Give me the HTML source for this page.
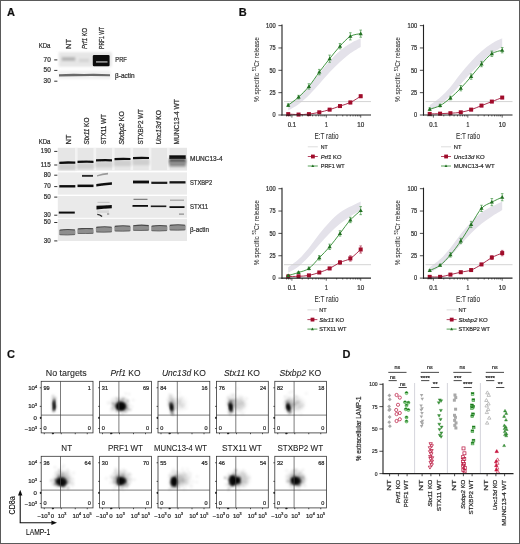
<!DOCTYPE html>
<html><head><meta charset="utf-8"><style>
html,body{margin:0;padding:0;background:#fff;}
body{width:520px;height:544px;overflow:hidden;}
svg{display:block;font-family:"Liberation Sans", sans-serif;}
text{stroke:#2a2a2a;stroke-width:0.22px;}
text.L{stroke-width:0.08px;}
</style></head><body>
<svg width="520" height="544" viewBox="0 0 520 544">
<defs>
<filter id="soft" filterUnits="userSpaceOnUse" x="0" y="0" width="520" height="544"><feGaussianBlur stdDeviation="0.3"/></filter>
<filter id="b05" x="-20%" y="-50%" width="140%" height="200%"><feGaussianBlur stdDeviation="0.5"/></filter>
<filter id="b07" x="-20%" y="-20%" width="140%" height="140%"><feGaussianBlur stdDeviation="0.8"/></filter>
<filter id="b1" x="-30%" y="-60%" width="160%" height="220%"><feGaussianBlur stdDeviation="1"/></filter>
<filter id="b2" x="-60%" y="-60%" width="220%" height="220%"><feGaussianBlur stdDeviation="2"/></filter>
</defs>
<rect x="0" y="0" width="520" height="544" fill="#fff"/>
<g filter="url(#soft)">
<text x="6.90" y="16.30" font-size="11" font-weight="bold" fill="#111" >A</text>
<text x="238.80" y="16.30" font-size="11" font-weight="bold" fill="#111" >B</text>
<text x="7.00" y="357.80" font-size="11" font-weight="bold" fill="#111" >C</text>
<text x="342.60" y="357.80" font-size="11" font-weight="bold" fill="#111" >D</text>
<g fill="#333">
<text x="38.70" y="48.00" font-size="6.4" textLength="11.80" lengthAdjust="spacingAndGlyphs" >KDa</text>
<text x="50.80" y="61.60" font-size="6.6" text-anchor="end" textLength="7.20" lengthAdjust="spacingAndGlyphs" >70</text>
<rect x="54.2" y="59.4" width="3.2" height="1.0"/>
<text x="50.80" y="72.10" font-size="6.6" text-anchor="end" textLength="7.20" lengthAdjust="spacingAndGlyphs" >50</text>
<rect x="54.2" y="69.9" width="3.2" height="1.0"/>
<text x="50.80" y="82.90" font-size="6.6" text-anchor="end" textLength="7.20" lengthAdjust="spacingAndGlyphs" >30</text>
<rect x="54.2" y="80.7" width="3.2" height="1.0"/>
<text x="71.40" y="48.90" font-size="6.9" textLength="10.00" lengthAdjust="spacingAndGlyphs" transform="rotate(-90 71.40 48.90)" >NT</text>
<text x="87.00" y="48.90" font-size="6.9" textLength="21.00" lengthAdjust="spacingAndGlyphs" transform="rotate(-90 87.00 48.90)" ><tspan font-style="italic">Prf1</tspan> KO</text>
<text x="104.40" y="48.90" font-size="6.9" textLength="22.00" lengthAdjust="spacingAndGlyphs" transform="rotate(-90 104.40 48.90)" >PRF1 WT</text>
<text x="115.30" y="61.80" font-size="6.6" textLength="11.50" lengthAdjust="spacingAndGlyphs" >PRF</text>
<text x="115.10" y="77.60" font-size="6.8" textLength="19.50" lengthAdjust="spacingAndGlyphs" >β-actin</text>
</g>
<rect x="58.7" y="52.2" width="53" height="14.6" fill="#e6e6e6" filter="url(#b1)"/>
<rect x="58.7" y="70.5" width="52" height="8.5" fill="#f1f1f1" filter="url(#b1)"/>
<rect x="61.8" y="57.2" width="13.4" height="3.6" fill="#b4b4b4" filter="url(#b1)"/>
<rect x="79" y="58.8" width="10" height="3.2" fill="#d4d4d4" filter="url(#b1)"/>
<rect x="92.8" y="54.9" width="16.8" height="11.4" rx="1.2" fill="#111" filter="url(#b05)"/>
<rect x="96.0" y="61.0" width="11.5" height="1.8" fill="#8a8a8a" filter="url(#b05)"/>
<path d="M59 74.2 Q70 73.4 84 73.9 Q98 73.5 110 74.3 L110 76.2 Q85 75.9 59 76.4Z" fill="#6a6a6a" filter="url(#b05)"/>
<g fill="#333">
<text x="38.70" y="143.60" font-size="6.4" textLength="11.80" lengthAdjust="spacingAndGlyphs" >KDa</text>
<text x="70.80" y="144.60" font-size="6.8" textLength="10.00" lengthAdjust="spacingAndGlyphs" transform="rotate(-90 70.80 144.60)" >NT</text>
<text x="88.80" y="144.60" font-size="6.8" textLength="27.00" lengthAdjust="spacingAndGlyphs" transform="rotate(-90 88.80 144.60)" ><tspan font-style="italic">Stx11</tspan> KO</text>
<text x="106.40" y="144.60" font-size="6.8" textLength="30.50" lengthAdjust="spacingAndGlyphs" transform="rotate(-90 106.40 144.60)" >STX11 WT</text>
<text x="124.20" y="144.60" font-size="6.8" textLength="33.50" lengthAdjust="spacingAndGlyphs" transform="rotate(-90 124.20 144.60)" ><tspan font-style="italic">Stxbp2</tspan> KO</text>
<text x="142.80" y="144.60" font-size="6.8" textLength="35.50" lengthAdjust="spacingAndGlyphs" transform="rotate(-90 142.80 144.60)" >STXBP2 WT</text>
<text x="161.00" y="144.60" font-size="6.8" textLength="34.50" lengthAdjust="spacingAndGlyphs" transform="rotate(-90 161.00 144.60)" ><tspan font-style="italic">Unc13d</tspan> KO</text>
<text x="179.00" y="144.60" font-size="6.8" textLength="45.50" lengthAdjust="spacingAndGlyphs" transform="rotate(-90 179.00 144.60)" >MUNC13-4 WT</text>
<text x="50.80" y="153.20" font-size="6.8" text-anchor="end" textLength="10.00" lengthAdjust="spacingAndGlyphs" >190</text>
<rect x="54.2" y="150.9" width="3.2" height="1.0"/>
<text x="50.80" y="166.80" font-size="6.8" text-anchor="end" textLength="10.00" lengthAdjust="spacingAndGlyphs" >115</text>
<rect x="54.2" y="164.5" width="3.2" height="1.0"/>
<text x="50.80" y="177.00" font-size="6.8" text-anchor="end" textLength="7.00" lengthAdjust="spacingAndGlyphs" >80</text>
<rect x="54.2" y="174.7" width="3.2" height="1.0"/>
<text x="50.80" y="188.40" font-size="6.8" text-anchor="end" textLength="7.00" lengthAdjust="spacingAndGlyphs" >70</text>
<rect x="54.2" y="186.1" width="3.2" height="1.0"/>
<text x="50.80" y="198.90" font-size="6.8" text-anchor="end" textLength="7.00" lengthAdjust="spacingAndGlyphs" >50</text>
<rect x="54.2" y="196.6" width="3.2" height="1.0"/>
<text x="50.80" y="217.00" font-size="6.8" text-anchor="end" textLength="7.00" lengthAdjust="spacingAndGlyphs" >30</text>
<rect x="54.2" y="214.7" width="3.2" height="1.0"/>
<text x="50.80" y="224.30" font-size="6.8" text-anchor="end" textLength="7.00" lengthAdjust="spacingAndGlyphs" >50</text>
<rect x="54.2" y="222.0" width="3.2" height="1.0"/>
<text x="50.80" y="242.70" font-size="6.8" text-anchor="end" textLength="7.00" lengthAdjust="spacingAndGlyphs" >30</text>
<rect x="54.2" y="240.4" width="3.2" height="1.0"/>
<text x="190.00" y="161.20" font-size="6.6" textLength="32.50" lengthAdjust="spacingAndGlyphs" >MUNC13-4</text>
<text x="190.00" y="185.40" font-size="6.6" textLength="22.20" lengthAdjust="spacingAndGlyphs" >STXBP2</text>
<text x="190.00" y="208.60" font-size="6.6" textLength="18.00" lengthAdjust="spacingAndGlyphs" >STX11</text>
<text x="190.00" y="231.80" font-size="6.8" textLength="19.00" lengthAdjust="spacingAndGlyphs" >β-actin</text>
</g>
<rect x="57.8" y="147.8" width="129.2" height="22.8" fill="#e6e6e6"/>
<rect x="57.8" y="172.4" width="129.2" height="22.2" fill="#ececec"/>
<rect x="57.8" y="196.0" width="129.2" height="21.8" fill="#eaeaea"/>
<rect x="57.8" y="218.8" width="129.2" height="22.2" fill="#e8e8e8"/>
<rect x="75.0" y="148" width="2.6" height="22.4" fill="#f3f3f3" filter="url(#b05)"/>
<rect x="93.5" y="148" width="2.6" height="22.4" fill="#f3f3f3" filter="url(#b05)"/>
<rect x="112.0" y="148" width="2.6" height="22.4" fill="#f3f3f3" filter="url(#b05)"/>
<rect x="130.5" y="148" width="2.6" height="22.4" fill="#f3f3f3" filter="url(#b05)"/>
<rect x="148.8" y="148" width="2.6" height="22.4" fill="#f3f3f3" filter="url(#b05)"/>
<rect x="167.0" y="148" width="2.6" height="22.4" fill="#f3f3f3" filter="url(#b05)"/>
<rect x="58.8" y="163.9" width="17.0" height="6" fill="#cfcfcf" filter="url(#b1)"/>
<path d="M59.3 161.7 Q67.3 161.1 75.3 161.6 L75.3 163.8 Q67.3 163.4 59.3 164.0Z" fill="#111" filter="url(#b05)"/>
<rect x="77.0" y="163.0" width="17.0" height="6" fill="#cfcfcf" filter="url(#b1)"/>
<path d="M77.5 160.8 Q85.5 160.2 93.5 160.7 L93.5 162.9 Q85.5 162.5 77.5 163.1Z" fill="#111" filter="url(#b05)"/>
<rect x="95.5" y="161.5" width="17.0" height="6" fill="#cfcfcf" filter="url(#b1)"/>
<path d="M96.0 159.3 Q104.0 158.7 112.0 159.2 L112.0 161.4 Q104.0 161.0 96.0 161.6Z" fill="#111" filter="url(#b05)"/>
<rect x="114.0" y="160.2" width="17.0" height="6" fill="#cfcfcf" filter="url(#b1)"/>
<path d="M114.5 158.0 Q122.5 157.4 130.5 157.9 L130.5 160.1 Q122.5 159.7 114.5 160.3Z" fill="#111" filter="url(#b05)"/>
<rect x="132.5" y="159.2" width="17.0" height="6" fill="#cfcfcf" filter="url(#b1)"/>
<path d="M133.0 157.0 Q141.0 156.4 149.0 156.9 L149.0 159.1 Q141.0 158.7 133.0 159.3Z" fill="#111" filter="url(#b05)"/>
<rect x="169.0" y="157.5" width="17.0" height="6" fill="#cfcfcf" filter="url(#b1)"/>
<rect x="169.3" y="155.3" width="16.4" height="3.8" fill="#0e0e0e" filter="url(#b05)"/>
<rect x="169.3" y="158.9" width="16.4" height="4" fill="#555" filter="url(#b1)"/>
<rect x="169.3" y="162.0" width="16.4" height="4.5" fill="#8a8a8a" filter="url(#b1)"/>
<path d="M96.3 184.0 Q103.5 183.0 111.9 182.2 L111.9 184.7 Q103.5 185.2 96.3 186.6Z" fill="#0a0a0a" filter="url(#b05)"/>
<rect x="59.3" y="185.1" width="16.0" height="2.4" fill="#111" filter="url(#b05)"/>
<rect x="77.5" y="184.6" width="16.0" height="2.5" fill="#111" filter="url(#b05)"/>
<rect x="133.0" y="180.6" width="16.0" height="2.8" fill="#0a0a0a" filter="url(#b05)"/>
<rect x="151.3" y="181.7" width="16.0" height="2.2" fill="#1a1a1a" filter="url(#b05)"/>
<rect x="169.5" y="181.2" width="16.0" height="2.3" fill="#151515" filter="url(#b05)"/>
<rect x="82.0" y="174.9" width="11" height="1.9" fill="#2a2a2a" filter="url(#b05)"/>
<path d="M97.0 175.2 Q102.5 173.0 108.0 172.8 L108.0 174.4 Q102.5 174.6 97.0 176.6Z" fill="#9a9a9a" filter="url(#b05)"/>
<rect x="58.8" y="211.6" width="16" height="2.0" fill="#111" filter="url(#b05)"/>
<path d="M96.5 205.8 Q103.5 205.2 111.8 204.9 L111.8 208.3 Q103.5 208.6 96.5 209.6Z" fill="#0a0a0a" filter="url(#b05)"/>
<rect x="97.5" y="201.8" width="12" height="1.2" fill="#c8c8c8" filter="url(#b05)"/>
<rect x="97.0" y="210.3" width="12" height="2.6" fill="#d8d8d8" filter="url(#b05)"/>
<path d="M97.3 214.4 Q100.0 214.6 102.0 216.6" stroke="#222" stroke-width="1.4" fill="none" filter="url(#b05)"/>
<rect x="107.0" y="213.4" width="2.2" height="1.2" fill="#888" filter="url(#b05)"/>
<rect x="132.5" y="205.0" width="15.5" height="1.8" fill="#111" filter="url(#b05)"/>
<rect x="133.5" y="198.8" width="14" height="1.0" fill="#666" filter="url(#b05)"/>
<rect x="150.8" y="205.5" width="15.5" height="1.6" fill="#1a1a1a" filter="url(#b05)"/>
<rect x="169.5" y="206.2" width="15" height="1.8" fill="#111" filter="url(#b05)"/>
<rect x="170.0" y="199.7" width="14" height="0.9" fill="#888" filter="url(#b05)"/>
<rect x="179.0" y="213.6" width="5" height="1" fill="#777" filter="url(#b05)"/>
<rect x="59.2" y="229.5" width="16.2" height="5.8" rx="1.6" fill="#8e8e8e" filter="url(#b05)"/>
<path d="M59.6 230.2 Q67.3 229.0 75.0 230.0" stroke="#4a4a4a" stroke-width="1.1" fill="none" filter="url(#b05)"/>
<path d="M59.6 234.6 Q67.3 235.2 75.0 234.4" stroke="#666" stroke-width="0.9" fill="none" filter="url(#b05)"/>
<rect x="77.4" y="228.3" width="16.2" height="5.8" rx="1.6" fill="#8e8e8e" filter="url(#b05)"/>
<path d="M77.8 229.0 Q85.5 227.8 93.2 228.8" stroke="#4a4a4a" stroke-width="1.1" fill="none" filter="url(#b05)"/>
<path d="M77.8 233.4 Q85.5 234.0 93.2 233.2" stroke="#666" stroke-width="0.9" fill="none" filter="url(#b05)"/>
<rect x="95.9" y="226.7" width="16.2" height="5.8" rx="1.6" fill="#8e8e8e" filter="url(#b05)"/>
<path d="M96.3 227.4 Q104.0 226.2 111.7 227.2" stroke="#4a4a4a" stroke-width="1.1" fill="none" filter="url(#b05)"/>
<path d="M96.3 231.8 Q104.0 232.4 111.7 231.6" stroke="#666" stroke-width="0.9" fill="none" filter="url(#b05)"/>
<rect x="114.4" y="225.7" width="16.2" height="5.8" rx="1.6" fill="#8e8e8e" filter="url(#b05)"/>
<path d="M114.8 226.4 Q122.5 225.2 130.2 226.2" stroke="#4a4a4a" stroke-width="1.1" fill="none" filter="url(#b05)"/>
<path d="M114.8 230.8 Q122.5 231.4 130.2 230.6" stroke="#666" stroke-width="0.9" fill="none" filter="url(#b05)"/>
<rect x="132.9" y="225.1" width="16.2" height="5.8" rx="1.6" fill="#8e8e8e" filter="url(#b05)"/>
<path d="M133.3 225.8 Q141.0 224.6 148.7 225.6" stroke="#4a4a4a" stroke-width="1.1" fill="none" filter="url(#b05)"/>
<path d="M133.3 230.2 Q141.0 230.8 148.7 230.0" stroke="#666" stroke-width="0.9" fill="none" filter="url(#b05)"/>
<rect x="151.2" y="225.5" width="16.2" height="5.8" rx="1.6" fill="#8e8e8e" filter="url(#b05)"/>
<path d="M151.6 226.2 Q159.3 225.0 167.0 226.0" stroke="#4a4a4a" stroke-width="1.1" fill="none" filter="url(#b05)"/>
<path d="M151.6 230.6 Q159.3 231.2 167.0 230.4" stroke="#666" stroke-width="0.9" fill="none" filter="url(#b05)"/>
<rect x="169.4" y="224.7" width="16.2" height="5.8" rx="1.6" fill="#8e8e8e" filter="url(#b05)"/>
<path d="M169.8 225.4 Q177.5 224.2 185.2 225.2" stroke="#4a4a4a" stroke-width="1.1" fill="none" filter="url(#b05)"/>
<path d="M169.8 229.8 Q177.5 230.4 185.2 229.6" stroke="#666" stroke-width="0.9" fill="none" filter="url(#b05)"/>
<path d="M288.21 105.17 C289.94 103.83 295.12 100.22 298.57 97.12 C302.02 94.02 305.47 90.49 308.92 86.57 C312.37 82.65 315.83 77.85 319.28 73.61 C322.73 69.36 326.18 64.89 329.63 61.09 C333.09 57.29 336.54 53.75 339.99 50.81 C343.44 47.88 346.89 45.57 350.34 43.48 C353.80 41.39 358.97 39.16 360.70 38.29 L360.70 46.88 C358.97 47.95 353.80 50.78 350.34 53.31 C346.89 55.85 343.44 58.90 339.99 62.08 C336.54 65.25 333.09 68.71 329.63 72.36 C326.18 76.01 322.73 80.18 319.28 83.98 C315.83 87.78 312.37 91.77 308.92 95.15 C305.47 98.54 302.02 101.71 298.57 104.27 C295.12 106.83 289.94 109.49 288.21 110.53 Z" fill="#e4e2ea"/>
<line x1="284.00" y1="101.59" x2="371.00" y2="101.59" stroke="#cfcfcf" stroke-width="0.9"/>
<path d="M288.21 114.11 C289.94 114.18 295.12 114.55 298.57 114.55 C302.02 114.55 305.47 114.48 308.92 114.11 C312.37 113.73 315.83 113.06 319.28 112.32 C322.73 111.57 326.18 110.68 329.63 109.64 C333.09 108.59 336.54 107.25 339.99 106.06 C343.44 104.87 346.89 104.12 350.34 102.48 C353.80 100.85 358.97 97.27 360.70 96.23" fill="none" stroke="#a3173a" stroke-width="0.9"/>
<path d="M288.21 105.17 C289.94 103.83 295.12 100.25 298.57 97.12 C302.02 93.99 305.47 90.56 308.92 86.39 C312.37 82.22 315.83 76.71 319.28 72.09 C322.73 67.47 326.18 63.00 329.63 58.68 C333.09 54.36 336.54 49.89 339.99 46.16 C343.44 42.44 346.89 38.41 350.34 36.33 C353.80 34.24 358.97 34.09 360.70 33.65" fill="none" stroke="#2f8a30" stroke-width="0.9"/>
<path d="M288.21 103.83V106.51M286.91 103.83H289.51M286.91 106.51H289.51" stroke="#2f8a30" stroke-width="0.6" fill="none"/>
<path d="M298.57 95.33V98.91M297.27 95.33H299.87M297.27 98.91H299.87" stroke="#2f8a30" stroke-width="0.6" fill="none"/>
<path d="M308.92 83.71V89.07M307.62 83.71H310.22M307.62 89.07H310.22" stroke="#2f8a30" stroke-width="0.6" fill="none"/>
<path d="M319.28 69.41V74.77M317.98 69.41H320.58M317.98 74.77H320.58" stroke="#2f8a30" stroke-width="0.6" fill="none"/>
<path d="M329.63 55.10V62.25M328.33 55.10H330.93M328.33 62.25H330.93" stroke="#2f8a30" stroke-width="0.6" fill="none"/>
<path d="M339.99 43.48V48.84M338.69 43.48H341.29M338.69 48.84H341.29" stroke="#2f8a30" stroke-width="0.6" fill="none"/>
<path d="M350.34 32.75V39.90M349.04 32.75H351.64M349.04 39.90H351.64" stroke="#2f8a30" stroke-width="0.6" fill="none"/>
<path d="M360.70 30.07V37.22M359.40 30.07H362.00M359.40 37.22H362.00" stroke="#2f8a30" stroke-width="0.6" fill="none"/>
<path d="M339.99 105.17V106.95M338.69 105.17H341.29M338.69 106.95H341.29" stroke="#a3173a" stroke-width="0.6" fill="none"/>
<path d="M350.34 101.14V103.83M349.04 101.14H351.64M349.04 103.83H351.64" stroke="#a3173a" stroke-width="0.6" fill="none"/>
<path d="M360.70 94.89V97.57M359.40 94.89H362.00M359.40 97.57H362.00" stroke="#a3173a" stroke-width="0.6" fill="none"/>
<rect x="286.21" y="112.11" width="4.0" height="4.0" fill="#a00a2c"/>
<rect x="296.57" y="112.55" width="4.0" height="4.0" fill="#a00a2c"/>
<rect x="306.92" y="112.11" width="4.0" height="4.0" fill="#a00a2c"/>
<rect x="317.28" y="110.32" width="4.0" height="4.0" fill="#a00a2c"/>
<rect x="327.63" y="107.64" width="4.0" height="4.0" fill="#a00a2c"/>
<rect x="337.99" y="104.06" width="4.0" height="4.0" fill="#a00a2c"/>
<rect x="348.34" y="100.48" width="4.0" height="4.0" fill="#a00a2c"/>
<rect x="358.70" y="94.23" width="4.0" height="4.0" fill="#a00a2c"/>
<path d="M288.21 102.97L290.31 106.67L286.11 106.67Z" fill="#237023"/>
<path d="M298.57 94.92L300.67 98.62L296.47 98.62Z" fill="#237023"/>
<path d="M308.92 84.19L311.02 87.89L306.82 87.89Z" fill="#237023"/>
<path d="M319.28 69.89L321.38 73.59L317.18 73.59Z" fill="#237023"/>
<path d="M329.63 56.48L331.73 60.18L327.53 60.18Z" fill="#237023"/>
<path d="M339.99 43.96L342.09 47.66L337.89 47.66Z" fill="#237023"/>
<path d="M350.34 34.13L352.44 37.83L348.24 37.83Z" fill="#237023"/>
<path d="M360.70 31.45L362.80 35.15L358.60 35.15Z" fill="#237023"/>
<g stroke="#222" fill="none">
<line x1="282.00" y1="24.60" x2="282.00" y2="115.60" stroke-width="1.1"/>
<line x1="281.50" y1="115.00" x2="371.00" y2="115.00" stroke-width="1.2"/>
<line x1="278.40" y1="115.00" x2="282.00" y2="115.00" stroke-width="0.8"/>
<line x1="278.40" y1="92.65" x2="282.00" y2="92.65" stroke-width="0.8"/>
<line x1="278.40" y1="70.30" x2="282.00" y2="70.30" stroke-width="0.8"/>
<line x1="278.40" y1="47.95" x2="282.00" y2="47.95" stroke-width="0.8"/>
<line x1="278.40" y1="25.60" x2="282.00" y2="25.60" stroke-width="0.8"/>
<line x1="286.57" y1="115.00" x2="286.57" y2="116.40" stroke-width="0.7"/>
<line x1="288.57" y1="115.00" x2="288.57" y2="116.40" stroke-width="0.7"/>
<line x1="290.33" y1="115.00" x2="290.33" y2="116.40" stroke-width="0.7"/>
<line x1="291.90" y1="115.00" x2="291.90" y2="117.60" stroke-width="0.7"/>
<line x1="302.26" y1="115.00" x2="302.26" y2="116.40" stroke-width="0.7"/>
<line x1="308.31" y1="115.00" x2="308.31" y2="116.40" stroke-width="0.7"/>
<line x1="312.61" y1="115.00" x2="312.61" y2="116.40" stroke-width="0.7"/>
<line x1="315.94" y1="115.00" x2="315.94" y2="116.40" stroke-width="0.7"/>
<line x1="318.67" y1="115.00" x2="318.67" y2="116.40" stroke-width="0.7"/>
<line x1="320.97" y1="115.00" x2="320.97" y2="116.40" stroke-width="0.7"/>
<line x1="322.97" y1="115.00" x2="322.97" y2="116.40" stroke-width="0.7"/>
<line x1="324.73" y1="115.00" x2="324.73" y2="116.40" stroke-width="0.7"/>
<line x1="326.30" y1="115.00" x2="326.30" y2="117.60" stroke-width="0.7"/>
<line x1="336.66" y1="115.00" x2="336.66" y2="116.40" stroke-width="0.7"/>
<line x1="342.71" y1="115.00" x2="342.71" y2="116.40" stroke-width="0.7"/>
<line x1="347.01" y1="115.00" x2="347.01" y2="116.40" stroke-width="0.7"/>
<line x1="350.34" y1="115.00" x2="350.34" y2="116.40" stroke-width="0.7"/>
<line x1="353.07" y1="115.00" x2="353.07" y2="116.40" stroke-width="0.7"/>
<line x1="355.37" y1="115.00" x2="355.37" y2="116.40" stroke-width="0.7"/>
<line x1="357.37" y1="115.00" x2="357.37" y2="116.40" stroke-width="0.7"/>
<line x1="359.13" y1="115.00" x2="359.13" y2="116.40" stroke-width="0.7"/>
<line x1="360.70" y1="115.00" x2="360.70" y2="117.60" stroke-width="0.7"/>
</g>
<g fill="#333">
<text x="275.60" y="117.30" font-size="6.5" text-anchor="end" textLength="3.10" lengthAdjust="spacingAndGlyphs" >0</text>
<text x="275.60" y="94.95" font-size="6.5" text-anchor="end" textLength="6.20" lengthAdjust="spacingAndGlyphs" >25</text>
<text x="275.60" y="72.60" font-size="6.5" text-anchor="end" textLength="6.20" lengthAdjust="spacingAndGlyphs" >50</text>
<text x="275.60" y="50.25" font-size="6.5" text-anchor="end" textLength="6.20" lengthAdjust="spacingAndGlyphs" >75</text>
<text x="275.60" y="27.90" font-size="6.5" text-anchor="end" textLength="9.60" lengthAdjust="spacingAndGlyphs" >100</text>
<text x="291.90" y="126.60" font-size="6.4" text-anchor="middle" textLength="8.40" lengthAdjust="spacingAndGlyphs" >0.1</text>
<text x="326.30" y="126.60" font-size="6.4" text-anchor="middle" textLength="2.80" lengthAdjust="spacingAndGlyphs" >1</text>
<text x="360.70" y="126.60" font-size="6.4" text-anchor="middle" textLength="7.00" lengthAdjust="spacingAndGlyphs" >10</text>
<text x="326.50" y="139.10" font-size="8.8" text-anchor="middle" textLength="24.00" lengthAdjust="spacingAndGlyphs" class="L" >E:T ratio</text>
<text x="259.00" y="69.60" font-size="8.0" text-anchor="middle" textLength="65.00" lengthAdjust="spacingAndGlyphs" transform="rotate(-90 259.00 69.60)" class="L" >% specific <tspan font-size="5" dy="-2.6">51</tspan><tspan dy="2.6">Cr release</tspan></text>
<line x1="307.80" y1="146.80" x2="317.80" y2="146.80" stroke="#ddd" stroke-width="1.0"/>
<line x1="307.80" y1="156.50" x2="317.80" y2="156.50" stroke="#a3173a" stroke-width="0.8"/>
<rect x="311.00" y="154.60" width="3.8" height="3.8" fill="#a00a2c"/>
<line x1="307.80" y1="166.00" x2="317.80" y2="166.00" stroke="#2f8a30" stroke-width="0.8"/>
<path d="M312.80 164.40L314.30 167.10L311.30 167.10Z" fill="#237023"/>
<text x="320.80" y="148.90" font-size="6.2" textLength="6.90" lengthAdjust="spacingAndGlyphs" >NT</text>
<text x="320.80" y="158.60" font-size="6.2" textLength="20.70" lengthAdjust="spacingAndGlyphs" ><tspan font-style="italic">Prf1</tspan> KO</text>
<text x="320.80" y="168.10" font-size="6.2" textLength="23.80" lengthAdjust="spacingAndGlyphs" >PRF1 WT</text>
</g>
<path d="M429.71 105.17 C431.44 103.90 436.62 100.59 440.07 97.57 C443.52 94.54 446.97 91.01 450.42 87.02 C453.87 83.02 457.33 77.85 460.78 73.61 C464.23 69.36 467.68 65.26 471.13 61.54 C474.59 57.81 478.04 54.27 481.49 51.26 C484.94 48.25 488.39 45.64 491.84 43.48 C495.30 41.32 500.47 39.16 502.20 38.29 L502.20 46.88 C500.47 47.95 495.30 50.71 491.84 53.31 C488.39 55.92 484.94 59.27 481.49 62.52 C478.04 65.77 474.59 69.23 471.13 72.80 C467.68 76.38 464.23 80.18 460.78 83.98 C457.33 87.78 453.87 92.14 450.42 95.60 C446.97 99.06 443.52 102.23 440.07 104.72 C436.62 107.21 431.44 109.56 429.71 110.53 Z" fill="#e4e2ea"/>
<line x1="425.50" y1="101.59" x2="512.50" y2="101.59" stroke="#cfcfcf" stroke-width="0.9"/>
<path d="M429.71 113.93 C431.44 113.88 436.62 113.78 440.07 113.66 C443.52 113.54 446.97 113.44 450.42 113.21 C453.87 112.99 457.33 112.91 460.78 112.32 C464.23 111.72 467.68 110.75 471.13 109.64 C474.59 108.52 478.04 106.95 481.49 105.61 C484.94 104.27 488.39 102.93 491.84 101.59 C495.30 100.25 500.47 98.24 502.20 97.57" fill="none" stroke="#a3173a" stroke-width="0.9"/>
<path d="M429.71 109.19 C431.44 108.59 436.62 107.48 440.07 105.61 C443.52 103.75 446.97 100.92 450.42 98.01 C453.87 95.11 457.33 91.76 460.78 88.18 C464.23 84.60 467.68 80.58 471.13 76.56 C474.59 72.53 478.04 67.84 481.49 64.04 C484.94 60.24 488.39 56.07 491.84 53.76 C495.30 51.45 500.47 50.78 502.20 50.19" fill="none" stroke="#2f8a30" stroke-width="0.9"/>
<path d="M429.71 107.85V110.53M428.41 107.85H431.01M428.41 110.53H431.01" stroke="#2f8a30" stroke-width="0.6" fill="none"/>
<path d="M440.07 104.27V106.95M438.77 104.27H441.37M438.77 106.95H441.37" stroke="#2f8a30" stroke-width="0.6" fill="none"/>
<path d="M450.42 96.23V99.80M449.12 96.23H451.72M449.12 99.80H451.72" stroke="#2f8a30" stroke-width="0.6" fill="none"/>
<path d="M460.78 85.50V90.86M459.48 85.50H462.08M459.48 90.86H462.08" stroke="#2f8a30" stroke-width="0.6" fill="none"/>
<path d="M471.13 73.88V79.24M469.83 73.88H472.43M469.83 79.24H472.43" stroke="#2f8a30" stroke-width="0.6" fill="none"/>
<path d="M481.49 61.36V66.72M480.19 61.36H482.79M480.19 66.72H482.79" stroke="#2f8a30" stroke-width="0.6" fill="none"/>
<path d="M491.84 51.08V56.44M490.54 51.08H493.14M490.54 56.44H493.14" stroke="#2f8a30" stroke-width="0.6" fill="none"/>
<path d="M502.20 47.50V52.87M500.90 47.50H503.50M500.90 52.87H503.50" stroke="#2f8a30" stroke-width="0.6" fill="none"/>
<path d="M491.84 100.70V102.48M490.54 100.70H493.14M490.54 102.48H493.14" stroke="#a3173a" stroke-width="0.6" fill="none"/>
<path d="M502.20 96.67V98.46M500.90 96.67H503.50M500.90 98.46H503.50" stroke="#a3173a" stroke-width="0.6" fill="none"/>
<rect x="427.71" y="111.93" width="4.0" height="4.0" fill="#a00a2c"/>
<rect x="438.07" y="111.66" width="4.0" height="4.0" fill="#a00a2c"/>
<rect x="448.42" y="111.21" width="4.0" height="4.0" fill="#a00a2c"/>
<rect x="458.78" y="110.32" width="4.0" height="4.0" fill="#a00a2c"/>
<rect x="469.13" y="107.64" width="4.0" height="4.0" fill="#a00a2c"/>
<rect x="479.49" y="103.61" width="4.0" height="4.0" fill="#a00a2c"/>
<rect x="489.84" y="99.59" width="4.0" height="4.0" fill="#a00a2c"/>
<rect x="500.20" y="95.57" width="4.0" height="4.0" fill="#a00a2c"/>
<path d="M429.71 106.99L431.81 110.69L427.61 110.69Z" fill="#237023"/>
<path d="M440.07 103.41L442.17 107.11L437.97 107.11Z" fill="#237023"/>
<path d="M450.42 95.81L452.52 99.51L448.32 99.51Z" fill="#237023"/>
<path d="M460.78 85.98L462.88 89.68L458.68 89.68Z" fill="#237023"/>
<path d="M471.13 74.36L473.23 78.06L469.03 78.06Z" fill="#237023"/>
<path d="M481.49 61.84L483.59 65.54L479.39 65.54Z" fill="#237023"/>
<path d="M491.84 51.56L493.94 55.26L489.74 55.26Z" fill="#237023"/>
<path d="M502.20 47.98L504.30 51.69L500.10 51.69Z" fill="#237023"/>
<g stroke="#222" fill="none">
<line x1="423.50" y1="24.60" x2="423.50" y2="115.60" stroke-width="1.1"/>
<line x1="423.00" y1="115.00" x2="512.50" y2="115.00" stroke-width="1.2"/>
<line x1="419.90" y1="115.00" x2="423.50" y2="115.00" stroke-width="0.8"/>
<line x1="419.90" y1="92.65" x2="423.50" y2="92.65" stroke-width="0.8"/>
<line x1="419.90" y1="70.30" x2="423.50" y2="70.30" stroke-width="0.8"/>
<line x1="419.90" y1="47.95" x2="423.50" y2="47.95" stroke-width="0.8"/>
<line x1="419.90" y1="25.60" x2="423.50" y2="25.60" stroke-width="0.8"/>
<line x1="428.07" y1="115.00" x2="428.07" y2="116.40" stroke-width="0.7"/>
<line x1="430.07" y1="115.00" x2="430.07" y2="116.40" stroke-width="0.7"/>
<line x1="431.83" y1="115.00" x2="431.83" y2="116.40" stroke-width="0.7"/>
<line x1="433.40" y1="115.00" x2="433.40" y2="117.60" stroke-width="0.7"/>
<line x1="443.76" y1="115.00" x2="443.76" y2="116.40" stroke-width="0.7"/>
<line x1="449.81" y1="115.00" x2="449.81" y2="116.40" stroke-width="0.7"/>
<line x1="454.11" y1="115.00" x2="454.11" y2="116.40" stroke-width="0.7"/>
<line x1="457.44" y1="115.00" x2="457.44" y2="116.40" stroke-width="0.7"/>
<line x1="460.17" y1="115.00" x2="460.17" y2="116.40" stroke-width="0.7"/>
<line x1="462.47" y1="115.00" x2="462.47" y2="116.40" stroke-width="0.7"/>
<line x1="464.47" y1="115.00" x2="464.47" y2="116.40" stroke-width="0.7"/>
<line x1="466.23" y1="115.00" x2="466.23" y2="116.40" stroke-width="0.7"/>
<line x1="467.80" y1="115.00" x2="467.80" y2="117.60" stroke-width="0.7"/>
<line x1="478.16" y1="115.00" x2="478.16" y2="116.40" stroke-width="0.7"/>
<line x1="484.21" y1="115.00" x2="484.21" y2="116.40" stroke-width="0.7"/>
<line x1="488.51" y1="115.00" x2="488.51" y2="116.40" stroke-width="0.7"/>
<line x1="491.84" y1="115.00" x2="491.84" y2="116.40" stroke-width="0.7"/>
<line x1="494.57" y1="115.00" x2="494.57" y2="116.40" stroke-width="0.7"/>
<line x1="496.87" y1="115.00" x2="496.87" y2="116.40" stroke-width="0.7"/>
<line x1="498.87" y1="115.00" x2="498.87" y2="116.40" stroke-width="0.7"/>
<line x1="500.63" y1="115.00" x2="500.63" y2="116.40" stroke-width="0.7"/>
<line x1="502.20" y1="115.00" x2="502.20" y2="117.60" stroke-width="0.7"/>
</g>
<g fill="#333">
<text x="417.10" y="117.30" font-size="6.5" text-anchor="end" textLength="3.10" lengthAdjust="spacingAndGlyphs" >0</text>
<text x="417.10" y="94.95" font-size="6.5" text-anchor="end" textLength="6.20" lengthAdjust="spacingAndGlyphs" >25</text>
<text x="417.10" y="72.60" font-size="6.5" text-anchor="end" textLength="6.20" lengthAdjust="spacingAndGlyphs" >50</text>
<text x="417.10" y="50.25" font-size="6.5" text-anchor="end" textLength="6.20" lengthAdjust="spacingAndGlyphs" >75</text>
<text x="417.10" y="27.90" font-size="6.5" text-anchor="end" textLength="9.60" lengthAdjust="spacingAndGlyphs" >100</text>
<text x="433.40" y="126.60" font-size="6.4" text-anchor="middle" textLength="8.40" lengthAdjust="spacingAndGlyphs" >0.1</text>
<text x="467.80" y="126.60" font-size="6.4" text-anchor="middle" textLength="2.80" lengthAdjust="spacingAndGlyphs" >1</text>
<text x="502.20" y="126.60" font-size="6.4" text-anchor="middle" textLength="7.00" lengthAdjust="spacingAndGlyphs" >10</text>
<text x="468.00" y="139.10" font-size="8.8" text-anchor="middle" textLength="24.00" lengthAdjust="spacingAndGlyphs" class="L" >E:T ratio</text>
<text x="400.50" y="69.60" font-size="8.0" text-anchor="middle" textLength="65.00" lengthAdjust="spacingAndGlyphs" transform="rotate(-90 400.50 69.60)" class="L" >% specific <tspan font-size="5" dy="-2.6">51</tspan><tspan dy="2.6">Cr release</tspan></text>
<line x1="441.00" y1="146.80" x2="451.00" y2="146.80" stroke="#ddd" stroke-width="1.0"/>
<line x1="441.00" y1="156.50" x2="451.00" y2="156.50" stroke="#a3173a" stroke-width="0.8"/>
<rect x="444.20" y="154.60" width="3.8" height="3.8" fill="#a00a2c"/>
<line x1="441.00" y1="166.00" x2="451.00" y2="166.00" stroke="#2f8a30" stroke-width="0.8"/>
<path d="M446.00 164.40L447.50 167.10L444.50 167.10Z" fill="#237023"/>
<text x="453.80" y="148.90" font-size="6.2" textLength="7.70" lengthAdjust="spacingAndGlyphs" >NT</text>
<text x="453.80" y="158.60" font-size="6.2" textLength="30.80" lengthAdjust="spacingAndGlyphs" ><tspan font-style="italic">Unc13d</tspan> KO</text>
<text x="453.80" y="168.10" font-size="6.2" textLength="40.80" lengthAdjust="spacingAndGlyphs" >MUNC13-4 WT</text>
</g>
<path d="M288.21 267.37 C289.94 266.03 295.12 262.57 298.57 259.33 C302.02 256.08 305.47 252.10 308.92 247.88 C312.37 243.67 315.83 238.35 319.28 234.03 C322.73 229.70 326.18 225.53 329.63 221.96 C333.09 218.38 336.54 215.13 339.99 212.57 C343.44 210.01 346.89 208.44 350.34 206.58 C353.80 204.72 358.97 202.26 360.70 201.39 L360.70 209.98 C358.97 211.05 353.80 214.10 350.34 216.41 C346.89 218.72 343.44 221.03 339.99 223.83 C336.54 226.64 333.09 229.79 329.63 233.22 C326.18 236.65 322.73 240.52 319.28 244.40 C315.83 248.27 312.37 252.78 308.92 256.47 C305.47 260.15 302.02 263.77 298.57 266.48 C295.12 269.19 289.94 271.69 288.21 272.74 Z" fill="#e4e2ea"/>
<line x1="284.00" y1="264.69" x2="371.00" y2="264.69" stroke="#cfcfcf" stroke-width="0.9"/>
<path d="M288.21 276.49 C289.94 276.46 295.12 276.49 298.57 276.31 C302.02 276.13 305.47 276.06 308.92 275.42 C312.37 274.78 315.83 273.63 319.28 272.47 C322.73 271.31 326.18 270.11 329.63 268.44 C333.09 266.78 336.54 264.12 339.99 262.45 C343.44 260.79 346.89 260.59 350.34 258.43 C353.80 256.27 358.97 250.98 360.70 249.49" fill="none" stroke="#a3173a" stroke-width="0.9"/>
<path d="M288.21 275.60 C289.94 275.08 295.12 273.66 298.57 272.47 C302.02 271.28 305.47 270.89 308.92 268.44 C312.37 266.00 315.83 261.41 319.28 257.81 C322.73 254.20 326.18 250.88 329.63 246.81 C333.09 242.74 336.54 237.87 339.99 233.40 C343.44 228.93 346.89 223.79 350.34 219.99 C353.80 216.19 358.97 212.17 360.70 210.60" fill="none" stroke="#2f8a30" stroke-width="0.9"/>
<path d="M288.21 274.70V276.49M286.91 274.70H289.51M286.91 276.49H289.51" stroke="#2f8a30" stroke-width="0.6" fill="none"/>
<path d="M298.57 271.57V273.36M297.27 271.57H299.87M297.27 273.36H299.87" stroke="#2f8a30" stroke-width="0.6" fill="none"/>
<path d="M308.92 267.10V269.79M307.62 267.10H310.22M307.62 269.79H310.22" stroke="#2f8a30" stroke-width="0.6" fill="none"/>
<path d="M319.28 255.57V260.04M317.98 255.57H320.58M317.98 260.04H320.58" stroke="#2f8a30" stroke-width="0.6" fill="none"/>
<path d="M329.63 244.13V249.49M328.33 244.13H330.93M328.33 249.49H330.93" stroke="#2f8a30" stroke-width="0.6" fill="none"/>
<path d="M339.99 230.72V236.08M338.69 230.72H341.29M338.69 236.08H341.29" stroke="#2f8a30" stroke-width="0.6" fill="none"/>
<path d="M350.34 217.31V222.67M349.04 217.31H351.64M349.04 222.67H351.64" stroke="#2f8a30" stroke-width="0.6" fill="none"/>
<path d="M360.70 206.58V214.63M359.40 206.58H362.00M359.40 214.63H362.00" stroke="#2f8a30" stroke-width="0.6" fill="none"/>
<path d="M329.63 267.55V269.34M328.33 267.55H330.93M328.33 269.34H330.93" stroke="#a3173a" stroke-width="0.6" fill="none"/>
<path d="M339.99 260.67V264.24M338.69 260.67H341.29M338.69 264.24H341.29" stroke="#a3173a" stroke-width="0.6" fill="none"/>
<path d="M350.34 255.75V261.11M349.04 255.75H351.64M349.04 261.11H351.64" stroke="#a3173a" stroke-width="0.6" fill="none"/>
<path d="M360.70 245.92V253.07M359.40 245.92H362.00M359.40 253.07H362.00" stroke="#a3173a" stroke-width="0.6" fill="none"/>
<rect x="286.21" y="274.49" width="4.0" height="4.0" fill="#a00a2c"/>
<rect x="296.57" y="274.31" width="4.0" height="4.0" fill="#a00a2c"/>
<rect x="306.92" y="273.42" width="4.0" height="4.0" fill="#a00a2c"/>
<rect x="317.28" y="270.47" width="4.0" height="4.0" fill="#a00a2c"/>
<rect x="327.63" y="266.44" width="4.0" height="4.0" fill="#a00a2c"/>
<rect x="337.99" y="260.45" width="4.0" height="4.0" fill="#a00a2c"/>
<rect x="348.34" y="256.43" width="4.0" height="4.0" fill="#a00a2c"/>
<rect x="358.70" y="247.49" width="4.0" height="4.0" fill="#a00a2c"/>
<path d="M288.21 273.40L290.31 277.10L286.11 277.10Z" fill="#237023"/>
<path d="M298.57 270.27L300.67 273.97L296.47 273.97Z" fill="#237023"/>
<path d="M308.92 266.24L311.02 269.94L306.82 269.94Z" fill="#237023"/>
<path d="M319.28 255.61L321.38 259.31L317.18 259.31Z" fill="#237023"/>
<path d="M329.63 244.61L331.73 248.31L327.53 248.31Z" fill="#237023"/>
<path d="M339.99 231.20L342.09 234.90L337.89 234.90Z" fill="#237023"/>
<path d="M350.34 217.79L352.44 221.49L348.24 221.49Z" fill="#237023"/>
<path d="M360.70 208.40L362.80 212.10L358.60 212.10Z" fill="#237023"/>
<g stroke="#222" fill="none">
<line x1="282.00" y1="187.70" x2="282.00" y2="278.70" stroke-width="1.1"/>
<line x1="281.50" y1="278.10" x2="371.00" y2="278.10" stroke-width="1.2"/>
<line x1="278.40" y1="278.10" x2="282.00" y2="278.10" stroke-width="0.8"/>
<line x1="278.40" y1="255.75" x2="282.00" y2="255.75" stroke-width="0.8"/>
<line x1="278.40" y1="233.40" x2="282.00" y2="233.40" stroke-width="0.8"/>
<line x1="278.40" y1="211.05" x2="282.00" y2="211.05" stroke-width="0.8"/>
<line x1="278.40" y1="188.70" x2="282.00" y2="188.70" stroke-width="0.8"/>
<line x1="286.57" y1="278.10" x2="286.57" y2="279.50" stroke-width="0.7"/>
<line x1="288.57" y1="278.10" x2="288.57" y2="279.50" stroke-width="0.7"/>
<line x1="290.33" y1="278.10" x2="290.33" y2="279.50" stroke-width="0.7"/>
<line x1="291.90" y1="278.10" x2="291.90" y2="280.70" stroke-width="0.7"/>
<line x1="302.26" y1="278.10" x2="302.26" y2="279.50" stroke-width="0.7"/>
<line x1="308.31" y1="278.10" x2="308.31" y2="279.50" stroke-width="0.7"/>
<line x1="312.61" y1="278.10" x2="312.61" y2="279.50" stroke-width="0.7"/>
<line x1="315.94" y1="278.10" x2="315.94" y2="279.50" stroke-width="0.7"/>
<line x1="318.67" y1="278.10" x2="318.67" y2="279.50" stroke-width="0.7"/>
<line x1="320.97" y1="278.10" x2="320.97" y2="279.50" stroke-width="0.7"/>
<line x1="322.97" y1="278.10" x2="322.97" y2="279.50" stroke-width="0.7"/>
<line x1="324.73" y1="278.10" x2="324.73" y2="279.50" stroke-width="0.7"/>
<line x1="326.30" y1="278.10" x2="326.30" y2="280.70" stroke-width="0.7"/>
<line x1="336.66" y1="278.10" x2="336.66" y2="279.50" stroke-width="0.7"/>
<line x1="342.71" y1="278.10" x2="342.71" y2="279.50" stroke-width="0.7"/>
<line x1="347.01" y1="278.10" x2="347.01" y2="279.50" stroke-width="0.7"/>
<line x1="350.34" y1="278.10" x2="350.34" y2="279.50" stroke-width="0.7"/>
<line x1="353.07" y1="278.10" x2="353.07" y2="279.50" stroke-width="0.7"/>
<line x1="355.37" y1="278.10" x2="355.37" y2="279.50" stroke-width="0.7"/>
<line x1="357.37" y1="278.10" x2="357.37" y2="279.50" stroke-width="0.7"/>
<line x1="359.13" y1="278.10" x2="359.13" y2="279.50" stroke-width="0.7"/>
<line x1="360.70" y1="278.10" x2="360.70" y2="280.70" stroke-width="0.7"/>
</g>
<g fill="#333">
<text x="275.60" y="280.40" font-size="6.5" text-anchor="end" textLength="3.10" lengthAdjust="spacingAndGlyphs" >0</text>
<text x="275.60" y="258.05" font-size="6.5" text-anchor="end" textLength="6.20" lengthAdjust="spacingAndGlyphs" >25</text>
<text x="275.60" y="235.70" font-size="6.5" text-anchor="end" textLength="6.20" lengthAdjust="spacingAndGlyphs" >50</text>
<text x="275.60" y="213.35" font-size="6.5" text-anchor="end" textLength="6.20" lengthAdjust="spacingAndGlyphs" >75</text>
<text x="275.60" y="191.00" font-size="6.5" text-anchor="end" textLength="9.60" lengthAdjust="spacingAndGlyphs" >100</text>
<text x="291.90" y="289.70" font-size="6.4" text-anchor="middle" textLength="8.40" lengthAdjust="spacingAndGlyphs" >0.1</text>
<text x="326.30" y="289.70" font-size="6.4" text-anchor="middle" textLength="2.80" lengthAdjust="spacingAndGlyphs" >1</text>
<text x="360.70" y="289.70" font-size="6.4" text-anchor="middle" textLength="7.00" lengthAdjust="spacingAndGlyphs" >10</text>
<text x="326.50" y="302.20" font-size="8.8" text-anchor="middle" textLength="24.00" lengthAdjust="spacingAndGlyphs" class="L" >E:T ratio</text>
<text x="259.00" y="232.70" font-size="8.0" text-anchor="middle" textLength="65.00" lengthAdjust="spacingAndGlyphs" transform="rotate(-90 259.00 232.70)" class="L" >% specific <tspan font-size="5" dy="-2.6">51</tspan><tspan dy="2.6">Cr release</tspan></text>
<line x1="307.40" y1="309.90" x2="317.40" y2="309.90" stroke="#ddd" stroke-width="1.0"/>
<line x1="307.40" y1="319.60" x2="317.40" y2="319.60" stroke="#a3173a" stroke-width="0.8"/>
<rect x="310.60" y="317.70" width="3.8" height="3.8" fill="#a00a2c"/>
<line x1="307.40" y1="329.10" x2="317.40" y2="329.10" stroke="#2f8a30" stroke-width="0.8"/>
<path d="M312.40 327.50L313.90 330.20L310.90 330.20Z" fill="#237023"/>
<text x="319.20" y="312.00" font-size="6.2" textLength="7.30" lengthAdjust="spacingAndGlyphs" >NT</text>
<text x="319.20" y="321.70" font-size="6.2" textLength="25.00" lengthAdjust="spacingAndGlyphs" ><tspan font-style="italic">Stx11</tspan> KO</text>
<text x="319.20" y="331.20" font-size="6.2" textLength="27.30" lengthAdjust="spacingAndGlyphs" >STX11 WT</text>
</g>
<path d="M429.71 267.37 C431.44 266.03 436.62 262.57 440.07 259.33 C443.52 256.08 446.97 252.10 450.42 247.88 C453.87 243.67 457.33 238.35 460.78 234.03 C464.23 229.70 467.68 225.53 471.13 221.96 C474.59 218.38 478.04 215.13 481.49 212.57 C484.94 210.01 488.39 208.44 491.84 206.58 C495.30 204.72 500.47 202.26 502.20 201.39 L502.20 209.98 C500.47 211.05 495.30 214.10 491.84 216.41 C488.39 218.72 484.94 221.03 481.49 223.83 C478.04 226.64 474.59 229.79 471.13 233.22 C467.68 236.65 464.23 240.52 460.78 244.40 C457.33 248.27 453.87 252.78 450.42 256.47 C446.97 260.15 443.52 263.77 440.07 266.48 C436.62 269.19 431.44 271.69 429.71 272.74 Z" fill="#e4e2ea"/>
<line x1="425.50" y1="264.69" x2="512.50" y2="264.69" stroke="#cfcfcf" stroke-width="0.9"/>
<path d="M429.71 276.85 C431.44 276.85 436.62 277.22 440.07 276.85 C443.52 276.48 446.97 275.39 450.42 274.61 C453.87 273.84 457.33 272.96 460.78 272.20 C464.23 271.44 467.68 271.35 471.13 270.05 C474.59 268.76 478.04 266.51 481.49 264.42 C484.94 262.34 488.39 259.43 491.84 257.54 C495.30 255.65 500.47 253.81 502.20 253.07" fill="none" stroke="#a3173a" stroke-width="0.9"/>
<path d="M429.71 270.50 C431.44 269.64 436.62 267.92 440.07 265.32 C443.52 262.71 446.97 258.91 450.42 254.86 C453.87 250.80 457.33 246.06 460.78 241.00 C464.23 235.93 467.68 229.90 471.13 224.46 C474.59 219.02 478.04 212.09 481.49 208.37 C484.94 204.64 488.39 203.97 491.84 202.11 C495.30 200.25 500.47 198.01 502.20 197.19" fill="none" stroke="#2f8a30" stroke-width="0.9"/>
<path d="M429.71 269.61V271.39M428.41 269.61H431.01M428.41 271.39H431.01" stroke="#2f8a30" stroke-width="0.6" fill="none"/>
<path d="M440.07 264.42V266.21M438.77 264.42H441.37M438.77 266.21H441.37" stroke="#2f8a30" stroke-width="0.6" fill="none"/>
<path d="M450.42 252.62V257.09M449.12 252.62H451.72M449.12 257.09H451.72" stroke="#2f8a30" stroke-width="0.6" fill="none"/>
<path d="M460.78 238.32V243.68M459.48 238.32H462.08M459.48 243.68H462.08" stroke="#2f8a30" stroke-width="0.6" fill="none"/>
<path d="M471.13 221.33V227.59M469.83 221.33H472.43M469.83 227.59H472.43" stroke="#2f8a30" stroke-width="0.6" fill="none"/>
<path d="M481.49 205.24V211.50M480.19 205.24H482.79M480.19 211.50H482.79" stroke="#2f8a30" stroke-width="0.6" fill="none"/>
<path d="M491.84 198.53V205.69M490.54 198.53H493.14M490.54 205.69H493.14" stroke="#2f8a30" stroke-width="0.6" fill="none"/>
<path d="M502.20 193.62V200.77M500.90 193.62H503.50M500.90 200.77H503.50" stroke="#2f8a30" stroke-width="0.6" fill="none"/>
<path d="M491.84 255.75V259.33M490.54 255.75H493.14M490.54 259.33H493.14" stroke="#a3173a" stroke-width="0.6" fill="none"/>
<path d="M502.20 250.39V255.75M500.90 250.39H503.50M500.90 255.75H503.50" stroke="#a3173a" stroke-width="0.6" fill="none"/>
<rect x="427.71" y="274.85" width="4.0" height="4.0" fill="#a00a2c"/>
<rect x="438.07" y="274.85" width="4.0" height="4.0" fill="#a00a2c"/>
<rect x="448.42" y="272.61" width="4.0" height="4.0" fill="#a00a2c"/>
<rect x="458.78" y="270.20" width="4.0" height="4.0" fill="#a00a2c"/>
<rect x="469.13" y="268.05" width="4.0" height="4.0" fill="#a00a2c"/>
<rect x="479.49" y="262.42" width="4.0" height="4.0" fill="#a00a2c"/>
<rect x="489.84" y="255.54" width="4.0" height="4.0" fill="#a00a2c"/>
<rect x="500.20" y="251.07" width="4.0" height="4.0" fill="#a00a2c"/>
<path d="M429.71 268.30L431.81 272.00L427.61 272.00Z" fill="#237023"/>
<path d="M440.07 263.12L442.17 266.82L437.97 266.82Z" fill="#237023"/>
<path d="M450.42 252.66L452.52 256.36L448.32 256.36Z" fill="#237023"/>
<path d="M460.78 238.80L462.88 242.50L458.68 242.50Z" fill="#237023"/>
<path d="M471.13 222.26L473.23 225.96L469.03 225.96Z" fill="#237023"/>
<path d="M481.49 206.17L483.59 209.87L479.39 209.87Z" fill="#237023"/>
<path d="M491.84 199.91L493.94 203.61L489.74 203.61Z" fill="#237023"/>
<path d="M502.20 194.99L504.30 198.69L500.10 198.69Z" fill="#237023"/>
<g stroke="#222" fill="none">
<line x1="423.50" y1="187.70" x2="423.50" y2="278.70" stroke-width="1.1"/>
<line x1="423.00" y1="278.10" x2="512.50" y2="278.10" stroke-width="1.2"/>
<line x1="419.90" y1="278.10" x2="423.50" y2="278.10" stroke-width="0.8"/>
<line x1="419.90" y1="255.75" x2="423.50" y2="255.75" stroke-width="0.8"/>
<line x1="419.90" y1="233.40" x2="423.50" y2="233.40" stroke-width="0.8"/>
<line x1="419.90" y1="211.05" x2="423.50" y2="211.05" stroke-width="0.8"/>
<line x1="419.90" y1="188.70" x2="423.50" y2="188.70" stroke-width="0.8"/>
<line x1="428.07" y1="278.10" x2="428.07" y2="279.50" stroke-width="0.7"/>
<line x1="430.07" y1="278.10" x2="430.07" y2="279.50" stroke-width="0.7"/>
<line x1="431.83" y1="278.10" x2="431.83" y2="279.50" stroke-width="0.7"/>
<line x1="433.40" y1="278.10" x2="433.40" y2="280.70" stroke-width="0.7"/>
<line x1="443.76" y1="278.10" x2="443.76" y2="279.50" stroke-width="0.7"/>
<line x1="449.81" y1="278.10" x2="449.81" y2="279.50" stroke-width="0.7"/>
<line x1="454.11" y1="278.10" x2="454.11" y2="279.50" stroke-width="0.7"/>
<line x1="457.44" y1="278.10" x2="457.44" y2="279.50" stroke-width="0.7"/>
<line x1="460.17" y1="278.10" x2="460.17" y2="279.50" stroke-width="0.7"/>
<line x1="462.47" y1="278.10" x2="462.47" y2="279.50" stroke-width="0.7"/>
<line x1="464.47" y1="278.10" x2="464.47" y2="279.50" stroke-width="0.7"/>
<line x1="466.23" y1="278.10" x2="466.23" y2="279.50" stroke-width="0.7"/>
<line x1="467.80" y1="278.10" x2="467.80" y2="280.70" stroke-width="0.7"/>
<line x1="478.16" y1="278.10" x2="478.16" y2="279.50" stroke-width="0.7"/>
<line x1="484.21" y1="278.10" x2="484.21" y2="279.50" stroke-width="0.7"/>
<line x1="488.51" y1="278.10" x2="488.51" y2="279.50" stroke-width="0.7"/>
<line x1="491.84" y1="278.10" x2="491.84" y2="279.50" stroke-width="0.7"/>
<line x1="494.57" y1="278.10" x2="494.57" y2="279.50" stroke-width="0.7"/>
<line x1="496.87" y1="278.10" x2="496.87" y2="279.50" stroke-width="0.7"/>
<line x1="498.87" y1="278.10" x2="498.87" y2="279.50" stroke-width="0.7"/>
<line x1="500.63" y1="278.10" x2="500.63" y2="279.50" stroke-width="0.7"/>
<line x1="502.20" y1="278.10" x2="502.20" y2="280.70" stroke-width="0.7"/>
</g>
<g fill="#333">
<text x="417.10" y="280.40" font-size="6.5" text-anchor="end" textLength="3.10" lengthAdjust="spacingAndGlyphs" >0</text>
<text x="417.10" y="258.05" font-size="6.5" text-anchor="end" textLength="6.20" lengthAdjust="spacingAndGlyphs" >25</text>
<text x="417.10" y="235.70" font-size="6.5" text-anchor="end" textLength="6.20" lengthAdjust="spacingAndGlyphs" >50</text>
<text x="417.10" y="213.35" font-size="6.5" text-anchor="end" textLength="6.20" lengthAdjust="spacingAndGlyphs" >75</text>
<text x="417.10" y="191.00" font-size="6.5" text-anchor="end" textLength="9.60" lengthAdjust="spacingAndGlyphs" >100</text>
<text x="433.40" y="289.70" font-size="6.4" text-anchor="middle" textLength="8.40" lengthAdjust="spacingAndGlyphs" >0.1</text>
<text x="467.80" y="289.70" font-size="6.4" text-anchor="middle" textLength="2.80" lengthAdjust="spacingAndGlyphs" >1</text>
<text x="502.20" y="289.70" font-size="6.4" text-anchor="middle" textLength="7.00" lengthAdjust="spacingAndGlyphs" >10</text>
<text x="468.00" y="302.20" font-size="8.8" text-anchor="middle" textLength="24.00" lengthAdjust="spacingAndGlyphs" class="L" >E:T ratio</text>
<text x="400.50" y="232.70" font-size="8.0" text-anchor="middle" textLength="65.00" lengthAdjust="spacingAndGlyphs" transform="rotate(-90 400.50 232.70)" class="L" >% specific <tspan font-size="5" dy="-2.6">51</tspan><tspan dy="2.6">Cr release</tspan></text>
<line x1="446.60" y1="309.90" x2="456.60" y2="309.90" stroke="#ddd" stroke-width="1.0"/>
<line x1="446.60" y1="319.60" x2="456.60" y2="319.60" stroke="#a3173a" stroke-width="0.8"/>
<rect x="449.80" y="317.70" width="3.8" height="3.8" fill="#a00a2c"/>
<line x1="446.60" y1="329.10" x2="456.60" y2="329.10" stroke="#2f8a30" stroke-width="0.8"/>
<path d="M451.60 327.50L453.10 330.20L450.10 330.20Z" fill="#237023"/>
<text x="458.50" y="312.00" font-size="6.2" textLength="7.70" lengthAdjust="spacingAndGlyphs" >NT</text>
<text x="458.50" y="321.70" font-size="6.2" textLength="29.20" lengthAdjust="spacingAndGlyphs" ><tspan font-style="italic">Stxbp2</tspan> KO</text>
<text x="458.50" y="331.20" font-size="6.2" textLength="31.50" lengthAdjust="spacingAndGlyphs" >STXBP2 WT</text>
</g>
<g fill="none" stroke="#333" stroke-width="0.8">
<rect x="41.20" y="381.30" width="51.8" height="51.6"/>
<rect x="99.60" y="381.30" width="51.8" height="51.6"/>
<rect x="158.00" y="381.30" width="51.8" height="51.6"/>
<rect x="216.50" y="381.30" width="51.8" height="51.6"/>
<rect x="274.80" y="381.30" width="51.8" height="51.6"/>
<rect x="41.20" y="456.30" width="51.8" height="51.6"/>
<rect x="99.60" y="456.30" width="51.8" height="51.6"/>
<rect x="158.00" y="456.30" width="51.8" height="51.6"/>
<rect x="216.50" y="456.30" width="51.8" height="51.6"/>
<rect x="274.80" y="456.30" width="51.8" height="51.6"/>
</g>
<ellipse cx="54.00" cy="402.80" rx="1.80" ry="7.80" fill="#000" fill-opacity="0.11899999999999998" filter="url(#b2)" transform="rotate(0 54.00 402.80)"/>
<ellipse cx="54.10" cy="405.30" rx="0.90" ry="5.40" fill="#000" fill-opacity="0.92" filter="url(#b1)" transform="rotate(0 54.10 405.30)"/>
<g filter="url(#b07)">
<circle cx="53.7" cy="405.5" r="1.6" fill-opacity="0.034999999999999996"/>
<circle cx="53.7" cy="401.2" r="1.6" fill-opacity="0.034999999999999996"/>
<circle cx="52.9" cy="401.7" r="1.6" fill-opacity="0.034999999999999996"/>
<circle cx="55.3" cy="405.0" r="1.6" fill-opacity="0.034999999999999996"/>
<circle cx="55.2" cy="404.1" r="1.6" fill-opacity="0.034999999999999996"/>
<circle cx="54.5" cy="403.8" r="1.6" fill-opacity="0.034999999999999996"/>
<circle cx="52.0" cy="407.2" r="1.6" fill-opacity="0.034999999999999996"/>
<circle cx="54.6" cy="405.4" r="1.6" fill-opacity="0.034999999999999996"/>
<circle cx="53.1" cy="399.0" r="0.9" fill-opacity="0.3"/>
<circle cx="53.6" cy="403.6" r="0.9" fill-opacity="0.3"/>
<circle cx="54.3" cy="405.1" r="0.9" fill-opacity="0.3"/>
<circle cx="54.4" cy="403.0" r="0.9" fill-opacity="0.3"/>
<circle cx="54.3" cy="406.7" r="0.9" fill-opacity="0.3"/>
<circle cx="53.7" cy="411.5" r="0.9" fill-opacity="0.3"/>
<circle cx="54.4" cy="409.6" r="0.9" fill-opacity="0.3"/>
<circle cx="53.7" cy="402.6" r="0.9" fill-opacity="0.3"/>
<circle cx="53.9" cy="404.9" r="0.9" fill-opacity="0.3"/>
<circle cx="54.5" cy="406.2" r="0.9" fill-opacity="0.3"/>
<circle cx="53.8" cy="401.9" r="0.9" fill-opacity="0.3"/>
<circle cx="53.8" cy="409.7" r="0.9" fill-opacity="0.3"/>
<circle cx="53.6" cy="406.2" r="0.9" fill-opacity="0.3"/>
<circle cx="54.4" cy="399.9" r="0.9" fill-opacity="0.3"/>
<circle cx="54.1" cy="410.0" r="0.9" fill-opacity="0.3"/>
<circle cx="52.9" cy="404.1" r="0.9" fill-opacity="0.3"/>
<circle cx="54.0" cy="402.4" r="0.9" fill-opacity="0.3"/>
<circle cx="54.4" cy="405.1" r="0.9" fill-opacity="0.3"/>
<circle cx="53.2" cy="408.3" r="0.9" fill-opacity="0.3"/>
<circle cx="54.5" cy="408.7" r="0.9" fill-opacity="0.3"/>
<circle cx="55.0" cy="406.6" r="0.9" fill-opacity="0.3"/>
<circle cx="54.2" cy="400.6" r="0.9" fill-opacity="0.3"/>
<circle cx="54.5" cy="403.1" r="0.9" fill-opacity="0.3"/>
<circle cx="53.8" cy="400.7" r="0.9" fill-opacity="0.3"/>
<circle cx="53.5" cy="403.4" r="0.9" fill-opacity="0.3"/>
<circle cx="54.9" cy="398.0" r="0.9" fill-opacity="0.3"/>
<circle cx="53.2" cy="406.2" r="0.9" fill-opacity="0.3"/>
<circle cx="55.0" cy="407.4" r="0.9" fill-opacity="0.3"/>
<circle cx="53.0" cy="396.2" r="0.9" fill-opacity="0.3"/>
<circle cx="54.3" cy="402.6" r="0.9" fill-opacity="0.3"/>
<circle cx="53.4" cy="408.8" r="0.9" fill-opacity="0.3"/>
<circle cx="54.8" cy="405.9" r="0.9" fill-opacity="0.3"/>
<circle cx="54.2" cy="406.9" r="0.9" fill-opacity="0.3"/>
<circle cx="55.1" cy="407.5" r="0.9" fill-opacity="0.3"/>
<circle cx="54.4" cy="407.3" r="0.9" fill-opacity="0.3"/>
<circle cx="53.2" cy="409.9" r="0.9" fill-opacity="0.3"/>
<circle cx="54.7" cy="407.2" r="0.9" fill-opacity="0.3"/>
<circle cx="52.9" cy="403.0" r="0.9" fill-opacity="0.3"/>
<circle cx="54.6" cy="398.8" r="0.9" fill-opacity="0.3"/>
<circle cx="54.0" cy="409.0" r="0.9" fill-opacity="0.3"/>
<circle cx="53.3" cy="411.1" r="0.9" fill-opacity="0.3"/>
<circle cx="54.4" cy="404.8" r="0.9" fill-opacity="0.3"/>
<circle cx="54.3" cy="407.6" r="0.9" fill-opacity="0.3"/>
<circle cx="54.2" cy="409.4" r="0.9" fill-opacity="0.3"/>
<circle cx="53.7" cy="403.8" r="0.9" fill-opacity="0.3"/>
<circle cx="54.7" cy="405.4" r="0.9" fill-opacity="0.3"/>
<circle cx="53.6" cy="408.7" r="0.9" fill-opacity="0.3"/>
<circle cx="55.0" cy="403.7" r="0.9" fill-opacity="0.3"/>
<circle cx="53.3" cy="404.8" r="0.9" fill-opacity="0.3"/>
<circle cx="54.0" cy="404.2" r="0.9" fill-opacity="0.3"/>
<circle cx="54.9" cy="401.6" r="0.9" fill-opacity="0.3"/>
<circle cx="54.9" cy="400.7" r="0.9" fill-opacity="0.3"/>
<circle cx="53.6" cy="407.6" r="0.9" fill-opacity="0.3"/>
<circle cx="54.8" cy="408.4" r="0.9" fill-opacity="0.3"/>
<circle cx="54.3" cy="405.8" r="0.9" fill-opacity="0.3"/>
<circle cx="54.2" cy="407.4" r="0.9" fill-opacity="0.3"/>
<circle cx="54.0" cy="406.3" r="0.9" fill-opacity="0.3"/>
<circle cx="54.4" cy="405.3" r="0.9" fill-opacity="0.3"/>
<circle cx="54.6" cy="407.3" r="0.9" fill-opacity="0.3"/>
<circle cx="55.3" cy="406.5" r="0.9" fill-opacity="0.3"/>
</g>
<ellipse cx="120.60" cy="404.80" rx="6.90" ry="6.30" fill="#000" fill-opacity="0.1666" filter="url(#b2)" transform="rotate(0 120.60 404.80)"/>
<ellipse cx="120.90" cy="406.30" rx="5.40" ry="4.50" fill="#000" fill-opacity="0.92" filter="url(#b1)" transform="rotate(0 120.90 406.30)"/>
<g filter="url(#b07)">
<circle cx="118.6" cy="403.2" r="1.6" fill-opacity="0.049"/>
<circle cx="120.5" cy="408.7" r="1.6" fill-opacity="0.049"/>
<circle cx="119.1" cy="406.4" r="1.6" fill-opacity="0.049"/>
<circle cx="129.1" cy="394.0" r="1.6" fill-opacity="0.049"/>
<circle cx="115.4" cy="405.8" r="1.6" fill-opacity="0.049"/>
<circle cx="122.4" cy="405.8" r="1.6" fill-opacity="0.049"/>
<circle cx="118.6" cy="407.6" r="1.6" fill-opacity="0.049"/>
<circle cx="121.9" cy="402.6" r="1.6" fill-opacity="0.049"/>
<circle cx="131.8" cy="406.3" r="1.6" fill-opacity="0.049"/>
<circle cx="118.1" cy="404.4" r="1.6" fill-opacity="0.049"/>
<circle cx="119.6" cy="404.5" r="1.6" fill-opacity="0.049"/>
<circle cx="108.1" cy="402.8" r="1.6" fill-opacity="0.049"/>
<circle cx="125.2" cy="399.9" r="1.6" fill-opacity="0.049"/>
<circle cx="120.3" cy="408.8" r="1.6" fill-opacity="0.049"/>
<circle cx="124.5" cy="411.1" r="1.6" fill-opacity="0.049"/>
<circle cx="112.8" cy="403.3" r="1.6" fill-opacity="0.049"/>
<circle cx="119.0" cy="407.4" r="1.6" fill-opacity="0.049"/>
<circle cx="125.6" cy="393.5" r="1.6" fill-opacity="0.049"/>
<circle cx="125.6" cy="398.7" r="1.6" fill-opacity="0.049"/>
<circle cx="123.7" cy="398.5" r="1.6" fill-opacity="0.049"/>
<circle cx="121.4" cy="409.8" r="1.6" fill-opacity="0.049"/>
<circle cx="119.9" cy="405.6" r="1.6" fill-opacity="0.049"/>
<circle cx="124.3" cy="405.4" r="1.6" fill-opacity="0.049"/>
<circle cx="120.2" cy="411.2" r="1.6" fill-opacity="0.049"/>
<circle cx="125.4" cy="403.6" r="1.6" fill-opacity="0.049"/>
<circle cx="133.2" cy="400.0" r="1.6" fill-opacity="0.049"/>
<circle cx="124.8" cy="403.7" r="1.6" fill-opacity="0.049"/>
<circle cx="121.2" cy="407.8" r="1.6" fill-opacity="0.049"/>
<circle cx="121.6" cy="407.5" r="1.6" fill-opacity="0.049"/>
<circle cx="113.6" cy="398.5" r="1.6" fill-opacity="0.049"/>
<circle cx="123.4" cy="400.8" r="1.6" fill-opacity="0.049"/>
<circle cx="115.9" cy="398.6" r="1.6" fill-opacity="0.049"/>
<circle cx="126.4" cy="407.9" r="1.6" fill-opacity="0.049"/>
<circle cx="127.4" cy="400.9" r="1.6" fill-opacity="0.049"/>
<circle cx="120.6" cy="400.0" r="1.6" fill-opacity="0.049"/>
<circle cx="124.1" cy="411.5" r="1.6" fill-opacity="0.049"/>
<circle cx="116.5" cy="411.4" r="1.6" fill-opacity="0.049"/>
<circle cx="125.1" cy="404.1" r="1.6" fill-opacity="0.049"/>
<circle cx="111.5" cy="410.7" r="1.6" fill-opacity="0.049"/>
<circle cx="120.2" cy="402.3" r="1.6" fill-opacity="0.049"/>
<circle cx="122.4" cy="406.5" r="1.6" fill-opacity="0.049"/>
<circle cx="127.5" cy="400.5" r="1.6" fill-opacity="0.049"/>
<circle cx="125.8" cy="411.0" r="1.6" fill-opacity="0.049"/>
<circle cx="127.3" cy="404.0" r="1.6" fill-opacity="0.049"/>
<circle cx="117.2" cy="409.1" r="1.6" fill-opacity="0.049"/>
<circle cx="121.1" cy="405.3" r="1.6" fill-opacity="0.049"/>
<circle cx="127.2" cy="403.7" r="1.6" fill-opacity="0.049"/>
<circle cx="110.0" cy="403.2" r="1.6" fill-opacity="0.049"/>
<circle cx="112.1" cy="408.2" r="1.6" fill-opacity="0.049"/>
<circle cx="122.1" cy="402.2" r="1.6" fill-opacity="0.049"/>
<circle cx="120.6" cy="408.3" r="1.6" fill-opacity="0.049"/>
<circle cx="121.0" cy="410.4" r="1.6" fill-opacity="0.049"/>
<circle cx="120.3" cy="409.2" r="1.6" fill-opacity="0.049"/>
<circle cx="127.5" cy="411.6" r="1.6" fill-opacity="0.049"/>
<circle cx="117.5" cy="408.5" r="1.6" fill-opacity="0.049"/>
<circle cx="112.0" cy="400.2" r="1.6" fill-opacity="0.049"/>
<circle cx="111.6" cy="409.3" r="1.6" fill-opacity="0.049"/>
<circle cx="114.9" cy="404.7" r="1.6" fill-opacity="0.049"/>
<circle cx="119.7" cy="404.7" r="1.6" fill-opacity="0.049"/>
<circle cx="117.9" cy="405.8" r="1.6" fill-opacity="0.049"/>
<circle cx="128.8" cy="405.0" r="1.6" fill-opacity="0.049"/>
<circle cx="123.0" cy="409.0" r="1.6" fill-opacity="0.049"/>
<circle cx="119.7" cy="399.5" r="1.6" fill-opacity="0.049"/>
<circle cx="118.0" cy="409.3" r="1.6" fill-opacity="0.049"/>
<circle cx="113.0" cy="402.3" r="1.6" fill-opacity="0.049"/>
<circle cx="125.2" cy="408.1" r="1.6" fill-opacity="0.049"/>
<circle cx="120.6" cy="408.2" r="1.6" fill-opacity="0.049"/>
<circle cx="121.4" cy="399.8" r="1.6" fill-opacity="0.049"/>
<circle cx="113.4" cy="402.1" r="1.6" fill-opacity="0.049"/>
<circle cx="124.8" cy="402.4" r="1.6" fill-opacity="0.049"/>
<circle cx="116.4" cy="401.6" r="1.6" fill-opacity="0.049"/>
<circle cx="113.6" cy="404.3" r="1.6" fill-opacity="0.049"/>
<circle cx="116.7" cy="407.4" r="0.9" fill-opacity="0.3"/>
<circle cx="112.4" cy="407.3" r="0.9" fill-opacity="0.3"/>
<circle cx="118.6" cy="400.5" r="0.9" fill-opacity="0.3"/>
<circle cx="123.5" cy="405.5" r="0.9" fill-opacity="0.3"/>
<circle cx="112.9" cy="403.7" r="0.9" fill-opacity="0.3"/>
<circle cx="121.9" cy="404.9" r="0.9" fill-opacity="0.3"/>
<circle cx="123.7" cy="408.5" r="0.9" fill-opacity="0.3"/>
<circle cx="123.3" cy="407.3" r="0.9" fill-opacity="0.3"/>
<circle cx="125.7" cy="408.3" r="0.9" fill-opacity="0.3"/>
<circle cx="122.5" cy="400.0" r="0.9" fill-opacity="0.3"/>
<circle cx="124.1" cy="410.2" r="0.9" fill-opacity="0.3"/>
<circle cx="119.8" cy="404.9" r="0.9" fill-opacity="0.3"/>
<circle cx="127.9" cy="401.0" r="0.9" fill-opacity="0.3"/>
<circle cx="122.6" cy="413.6" r="0.9" fill-opacity="0.3"/>
<circle cx="117.6" cy="408.4" r="0.9" fill-opacity="0.3"/>
<circle cx="127.7" cy="405.9" r="0.9" fill-opacity="0.3"/>
<circle cx="122.9" cy="409.0" r="0.9" fill-opacity="0.3"/>
<circle cx="117.6" cy="406.0" r="0.9" fill-opacity="0.3"/>
<circle cx="122.0" cy="408.8" r="0.9" fill-opacity="0.3"/>
<circle cx="120.8" cy="405.7" r="0.9" fill-opacity="0.3"/>
<circle cx="117.2" cy="405.2" r="0.9" fill-opacity="0.3"/>
<circle cx="124.1" cy="406.6" r="0.9" fill-opacity="0.3"/>
<circle cx="117.8" cy="403.8" r="0.9" fill-opacity="0.3"/>
<circle cx="130.5" cy="409.7" r="0.9" fill-opacity="0.3"/>
<circle cx="123.2" cy="398.5" r="0.9" fill-opacity="0.3"/>
<circle cx="123.1" cy="407.7" r="0.9" fill-opacity="0.3"/>
<circle cx="127.0" cy="407.6" r="0.9" fill-opacity="0.3"/>
<circle cx="120.7" cy="407.9" r="0.9" fill-opacity="0.3"/>
<circle cx="113.9" cy="409.4" r="0.9" fill-opacity="0.3"/>
<circle cx="122.1" cy="404.2" r="0.9" fill-opacity="0.3"/>
<circle cx="125.7" cy="411.7" r="0.9" fill-opacity="0.3"/>
<circle cx="115.9" cy="404.3" r="0.9" fill-opacity="0.3"/>
<circle cx="121.9" cy="406.9" r="0.9" fill-opacity="0.3"/>
<circle cx="119.5" cy="403.4" r="0.9" fill-opacity="0.3"/>
<circle cx="128.5" cy="409.4" r="0.9" fill-opacity="0.3"/>
<circle cx="116.6" cy="402.3" r="0.9" fill-opacity="0.3"/>
<circle cx="127.0" cy="409.3" r="0.9" fill-opacity="0.3"/>
<circle cx="127.5" cy="408.7" r="0.9" fill-opacity="0.3"/>
<circle cx="117.8" cy="407.1" r="0.9" fill-opacity="0.3"/>
<circle cx="113.1" cy="404.1" r="0.9" fill-opacity="0.3"/>
<circle cx="120.7" cy="407.9" r="0.9" fill-opacity="0.3"/>
<circle cx="118.3" cy="405.9" r="0.9" fill-opacity="0.3"/>
<circle cx="122.6" cy="407.4" r="0.9" fill-opacity="0.3"/>
<circle cx="123.2" cy="406.9" r="0.9" fill-opacity="0.3"/>
<circle cx="119.7" cy="408.7" r="0.9" fill-opacity="0.3"/>
<circle cx="121.1" cy="403.8" r="0.9" fill-opacity="0.3"/>
<circle cx="118.6" cy="406.3" r="0.9" fill-opacity="0.3"/>
<circle cx="120.5" cy="406.8" r="0.9" fill-opacity="0.3"/>
<circle cx="120.9" cy="406.8" r="0.9" fill-opacity="0.3"/>
<circle cx="120.4" cy="402.5" r="0.9" fill-opacity="0.3"/>
<circle cx="122.4" cy="409.5" r="0.9" fill-opacity="0.3"/>
<circle cx="122.5" cy="405.7" r="0.9" fill-opacity="0.3"/>
<circle cx="122.5" cy="403.4" r="0.9" fill-opacity="0.3"/>
<circle cx="114.1" cy="406.5" r="0.9" fill-opacity="0.3"/>
<circle cx="117.6" cy="408.5" r="0.9" fill-opacity="0.3"/>
<circle cx="117.0" cy="398.4" r="0.9" fill-opacity="0.3"/>
<circle cx="117.2" cy="411.0" r="0.9" fill-opacity="0.3"/>
<circle cx="119.5" cy="402.2" r="0.9" fill-opacity="0.3"/>
<circle cx="118.2" cy="407.9" r="0.9" fill-opacity="0.3"/>
<circle cx="122.7" cy="406.8" r="0.9" fill-opacity="0.3"/>
</g>
<ellipse cx="172.00" cy="404.30" rx="2.70" ry="7.50" fill="#000" fill-opacity="0.1666" filter="url(#b2)" transform="rotate(-8 172.00 404.30)"/>
<ellipse cx="180.00" cy="403.80" rx="6.00" ry="6.00" fill="#000" fill-opacity="0.09519999999999999" filter="url(#b2)" transform="rotate(0 180.00 403.80)"/>
<ellipse cx="171.40" cy="407.10" rx="1.20" ry="4.65" fill="#000" fill-opacity="0.92" filter="url(#b1)" transform="rotate(-8 171.40 407.10)"/>
<g filter="url(#b07)">
<circle cx="175.1" cy="407.4" r="1.6" fill-opacity="0.049"/>
<circle cx="172.4" cy="407.3" r="1.6" fill-opacity="0.049"/>
<circle cx="175.6" cy="408.7" r="1.6" fill-opacity="0.049"/>
<circle cx="173.1" cy="398.7" r="1.6" fill-opacity="0.049"/>
<circle cx="172.2" cy="408.0" r="1.6" fill-opacity="0.049"/>
<circle cx="172.2" cy="409.7" r="1.6" fill-opacity="0.049"/>
<circle cx="173.7" cy="408.6" r="1.6" fill-opacity="0.049"/>
<circle cx="173.4" cy="414.5" r="1.6" fill-opacity="0.049"/>
<circle cx="174.1" cy="402.9" r="1.6" fill-opacity="0.049"/>
<circle cx="174.0" cy="414.5" r="1.6" fill-opacity="0.049"/>
<circle cx="172.0" cy="408.7" r="1.6" fill-opacity="0.049"/>
<circle cx="173.8" cy="404.1" r="1.6" fill-opacity="0.049"/>
<circle cx="170.1" cy="405.5" r="1.6" fill-opacity="0.049"/>
<circle cx="173.4" cy="409.8" r="1.6" fill-opacity="0.049"/>
<circle cx="173.4" cy="404.2" r="1.6" fill-opacity="0.049"/>
<circle cx="173.9" cy="406.8" r="1.6" fill-opacity="0.049"/>
<circle cx="172.4" cy="404.5" r="1.6" fill-opacity="0.049"/>
<circle cx="172.0" cy="407.8" r="1.6" fill-opacity="0.049"/>
<circle cx="169.7" cy="401.5" r="1.6" fill-opacity="0.049"/>
<circle cx="171.0" cy="397.1" r="1.6" fill-opacity="0.049"/>
<circle cx="169.8" cy="394.5" r="1.6" fill-opacity="0.049"/>
<circle cx="171.2" cy="407.3" r="1.6" fill-opacity="0.049"/>
<circle cx="173.0" cy="403.9" r="1.6" fill-opacity="0.049"/>
<circle cx="170.6" cy="397.3" r="1.6" fill-opacity="0.049"/>
<circle cx="175.6" cy="406.4" r="1.6" fill-opacity="0.049"/>
<circle cx="173.3" cy="399.7" r="1.6" fill-opacity="0.049"/>
<circle cx="170.4" cy="395.3" r="1.6" fill-opacity="0.049"/>
<circle cx="174.0" cy="408.7" r="1.6" fill-opacity="0.049"/>
<circle cx="168.6" cy="404.5" r="1.6" fill-opacity="0.049"/>
<circle cx="171.9" cy="395.4" r="1.6" fill-opacity="0.049"/>
<circle cx="168.0" cy="399.5" r="1.6" fill-opacity="0.049"/>
<circle cx="169.9" cy="397.5" r="1.6" fill-opacity="0.049"/>
<circle cx="180.1" cy="404.8" r="1.6" fill-opacity="0.027999999999999997"/>
<circle cx="182.5" cy="406.6" r="1.6" fill-opacity="0.027999999999999997"/>
<circle cx="186.0" cy="408.5" r="1.6" fill-opacity="0.027999999999999997"/>
<circle cx="174.8" cy="401.8" r="1.6" fill-opacity="0.027999999999999997"/>
<circle cx="175.8" cy="399.5" r="1.6" fill-opacity="0.027999999999999997"/>
<circle cx="179.7" cy="403.8" r="1.6" fill-opacity="0.027999999999999997"/>
<circle cx="182.0" cy="397.5" r="1.6" fill-opacity="0.027999999999999997"/>
<circle cx="175.0" cy="403.7" r="1.6" fill-opacity="0.027999999999999997"/>
<circle cx="179.2" cy="402.6" r="1.6" fill-opacity="0.027999999999999997"/>
<circle cx="179.7" cy="400.8" r="1.6" fill-opacity="0.027999999999999997"/>
<circle cx="182.8" cy="405.2" r="1.6" fill-opacity="0.027999999999999997"/>
<circle cx="179.6" cy="401.1" r="1.6" fill-opacity="0.027999999999999997"/>
<circle cx="179.3" cy="392.9" r="1.6" fill-opacity="0.027999999999999997"/>
<circle cx="176.1" cy="403.9" r="1.6" fill-opacity="0.027999999999999997"/>
<circle cx="174.0" cy="404.6" r="1.6" fill-opacity="0.027999999999999997"/>
<circle cx="180.6" cy="398.3" r="1.6" fill-opacity="0.027999999999999997"/>
<circle cx="179.0" cy="402.5" r="1.6" fill-opacity="0.027999999999999997"/>
<circle cx="181.8" cy="406.2" r="1.6" fill-opacity="0.027999999999999997"/>
<circle cx="179.9" cy="400.4" r="1.6" fill-opacity="0.027999999999999997"/>
<circle cx="179.4" cy="403.5" r="1.6" fill-opacity="0.027999999999999997"/>
<circle cx="182.9" cy="405.0" r="1.6" fill-opacity="0.027999999999999997"/>
<circle cx="177.1" cy="398.4" r="1.6" fill-opacity="0.027999999999999997"/>
<circle cx="178.5" cy="400.8" r="1.6" fill-opacity="0.027999999999999997"/>
<circle cx="175.6" cy="403.3" r="1.6" fill-opacity="0.027999999999999997"/>
<circle cx="171.1" cy="407.5" r="0.9" fill-opacity="0.3"/>
<circle cx="171.6" cy="405.8" r="0.9" fill-opacity="0.3"/>
<circle cx="173.1" cy="405.9" r="0.9" fill-opacity="0.3"/>
<circle cx="172.3" cy="407.4" r="0.9" fill-opacity="0.3"/>
<circle cx="171.3" cy="399.7" r="0.9" fill-opacity="0.3"/>
<circle cx="170.9" cy="407.9" r="0.9" fill-opacity="0.3"/>
<circle cx="172.9" cy="414.2" r="0.9" fill-opacity="0.3"/>
<circle cx="172.2" cy="411.0" r="0.9" fill-opacity="0.3"/>
<circle cx="172.4" cy="409.9" r="0.9" fill-opacity="0.3"/>
<circle cx="171.7" cy="406.6" r="0.9" fill-opacity="0.3"/>
<circle cx="171.3" cy="403.7" r="0.9" fill-opacity="0.3"/>
<circle cx="171.9" cy="403.8" r="0.9" fill-opacity="0.3"/>
<circle cx="172.5" cy="413.6" r="0.9" fill-opacity="0.3"/>
<circle cx="171.2" cy="407.2" r="0.9" fill-opacity="0.3"/>
<circle cx="172.3" cy="407.1" r="0.9" fill-opacity="0.3"/>
<circle cx="170.9" cy="408.0" r="0.9" fill-opacity="0.3"/>
<circle cx="172.2" cy="409.2" r="0.9" fill-opacity="0.3"/>
<circle cx="171.5" cy="412.6" r="0.9" fill-opacity="0.3"/>
<circle cx="172.7" cy="407.0" r="0.9" fill-opacity="0.3"/>
<circle cx="171.4" cy="405.8" r="0.9" fill-opacity="0.3"/>
<circle cx="172.2" cy="404.8" r="0.9" fill-opacity="0.3"/>
<circle cx="171.7" cy="405.6" r="0.9" fill-opacity="0.3"/>
<circle cx="171.2" cy="409.4" r="0.9" fill-opacity="0.3"/>
<circle cx="172.5" cy="406.9" r="0.9" fill-opacity="0.3"/>
<circle cx="171.2" cy="409.7" r="0.9" fill-opacity="0.3"/>
<circle cx="171.5" cy="408.1" r="0.9" fill-opacity="0.3"/>
<circle cx="173.1" cy="410.4" r="0.9" fill-opacity="0.3"/>
<circle cx="172.0" cy="414.2" r="0.9" fill-opacity="0.3"/>
<circle cx="171.7" cy="409.5" r="0.9" fill-opacity="0.3"/>
<circle cx="170.9" cy="407.0" r="0.9" fill-opacity="0.3"/>
<circle cx="170.8" cy="412.8" r="0.9" fill-opacity="0.3"/>
<circle cx="172.0" cy="403.2" r="0.9" fill-opacity="0.3"/>
<circle cx="169.5" cy="402.3" r="0.9" fill-opacity="0.3"/>
<circle cx="172.1" cy="405.6" r="0.9" fill-opacity="0.3"/>
<circle cx="171.2" cy="406.1" r="0.9" fill-opacity="0.3"/>
<circle cx="170.8" cy="403.8" r="0.9" fill-opacity="0.3"/>
<circle cx="170.8" cy="402.7" r="0.9" fill-opacity="0.3"/>
<circle cx="171.5" cy="408.1" r="0.9" fill-opacity="0.3"/>
<circle cx="171.7" cy="406.3" r="0.9" fill-opacity="0.3"/>
<circle cx="170.8" cy="407.7" r="0.9" fill-opacity="0.3"/>
<circle cx="171.7" cy="412.0" r="0.9" fill-opacity="0.3"/>
<circle cx="172.0" cy="406.7" r="0.9" fill-opacity="0.3"/>
<circle cx="170.7" cy="405.0" r="0.9" fill-opacity="0.3"/>
<circle cx="170.5" cy="406.1" r="0.9" fill-opacity="0.3"/>
<circle cx="171.9" cy="408.6" r="0.9" fill-opacity="0.3"/>
<circle cx="172.8" cy="413.5" r="0.9" fill-opacity="0.3"/>
<circle cx="170.8" cy="407.2" r="0.9" fill-opacity="0.3"/>
<circle cx="172.8" cy="401.1" r="0.9" fill-opacity="0.3"/>
<circle cx="171.1" cy="407.7" r="0.9" fill-opacity="0.3"/>
<circle cx="171.7" cy="408.3" r="0.9" fill-opacity="0.3"/>
<circle cx="171.4" cy="408.3" r="0.9" fill-opacity="0.3"/>
<circle cx="171.8" cy="409.5" r="0.9" fill-opacity="0.3"/>
<circle cx="169.5" cy="404.6" r="0.9" fill-opacity="0.3"/>
<circle cx="171.0" cy="403.9" r="0.9" fill-opacity="0.3"/>
<circle cx="170.8" cy="409.1" r="0.9" fill-opacity="0.3"/>
<circle cx="171.2" cy="409.1" r="0.9" fill-opacity="0.3"/>
<circle cx="172.1" cy="408.0" r="0.9" fill-opacity="0.3"/>
<circle cx="171.8" cy="406.7" r="0.9" fill-opacity="0.3"/>
<circle cx="170.3" cy="407.2" r="0.9" fill-opacity="0.3"/>
<circle cx="171.5" cy="405.4" r="0.9" fill-opacity="0.3"/>
</g>
<ellipse cx="231.50" cy="403.80" rx="3.30" ry="7.50" fill="#000" fill-opacity="0.1666" filter="url(#b2)" transform="rotate(-8 231.50 403.80)"/>
<ellipse cx="239.00" cy="403.80" rx="6.90" ry="6.60" fill="#000" fill-opacity="0.1309" filter="url(#b2)" transform="rotate(0 239.00 403.80)"/>
<ellipse cx="230.60" cy="406.90" rx="1.50" ry="4.50" fill="#000" fill-opacity="0.92" filter="url(#b1)" transform="rotate(-8 230.60 406.90)"/>
<g filter="url(#b07)">
<circle cx="231.8" cy="407.5" r="1.6" fill-opacity="0.049"/>
<circle cx="230.0" cy="407.2" r="1.6" fill-opacity="0.049"/>
<circle cx="235.2" cy="400.5" r="1.6" fill-opacity="0.049"/>
<circle cx="231.7" cy="403.0" r="1.6" fill-opacity="0.049"/>
<circle cx="235.1" cy="404.9" r="1.6" fill-opacity="0.049"/>
<circle cx="233.0" cy="400.1" r="1.6" fill-opacity="0.049"/>
<circle cx="231.5" cy="403.8" r="1.6" fill-opacity="0.049"/>
<circle cx="228.6" cy="411.5" r="1.6" fill-opacity="0.049"/>
<circle cx="232.2" cy="394.9" r="1.6" fill-opacity="0.049"/>
<circle cx="233.0" cy="402.9" r="1.6" fill-opacity="0.049"/>
<circle cx="232.7" cy="405.5" r="1.6" fill-opacity="0.049"/>
<circle cx="228.1" cy="403.2" r="1.6" fill-opacity="0.049"/>
<circle cx="234.4" cy="400.5" r="1.6" fill-opacity="0.049"/>
<circle cx="228.3" cy="397.4" r="1.6" fill-opacity="0.049"/>
<circle cx="229.1" cy="405.8" r="1.6" fill-opacity="0.049"/>
<circle cx="235.5" cy="405.4" r="1.6" fill-opacity="0.049"/>
<circle cx="233.6" cy="414.5" r="1.6" fill-opacity="0.049"/>
<circle cx="229.9" cy="400.6" r="1.6" fill-opacity="0.049"/>
<circle cx="233.0" cy="406.4" r="1.6" fill-opacity="0.049"/>
<circle cx="228.5" cy="398.3" r="1.6" fill-opacity="0.049"/>
<circle cx="232.3" cy="404.9" r="1.6" fill-opacity="0.049"/>
<circle cx="228.5" cy="403.2" r="1.6" fill-opacity="0.049"/>
<circle cx="230.6" cy="406.2" r="1.6" fill-opacity="0.049"/>
<circle cx="231.2" cy="403.4" r="1.6" fill-opacity="0.049"/>
<circle cx="231.5" cy="409.1" r="1.6" fill-opacity="0.049"/>
<circle cx="234.3" cy="401.6" r="1.6" fill-opacity="0.049"/>
<circle cx="232.8" cy="399.8" r="1.6" fill-opacity="0.049"/>
<circle cx="232.2" cy="407.5" r="1.6" fill-opacity="0.049"/>
<circle cx="234.5" cy="401.4" r="1.6" fill-opacity="0.049"/>
<circle cx="231.5" cy="404.8" r="1.6" fill-opacity="0.049"/>
<circle cx="228.2" cy="404.3" r="1.6" fill-opacity="0.049"/>
<circle cx="230.3" cy="405.8" r="1.6" fill-opacity="0.049"/>
<circle cx="233.8" cy="395.1" r="1.6" fill-opacity="0.0385"/>
<circle cx="239.2" cy="404.9" r="1.6" fill-opacity="0.0385"/>
<circle cx="236.5" cy="407.7" r="1.6" fill-opacity="0.0385"/>
<circle cx="237.7" cy="401.1" r="1.6" fill-opacity="0.0385"/>
<circle cx="241.2" cy="396.9" r="1.6" fill-opacity="0.0385"/>
<circle cx="235.9" cy="403.7" r="1.6" fill-opacity="0.0385"/>
<circle cx="242.9" cy="403.1" r="1.6" fill-opacity="0.0385"/>
<circle cx="240.4" cy="400.9" r="1.6" fill-opacity="0.0385"/>
<circle cx="240.4" cy="411.1" r="1.6" fill-opacity="0.0385"/>
<circle cx="235.8" cy="414.2" r="1.6" fill-opacity="0.0385"/>
<circle cx="236.0" cy="403.9" r="1.6" fill-opacity="0.0385"/>
<circle cx="239.8" cy="408.3" r="1.6" fill-opacity="0.0385"/>
<circle cx="233.3" cy="394.6" r="1.6" fill-opacity="0.0385"/>
<circle cx="241.8" cy="407.3" r="1.6" fill-opacity="0.0385"/>
<circle cx="241.9" cy="414.5" r="1.6" fill-opacity="0.0385"/>
<circle cx="239.9" cy="404.9" r="1.6" fill-opacity="0.0385"/>
<circle cx="243.3" cy="405.4" r="1.6" fill-opacity="0.0385"/>
<circle cx="246.7" cy="398.4" r="1.6" fill-opacity="0.0385"/>
<circle cx="237.3" cy="388.6" r="1.6" fill-opacity="0.0385"/>
<circle cx="242.7" cy="402.2" r="1.6" fill-opacity="0.0385"/>
<circle cx="243.3" cy="413.3" r="1.6" fill-opacity="0.0385"/>
<circle cx="239.0" cy="402.7" r="1.6" fill-opacity="0.0385"/>
<circle cx="236.7" cy="400.1" r="1.6" fill-opacity="0.0385"/>
<circle cx="236.1" cy="406.6" r="1.6" fill-opacity="0.0385"/>
<circle cx="239.2" cy="404.1" r="1.6" fill-opacity="0.0385"/>
<circle cx="238.2" cy="407.8" r="1.6" fill-opacity="0.0385"/>
<circle cx="241.3" cy="403.2" r="1.6" fill-opacity="0.0385"/>
<circle cx="242.1" cy="403.1" r="1.6" fill-opacity="0.0385"/>
<circle cx="233.7" cy="410.2" r="1.6" fill-opacity="0.0385"/>
<circle cx="241.1" cy="399.6" r="1.6" fill-opacity="0.0385"/>
<circle cx="244.0" cy="405.3" r="1.6" fill-opacity="0.0385"/>
<circle cx="231.8" cy="410.9" r="1.6" fill-opacity="0.0385"/>
<circle cx="231.3" cy="409.5" r="0.9" fill-opacity="0.3"/>
<circle cx="230.7" cy="406.4" r="0.9" fill-opacity="0.3"/>
<circle cx="229.5" cy="410.0" r="0.9" fill-opacity="0.3"/>
<circle cx="230.5" cy="406.0" r="0.9" fill-opacity="0.3"/>
<circle cx="231.0" cy="407.1" r="0.9" fill-opacity="0.3"/>
<circle cx="231.1" cy="405.7" r="0.9" fill-opacity="0.3"/>
<circle cx="229.7" cy="400.6" r="0.9" fill-opacity="0.3"/>
<circle cx="230.5" cy="409.0" r="0.9" fill-opacity="0.3"/>
<circle cx="231.8" cy="405.6" r="0.9" fill-opacity="0.3"/>
<circle cx="231.1" cy="411.6" r="0.9" fill-opacity="0.3"/>
<circle cx="230.6" cy="409.1" r="0.9" fill-opacity="0.3"/>
<circle cx="232.3" cy="406.8" r="0.9" fill-opacity="0.3"/>
<circle cx="231.5" cy="404.6" r="0.9" fill-opacity="0.3"/>
<circle cx="230.8" cy="406.6" r="0.9" fill-opacity="0.3"/>
<circle cx="231.2" cy="410.2" r="0.9" fill-opacity="0.3"/>
<circle cx="232.7" cy="404.6" r="0.9" fill-opacity="0.3"/>
<circle cx="230.2" cy="408.5" r="0.9" fill-opacity="0.3"/>
<circle cx="229.8" cy="408.5" r="0.9" fill-opacity="0.3"/>
<circle cx="231.1" cy="406.0" r="0.9" fill-opacity="0.3"/>
<circle cx="230.5" cy="402.2" r="0.9" fill-opacity="0.3"/>
<circle cx="230.7" cy="402.2" r="0.9" fill-opacity="0.3"/>
<circle cx="229.7" cy="405.3" r="0.9" fill-opacity="0.3"/>
<circle cx="230.6" cy="409.5" r="0.9" fill-opacity="0.3"/>
<circle cx="230.5" cy="405.7" r="0.9" fill-opacity="0.3"/>
<circle cx="231.8" cy="411.5" r="0.9" fill-opacity="0.3"/>
<circle cx="230.8" cy="408.0" r="0.9" fill-opacity="0.3"/>
<circle cx="231.9" cy="407.5" r="0.9" fill-opacity="0.3"/>
<circle cx="230.4" cy="414.5" r="0.9" fill-opacity="0.3"/>
<circle cx="232.0" cy="400.7" r="0.9" fill-opacity="0.3"/>
<circle cx="230.7" cy="408.1" r="0.9" fill-opacity="0.3"/>
<circle cx="231.8" cy="408.8" r="0.9" fill-opacity="0.3"/>
<circle cx="229.9" cy="403.8" r="0.9" fill-opacity="0.3"/>
<circle cx="231.1" cy="410.0" r="0.9" fill-opacity="0.3"/>
<circle cx="229.1" cy="404.0" r="0.9" fill-opacity="0.3"/>
<circle cx="229.8" cy="401.1" r="0.9" fill-opacity="0.3"/>
<circle cx="230.2" cy="405.6" r="0.9" fill-opacity="0.3"/>
<circle cx="230.8" cy="404.8" r="0.9" fill-opacity="0.3"/>
<circle cx="229.6" cy="405.9" r="0.9" fill-opacity="0.3"/>
<circle cx="230.3" cy="404.9" r="0.9" fill-opacity="0.3"/>
<circle cx="230.9" cy="409.1" r="0.9" fill-opacity="0.3"/>
<circle cx="232.5" cy="411.8" r="0.9" fill-opacity="0.3"/>
<circle cx="229.6" cy="405.8" r="0.9" fill-opacity="0.3"/>
<circle cx="228.9" cy="412.9" r="0.9" fill-opacity="0.3"/>
<circle cx="229.9" cy="406.9" r="0.9" fill-opacity="0.3"/>
<circle cx="230.6" cy="402.8" r="0.9" fill-opacity="0.3"/>
<circle cx="231.0" cy="406.8" r="0.9" fill-opacity="0.3"/>
<circle cx="228.9" cy="408.0" r="0.9" fill-opacity="0.3"/>
<circle cx="231.0" cy="401.2" r="0.9" fill-opacity="0.3"/>
<circle cx="231.5" cy="407.4" r="0.9" fill-opacity="0.3"/>
<circle cx="231.3" cy="408.1" r="0.9" fill-opacity="0.3"/>
<circle cx="231.8" cy="406.1" r="0.9" fill-opacity="0.3"/>
<circle cx="231.3" cy="405.6" r="0.9" fill-opacity="0.3"/>
<circle cx="231.0" cy="404.4" r="0.9" fill-opacity="0.3"/>
<circle cx="231.2" cy="412.1" r="0.9" fill-opacity="0.3"/>
<circle cx="231.0" cy="406.4" r="0.9" fill-opacity="0.3"/>
<circle cx="229.1" cy="404.7" r="0.9" fill-opacity="0.3"/>
<circle cx="231.2" cy="409.7" r="0.9" fill-opacity="0.3"/>
<circle cx="231.2" cy="408.4" r="0.9" fill-opacity="0.3"/>
<circle cx="231.1" cy="410.9" r="0.9" fill-opacity="0.3"/>
<circle cx="230.0" cy="405.3" r="0.9" fill-opacity="0.3"/>
</g>
<ellipse cx="289.30" cy="404.30" rx="3.30" ry="7.20" fill="#000" fill-opacity="0.1666" filter="url(#b2)" transform="rotate(-8 289.30 404.30)"/>
<ellipse cx="296.80" cy="404.30" rx="6.90" ry="6.30" fill="#000" fill-opacity="0.1309" filter="url(#b2)" transform="rotate(0 296.80 404.30)"/>
<ellipse cx="288.30" cy="407.30" rx="1.35" ry="4.20" fill="#000" fill-opacity="0.92" filter="url(#b1)" transform="rotate(-8 288.30 407.30)"/>
<g filter="url(#b07)">
<circle cx="291.3" cy="404.3" r="1.6" fill-opacity="0.049"/>
<circle cx="288.3" cy="401.6" r="1.6" fill-opacity="0.049"/>
<circle cx="289.2" cy="407.3" r="1.6" fill-opacity="0.049"/>
<circle cx="289.3" cy="398.4" r="1.6" fill-opacity="0.049"/>
<circle cx="290.3" cy="405.0" r="1.6" fill-opacity="0.049"/>
<circle cx="287.6" cy="408.3" r="1.6" fill-opacity="0.049"/>
<circle cx="288.5" cy="402.8" r="1.6" fill-opacity="0.049"/>
<circle cx="291.9" cy="410.3" r="1.6" fill-opacity="0.049"/>
<circle cx="288.1" cy="406.6" r="1.6" fill-opacity="0.049"/>
<circle cx="288.9" cy="414.5" r="1.6" fill-opacity="0.049"/>
<circle cx="289.0" cy="410.1" r="1.6" fill-opacity="0.049"/>
<circle cx="288.4" cy="408.4" r="1.6" fill-opacity="0.049"/>
<circle cx="292.4" cy="391.5" r="1.6" fill-opacity="0.049"/>
<circle cx="288.7" cy="406.8" r="1.6" fill-opacity="0.049"/>
<circle cx="288.7" cy="401.2" r="1.6" fill-opacity="0.049"/>
<circle cx="294.0" cy="404.0" r="1.6" fill-opacity="0.049"/>
<circle cx="286.3" cy="408.9" r="1.6" fill-opacity="0.049"/>
<circle cx="286.3" cy="410.3" r="1.6" fill-opacity="0.049"/>
<circle cx="288.1" cy="405.2" r="1.6" fill-opacity="0.049"/>
<circle cx="292.1" cy="404.5" r="1.6" fill-opacity="0.049"/>
<circle cx="285.1" cy="396.7" r="1.6" fill-opacity="0.049"/>
<circle cx="292.4" cy="407.5" r="1.6" fill-opacity="0.049"/>
<circle cx="288.1" cy="408.6" r="1.6" fill-opacity="0.049"/>
<circle cx="290.8" cy="407.2" r="1.6" fill-opacity="0.049"/>
<circle cx="284.2" cy="403.6" r="1.6" fill-opacity="0.049"/>
<circle cx="291.8" cy="407.5" r="1.6" fill-opacity="0.049"/>
<circle cx="289.6" cy="392.4" r="1.6" fill-opacity="0.049"/>
<circle cx="290.0" cy="406.6" r="1.6" fill-opacity="0.049"/>
<circle cx="294.2" cy="399.0" r="1.6" fill-opacity="0.049"/>
<circle cx="288.6" cy="404.6" r="1.6" fill-opacity="0.049"/>
<circle cx="290.9" cy="401.9" r="1.6" fill-opacity="0.049"/>
<circle cx="291.3" cy="400.2" r="1.6" fill-opacity="0.049"/>
<circle cx="298.0" cy="402.1" r="1.6" fill-opacity="0.0385"/>
<circle cx="297.5" cy="401.4" r="1.6" fill-opacity="0.0385"/>
<circle cx="289.5" cy="408.9" r="1.6" fill-opacity="0.0385"/>
<circle cx="298.2" cy="402.0" r="1.6" fill-opacity="0.0385"/>
<circle cx="297.7" cy="408.5" r="1.6" fill-opacity="0.0385"/>
<circle cx="292.3" cy="403.8" r="1.6" fill-opacity="0.0385"/>
<circle cx="299.3" cy="406.5" r="1.6" fill-opacity="0.0385"/>
<circle cx="295.3" cy="395.5" r="1.6" fill-opacity="0.0385"/>
<circle cx="302.5" cy="405.7" r="1.6" fill-opacity="0.0385"/>
<circle cx="296.9" cy="403.1" r="1.6" fill-opacity="0.0385"/>
<circle cx="298.0" cy="402.5" r="1.6" fill-opacity="0.0385"/>
<circle cx="292.1" cy="401.2" r="1.6" fill-opacity="0.0385"/>
<circle cx="294.1" cy="401.7" r="1.6" fill-opacity="0.0385"/>
<circle cx="291.5" cy="407.0" r="1.6" fill-opacity="0.0385"/>
<circle cx="290.8" cy="407.1" r="1.6" fill-opacity="0.0385"/>
<circle cx="292.1" cy="405.8" r="1.6" fill-opacity="0.0385"/>
<circle cx="303.1" cy="405.2" r="1.6" fill-opacity="0.0385"/>
<circle cx="293.4" cy="404.5" r="1.6" fill-opacity="0.0385"/>
<circle cx="297.5" cy="397.0" r="1.6" fill-opacity="0.0385"/>
<circle cx="294.0" cy="405.0" r="1.6" fill-opacity="0.0385"/>
<circle cx="294.6" cy="404.6" r="1.6" fill-opacity="0.0385"/>
<circle cx="300.2" cy="407.5" r="1.6" fill-opacity="0.0385"/>
<circle cx="301.0" cy="406.8" r="1.6" fill-opacity="0.0385"/>
<circle cx="295.5" cy="404.2" r="1.6" fill-opacity="0.0385"/>
<circle cx="295.6" cy="403.0" r="1.6" fill-opacity="0.0385"/>
<circle cx="296.0" cy="397.1" r="1.6" fill-opacity="0.0385"/>
<circle cx="295.3" cy="404.2" r="1.6" fill-opacity="0.0385"/>
<circle cx="292.3" cy="404.2" r="1.6" fill-opacity="0.0385"/>
<circle cx="299.2" cy="403.6" r="1.6" fill-opacity="0.0385"/>
<circle cx="306.4" cy="393.4" r="1.6" fill-opacity="0.0385"/>
<circle cx="295.9" cy="396.6" r="1.6" fill-opacity="0.0385"/>
<circle cx="301.3" cy="414.5" r="1.6" fill-opacity="0.0385"/>
<circle cx="286.1" cy="408.0" r="0.9" fill-opacity="0.3"/>
<circle cx="288.6" cy="406.4" r="0.9" fill-opacity="0.3"/>
<circle cx="287.9" cy="401.0" r="0.9" fill-opacity="0.3"/>
<circle cx="289.2" cy="408.2" r="0.9" fill-opacity="0.3"/>
<circle cx="288.1" cy="405.7" r="0.9" fill-opacity="0.3"/>
<circle cx="288.7" cy="405.9" r="0.9" fill-opacity="0.3"/>
<circle cx="288.3" cy="405.9" r="0.9" fill-opacity="0.3"/>
<circle cx="286.3" cy="407.5" r="0.9" fill-opacity="0.3"/>
<circle cx="288.8" cy="409.4" r="0.9" fill-opacity="0.3"/>
<circle cx="287.5" cy="407.3" r="0.9" fill-opacity="0.3"/>
<circle cx="288.9" cy="407.6" r="0.9" fill-opacity="0.3"/>
<circle cx="290.2" cy="412.7" r="0.9" fill-opacity="0.3"/>
<circle cx="286.7" cy="402.1" r="0.9" fill-opacity="0.3"/>
<circle cx="289.7" cy="411.4" r="0.9" fill-opacity="0.3"/>
<circle cx="289.4" cy="409.4" r="0.9" fill-opacity="0.3"/>
<circle cx="287.5" cy="405.4" r="0.9" fill-opacity="0.3"/>
<circle cx="288.7" cy="404.7" r="0.9" fill-opacity="0.3"/>
<circle cx="286.3" cy="404.8" r="0.9" fill-opacity="0.3"/>
<circle cx="291.3" cy="412.3" r="0.9" fill-opacity="0.3"/>
<circle cx="287.4" cy="405.4" r="0.9" fill-opacity="0.3"/>
<circle cx="288.2" cy="405.2" r="0.9" fill-opacity="0.3"/>
<circle cx="289.4" cy="406.9" r="0.9" fill-opacity="0.3"/>
<circle cx="287.8" cy="411.1" r="0.9" fill-opacity="0.3"/>
<circle cx="287.9" cy="408.0" r="0.9" fill-opacity="0.3"/>
<circle cx="288.2" cy="406.4" r="0.9" fill-opacity="0.3"/>
<circle cx="288.3" cy="405.3" r="0.9" fill-opacity="0.3"/>
<circle cx="285.8" cy="401.4" r="0.9" fill-opacity="0.3"/>
<circle cx="286.9" cy="405.4" r="0.9" fill-opacity="0.3"/>
<circle cx="288.3" cy="407.5" r="0.9" fill-opacity="0.3"/>
<circle cx="288.8" cy="407.6" r="0.9" fill-opacity="0.3"/>
<circle cx="287.3" cy="405.4" r="0.9" fill-opacity="0.3"/>
<circle cx="286.3" cy="407.1" r="0.9" fill-opacity="0.3"/>
<circle cx="288.9" cy="408.7" r="0.9" fill-opacity="0.3"/>
<circle cx="288.1" cy="406.8" r="0.9" fill-opacity="0.3"/>
<circle cx="289.1" cy="407.2" r="0.9" fill-opacity="0.3"/>
<circle cx="289.2" cy="408.8" r="0.9" fill-opacity="0.3"/>
<circle cx="289.0" cy="410.9" r="0.9" fill-opacity="0.3"/>
<circle cx="287.6" cy="406.4" r="0.9" fill-opacity="0.3"/>
<circle cx="287.3" cy="405.2" r="0.9" fill-opacity="0.3"/>
<circle cx="290.4" cy="412.0" r="0.9" fill-opacity="0.3"/>
<circle cx="288.5" cy="408.9" r="0.9" fill-opacity="0.3"/>
<circle cx="289.7" cy="409.4" r="0.9" fill-opacity="0.3"/>
<circle cx="288.9" cy="403.6" r="0.9" fill-opacity="0.3"/>
<circle cx="287.9" cy="408.6" r="0.9" fill-opacity="0.3"/>
<circle cx="289.6" cy="407.4" r="0.9" fill-opacity="0.3"/>
<circle cx="287.4" cy="406.4" r="0.9" fill-opacity="0.3"/>
<circle cx="287.4" cy="405.0" r="0.9" fill-opacity="0.3"/>
<circle cx="289.4" cy="405.4" r="0.9" fill-opacity="0.3"/>
<circle cx="289.2" cy="413.3" r="0.9" fill-opacity="0.3"/>
<circle cx="289.5" cy="408.1" r="0.9" fill-opacity="0.3"/>
<circle cx="287.9" cy="408.5" r="0.9" fill-opacity="0.3"/>
<circle cx="290.0" cy="408.8" r="0.9" fill-opacity="0.3"/>
<circle cx="289.5" cy="407.4" r="0.9" fill-opacity="0.3"/>
<circle cx="288.7" cy="406.7" r="0.9" fill-opacity="0.3"/>
<circle cx="289.2" cy="410.9" r="0.9" fill-opacity="0.3"/>
<circle cx="287.0" cy="407.3" r="0.9" fill-opacity="0.3"/>
<circle cx="288.3" cy="405.7" r="0.9" fill-opacity="0.3"/>
<circle cx="288.3" cy="409.5" r="0.9" fill-opacity="0.3"/>
<circle cx="290.3" cy="408.8" r="0.9" fill-opacity="0.3"/>
<circle cx="288.0" cy="403.0" r="0.9" fill-opacity="0.3"/>
</g>
<ellipse cx="62.70" cy="478.80" rx="8.10" ry="7.20" fill="#000" fill-opacity="0.1785" filter="url(#b2)" transform="rotate(0 62.70 478.80)"/>
<ellipse cx="61.20" cy="481.90" rx="5.70" ry="4.20" fill="#000" fill-opacity="0.92" filter="url(#b1)" transform="rotate(10 61.20 481.90)"/>
<g filter="url(#b07)">
<circle cx="73.1" cy="479.2" r="1.6" fill-opacity="0.0525"/>
<circle cx="62.5" cy="473.4" r="1.6" fill-opacity="0.0525"/>
<circle cx="62.4" cy="473.5" r="1.6" fill-opacity="0.0525"/>
<circle cx="63.1" cy="481.0" r="1.6" fill-opacity="0.0525"/>
<circle cx="62.9" cy="480.1" r="1.6" fill-opacity="0.0525"/>
<circle cx="58.1" cy="485.7" r="1.6" fill-opacity="0.0525"/>
<circle cx="59.2" cy="470.1" r="1.6" fill-opacity="0.0525"/>
<circle cx="61.7" cy="475.1" r="1.6" fill-opacity="0.0525"/>
<circle cx="57.2" cy="477.1" r="1.6" fill-opacity="0.0525"/>
<circle cx="64.3" cy="473.1" r="1.6" fill-opacity="0.0525"/>
<circle cx="62.0" cy="485.6" r="1.6" fill-opacity="0.0525"/>
<circle cx="66.4" cy="478.1" r="1.6" fill-opacity="0.0525"/>
<circle cx="63.4" cy="478.2" r="1.6" fill-opacity="0.0525"/>
<circle cx="62.4" cy="482.3" r="1.6" fill-opacity="0.0525"/>
<circle cx="62.2" cy="467.3" r="1.6" fill-opacity="0.0525"/>
<circle cx="62.6" cy="474.5" r="1.6" fill-opacity="0.0525"/>
<circle cx="66.2" cy="475.9" r="1.6" fill-opacity="0.0525"/>
<circle cx="63.5" cy="489.3" r="1.6" fill-opacity="0.0525"/>
<circle cx="57.0" cy="473.4" r="1.6" fill-opacity="0.0525"/>
<circle cx="55.1" cy="467.3" r="1.6" fill-opacity="0.0525"/>
<circle cx="52.6" cy="480.5" r="1.6" fill-opacity="0.0525"/>
<circle cx="59.3" cy="469.8" r="1.6" fill-opacity="0.0525"/>
<circle cx="54.7" cy="481.8" r="1.6" fill-opacity="0.0525"/>
<circle cx="58.5" cy="477.0" r="1.6" fill-opacity="0.0525"/>
<circle cx="64.5" cy="485.3" r="1.6" fill-opacity="0.0525"/>
<circle cx="73.2" cy="483.8" r="1.6" fill-opacity="0.0525"/>
<circle cx="63.5" cy="479.7" r="1.6" fill-opacity="0.0525"/>
<circle cx="72.4" cy="485.7" r="1.6" fill-opacity="0.0525"/>
<circle cx="61.0" cy="481.0" r="1.6" fill-opacity="0.0525"/>
<circle cx="64.2" cy="479.1" r="1.6" fill-opacity="0.0525"/>
<circle cx="60.0" cy="472.4" r="1.6" fill-opacity="0.0525"/>
<circle cx="59.8" cy="471.4" r="1.6" fill-opacity="0.0525"/>
<circle cx="69.3" cy="481.4" r="1.6" fill-opacity="0.0525"/>
<circle cx="56.2" cy="485.5" r="1.6" fill-opacity="0.0525"/>
<circle cx="67.5" cy="469.6" r="1.6" fill-opacity="0.0525"/>
<circle cx="72.6" cy="482.7" r="1.6" fill-opacity="0.0525"/>
<circle cx="73.8" cy="472.9" r="1.6" fill-opacity="0.0525"/>
<circle cx="65.6" cy="480.8" r="1.6" fill-opacity="0.0525"/>
<circle cx="63.8" cy="479.6" r="1.6" fill-opacity="0.0525"/>
<circle cx="68.4" cy="471.6" r="1.6" fill-opacity="0.0525"/>
<circle cx="56.0" cy="472.1" r="1.6" fill-opacity="0.0525"/>
<circle cx="59.7" cy="475.9" r="1.6" fill-opacity="0.0525"/>
<circle cx="64.7" cy="480.1" r="1.6" fill-opacity="0.0525"/>
<circle cx="62.9" cy="475.6" r="1.6" fill-opacity="0.0525"/>
<circle cx="60.3" cy="483.4" r="1.6" fill-opacity="0.0525"/>
<circle cx="66.8" cy="479.3" r="1.6" fill-opacity="0.0525"/>
<circle cx="61.0" cy="486.3" r="1.6" fill-opacity="0.0525"/>
<circle cx="59.5" cy="481.9" r="1.6" fill-opacity="0.0525"/>
<circle cx="68.9" cy="477.5" r="1.6" fill-opacity="0.0525"/>
<circle cx="67.2" cy="473.4" r="1.6" fill-opacity="0.0525"/>
<circle cx="68.2" cy="479.8" r="1.6" fill-opacity="0.0525"/>
<circle cx="54.1" cy="482.0" r="1.6" fill-opacity="0.0525"/>
<circle cx="57.9" cy="485.0" r="1.6" fill-opacity="0.0525"/>
<circle cx="59.0" cy="478.0" r="1.6" fill-opacity="0.0525"/>
<circle cx="64.2" cy="477.2" r="1.6" fill-opacity="0.0525"/>
<circle cx="64.1" cy="476.1" r="1.6" fill-opacity="0.0525"/>
<circle cx="66.3" cy="478.8" r="1.6" fill-opacity="0.0525"/>
<circle cx="63.8" cy="465.6" r="1.6" fill-opacity="0.0525"/>
<circle cx="69.0" cy="479.0" r="1.6" fill-opacity="0.0525"/>
<circle cx="53.1" cy="479.3" r="1.6" fill-opacity="0.0525"/>
<circle cx="65.2" cy="483.9" r="1.6" fill-opacity="0.0525"/>
<circle cx="56.9" cy="486.2" r="1.6" fill-opacity="0.0525"/>
<circle cx="61.8" cy="489.5" r="1.6" fill-opacity="0.0525"/>
<circle cx="61.9" cy="482.1" r="1.6" fill-opacity="0.0525"/>
<circle cx="60.7" cy="473.4" r="1.6" fill-opacity="0.0525"/>
<circle cx="68.6" cy="483.2" r="1.6" fill-opacity="0.0525"/>
<circle cx="71.0" cy="482.9" r="1.6" fill-opacity="0.0525"/>
<circle cx="59.6" cy="470.8" r="1.6" fill-opacity="0.0525"/>
<circle cx="59.2" cy="475.6" r="1.6" fill-opacity="0.0525"/>
<circle cx="58.3" cy="481.6" r="1.6" fill-opacity="0.0525"/>
<circle cx="64.5" cy="477.5" r="1.6" fill-opacity="0.0525"/>
<circle cx="63.6" cy="478.1" r="1.6" fill-opacity="0.0525"/>
<circle cx="61.6" cy="484.1" r="0.9" fill-opacity="0.3"/>
<circle cx="65.1" cy="480.6" r="0.9" fill-opacity="0.3"/>
<circle cx="54.9" cy="484.8" r="0.9" fill-opacity="0.3"/>
<circle cx="61.1" cy="485.0" r="0.9" fill-opacity="0.3"/>
<circle cx="55.2" cy="479.9" r="0.9" fill-opacity="0.3"/>
<circle cx="62.0" cy="477.9" r="0.9" fill-opacity="0.3"/>
<circle cx="58.9" cy="483.6" r="0.9" fill-opacity="0.3"/>
<circle cx="64.5" cy="487.0" r="0.9" fill-opacity="0.3"/>
<circle cx="58.6" cy="477.5" r="0.9" fill-opacity="0.3"/>
<circle cx="62.7" cy="484.8" r="0.9" fill-opacity="0.3"/>
<circle cx="62.6" cy="478.4" r="0.9" fill-opacity="0.3"/>
<circle cx="63.7" cy="484.6" r="0.9" fill-opacity="0.3"/>
<circle cx="63.5" cy="480.9" r="0.9" fill-opacity="0.3"/>
<circle cx="62.0" cy="484.3" r="0.9" fill-opacity="0.3"/>
<circle cx="60.0" cy="476.4" r="0.9" fill-opacity="0.3"/>
<circle cx="62.2" cy="483.4" r="0.9" fill-opacity="0.3"/>
<circle cx="60.8" cy="484.4" r="0.9" fill-opacity="0.3"/>
<circle cx="59.0" cy="481.3" r="0.9" fill-opacity="0.3"/>
<circle cx="59.8" cy="483.3" r="0.9" fill-opacity="0.3"/>
<circle cx="67.3" cy="482.3" r="0.9" fill-opacity="0.3"/>
<circle cx="68.1" cy="487.5" r="0.9" fill-opacity="0.3"/>
<circle cx="63.9" cy="484.0" r="0.9" fill-opacity="0.3"/>
<circle cx="67.9" cy="482.6" r="0.9" fill-opacity="0.3"/>
<circle cx="61.3" cy="478.9" r="0.9" fill-opacity="0.3"/>
<circle cx="62.3" cy="485.9" r="0.9" fill-opacity="0.3"/>
<circle cx="63.0" cy="483.4" r="0.9" fill-opacity="0.3"/>
<circle cx="60.4" cy="482.2" r="0.9" fill-opacity="0.3"/>
<circle cx="55.4" cy="483.9" r="0.9" fill-opacity="0.3"/>
<circle cx="60.2" cy="478.6" r="0.9" fill-opacity="0.3"/>
<circle cx="58.8" cy="479.1" r="0.9" fill-opacity="0.3"/>
<circle cx="63.9" cy="485.4" r="0.9" fill-opacity="0.3"/>
<circle cx="55.7" cy="483.6" r="0.9" fill-opacity="0.3"/>
<circle cx="64.8" cy="480.9" r="0.9" fill-opacity="0.3"/>
<circle cx="56.0" cy="478.9" r="0.9" fill-opacity="0.3"/>
<circle cx="58.7" cy="482.4" r="0.9" fill-opacity="0.3"/>
<circle cx="60.8" cy="476.1" r="0.9" fill-opacity="0.3"/>
<circle cx="62.8" cy="477.8" r="0.9" fill-opacity="0.3"/>
<circle cx="65.2" cy="479.2" r="0.9" fill-opacity="0.3"/>
<circle cx="59.0" cy="479.1" r="0.9" fill-opacity="0.3"/>
<circle cx="58.5" cy="485.1" r="0.9" fill-opacity="0.3"/>
<circle cx="64.1" cy="484.1" r="0.9" fill-opacity="0.3"/>
<circle cx="63.1" cy="477.8" r="0.9" fill-opacity="0.3"/>
<circle cx="59.5" cy="480.0" r="0.9" fill-opacity="0.3"/>
<circle cx="57.3" cy="482.7" r="0.9" fill-opacity="0.3"/>
<circle cx="58.8" cy="479.5" r="0.9" fill-opacity="0.3"/>
<circle cx="58.3" cy="475.5" r="0.9" fill-opacity="0.3"/>
<circle cx="62.8" cy="486.0" r="0.9" fill-opacity="0.3"/>
<circle cx="62.3" cy="479.3" r="0.9" fill-opacity="0.3"/>
<circle cx="51.0" cy="480.6" r="0.9" fill-opacity="0.3"/>
<circle cx="65.6" cy="483.5" r="0.9" fill-opacity="0.3"/>
<circle cx="64.0" cy="486.6" r="0.9" fill-opacity="0.3"/>
<circle cx="65.6" cy="481.4" r="0.9" fill-opacity="0.3"/>
<circle cx="64.8" cy="484.7" r="0.9" fill-opacity="0.3"/>
<circle cx="55.6" cy="479.8" r="0.9" fill-opacity="0.3"/>
<circle cx="55.9" cy="480.7" r="0.9" fill-opacity="0.3"/>
<circle cx="63.9" cy="479.3" r="0.9" fill-opacity="0.3"/>
<circle cx="52.9" cy="484.1" r="0.9" fill-opacity="0.3"/>
<circle cx="61.9" cy="486.2" r="0.9" fill-opacity="0.3"/>
<circle cx="55.7" cy="484.0" r="0.9" fill-opacity="0.3"/>
<circle cx="68.0" cy="488.8" r="0.9" fill-opacity="0.3"/>
</g>
<ellipse cx="121.10" cy="478.80" rx="8.10" ry="7.20" fill="#000" fill-opacity="0.1785" filter="url(#b2)" transform="rotate(0 121.10 478.80)"/>
<ellipse cx="121.20" cy="481.10" rx="4.50" ry="4.05" fill="#000" fill-opacity="0.92" filter="url(#b1)" transform="rotate(0 121.20 481.10)"/>
<g filter="url(#b07)">
<circle cx="120.0" cy="480.1" r="1.6" fill-opacity="0.0525"/>
<circle cx="120.3" cy="483.6" r="1.6" fill-opacity="0.0525"/>
<circle cx="126.7" cy="479.2" r="1.6" fill-opacity="0.0525"/>
<circle cx="113.8" cy="482.4" r="1.6" fill-opacity="0.0525"/>
<circle cx="118.6" cy="481.8" r="1.6" fill-opacity="0.0525"/>
<circle cx="122.5" cy="486.6" r="1.6" fill-opacity="0.0525"/>
<circle cx="127.2" cy="476.6" r="1.6" fill-opacity="0.0525"/>
<circle cx="123.0" cy="487.3" r="1.6" fill-opacity="0.0525"/>
<circle cx="118.2" cy="480.9" r="1.6" fill-opacity="0.0525"/>
<circle cx="127.5" cy="484.8" r="1.6" fill-opacity="0.0525"/>
<circle cx="123.9" cy="472.5" r="1.6" fill-opacity="0.0525"/>
<circle cx="114.3" cy="480.0" r="1.6" fill-opacity="0.0525"/>
<circle cx="123.2" cy="489.5" r="1.6" fill-opacity="0.0525"/>
<circle cx="116.4" cy="484.3" r="1.6" fill-opacity="0.0525"/>
<circle cx="125.3" cy="470.8" r="1.6" fill-opacity="0.0525"/>
<circle cx="116.7" cy="479.6" r="1.6" fill-opacity="0.0525"/>
<circle cx="118.4" cy="478.1" r="1.6" fill-opacity="0.0525"/>
<circle cx="123.6" cy="474.9" r="1.6" fill-opacity="0.0525"/>
<circle cx="123.6" cy="475.7" r="1.6" fill-opacity="0.0525"/>
<circle cx="118.2" cy="481.4" r="1.6" fill-opacity="0.0525"/>
<circle cx="118.0" cy="480.2" r="1.6" fill-opacity="0.0525"/>
<circle cx="129.7" cy="478.9" r="1.6" fill-opacity="0.0525"/>
<circle cx="120.3" cy="482.3" r="1.6" fill-opacity="0.0525"/>
<circle cx="119.1" cy="484.0" r="1.6" fill-opacity="0.0525"/>
<circle cx="114.2" cy="481.8" r="1.6" fill-opacity="0.0525"/>
<circle cx="118.3" cy="475.0" r="1.6" fill-opacity="0.0525"/>
<circle cx="130.7" cy="474.7" r="1.6" fill-opacity="0.0525"/>
<circle cx="130.6" cy="482.0" r="1.6" fill-opacity="0.0525"/>
<circle cx="128.9" cy="474.1" r="1.6" fill-opacity="0.0525"/>
<circle cx="127.6" cy="485.8" r="1.6" fill-opacity="0.0525"/>
<circle cx="120.5" cy="478.2" r="1.6" fill-opacity="0.0525"/>
<circle cx="134.4" cy="479.7" r="1.6" fill-opacity="0.0525"/>
<circle cx="118.8" cy="475.8" r="1.6" fill-opacity="0.0525"/>
<circle cx="123.5" cy="480.4" r="1.6" fill-opacity="0.0525"/>
<circle cx="122.1" cy="487.1" r="1.6" fill-opacity="0.0525"/>
<circle cx="119.3" cy="481.1" r="1.6" fill-opacity="0.0525"/>
<circle cx="129.0" cy="474.0" r="1.6" fill-opacity="0.0525"/>
<circle cx="126.7" cy="487.6" r="1.6" fill-opacity="0.0525"/>
<circle cx="113.8" cy="473.5" r="1.6" fill-opacity="0.0525"/>
<circle cx="115.5" cy="469.9" r="1.6" fill-opacity="0.0525"/>
<circle cx="123.5" cy="469.9" r="1.6" fill-opacity="0.0525"/>
<circle cx="123.8" cy="485.8" r="1.6" fill-opacity="0.0525"/>
<circle cx="112.4" cy="477.3" r="1.6" fill-opacity="0.0525"/>
<circle cx="110.7" cy="482.5" r="1.6" fill-opacity="0.0525"/>
<circle cx="117.1" cy="477.5" r="1.6" fill-opacity="0.0525"/>
<circle cx="121.4" cy="481.4" r="1.6" fill-opacity="0.0525"/>
<circle cx="119.2" cy="478.9" r="1.6" fill-opacity="0.0525"/>
<circle cx="118.1" cy="479.4" r="1.6" fill-opacity="0.0525"/>
<circle cx="114.8" cy="479.1" r="1.6" fill-opacity="0.0525"/>
<circle cx="110.7" cy="476.4" r="1.6" fill-opacity="0.0525"/>
<circle cx="131.4" cy="479.2" r="1.6" fill-opacity="0.0525"/>
<circle cx="114.3" cy="480.0" r="1.6" fill-opacity="0.0525"/>
<circle cx="115.8" cy="470.9" r="1.6" fill-opacity="0.0525"/>
<circle cx="117.1" cy="482.3" r="1.6" fill-opacity="0.0525"/>
<circle cx="123.2" cy="478.3" r="1.6" fill-opacity="0.0525"/>
<circle cx="116.1" cy="473.6" r="1.6" fill-opacity="0.0525"/>
<circle cx="128.4" cy="480.0" r="1.6" fill-opacity="0.0525"/>
<circle cx="116.0" cy="468.7" r="1.6" fill-opacity="0.0525"/>
<circle cx="113.7" cy="489.5" r="1.6" fill-opacity="0.0525"/>
<circle cx="114.9" cy="478.4" r="1.6" fill-opacity="0.0525"/>
<circle cx="122.2" cy="478.0" r="1.6" fill-opacity="0.0525"/>
<circle cx="119.6" cy="472.2" r="1.6" fill-opacity="0.0525"/>
<circle cx="115.4" cy="486.9" r="1.6" fill-opacity="0.0525"/>
<circle cx="117.0" cy="482.9" r="1.6" fill-opacity="0.0525"/>
<circle cx="112.0" cy="477.5" r="1.6" fill-opacity="0.0525"/>
<circle cx="122.5" cy="483.8" r="1.6" fill-opacity="0.0525"/>
<circle cx="115.0" cy="481.7" r="1.6" fill-opacity="0.0525"/>
<circle cx="123.2" cy="475.3" r="1.6" fill-opacity="0.0525"/>
<circle cx="123.7" cy="474.5" r="1.6" fill-opacity="0.0525"/>
<circle cx="116.8" cy="478.7" r="1.6" fill-opacity="0.0525"/>
<circle cx="106.4" cy="478.3" r="1.6" fill-opacity="0.0525"/>
<circle cx="115.7" cy="471.8" r="1.6" fill-opacity="0.0525"/>
<circle cx="119.9" cy="483.2" r="0.9" fill-opacity="0.3"/>
<circle cx="120.0" cy="484.5" r="0.9" fill-opacity="0.3"/>
<circle cx="117.7" cy="477.6" r="0.9" fill-opacity="0.3"/>
<circle cx="125.9" cy="482.2" r="0.9" fill-opacity="0.3"/>
<circle cx="124.0" cy="478.9" r="0.9" fill-opacity="0.3"/>
<circle cx="123.6" cy="481.8" r="0.9" fill-opacity="0.3"/>
<circle cx="123.1" cy="481.2" r="0.9" fill-opacity="0.3"/>
<circle cx="124.8" cy="479.3" r="0.9" fill-opacity="0.3"/>
<circle cx="118.3" cy="477.1" r="0.9" fill-opacity="0.3"/>
<circle cx="124.7" cy="479.1" r="0.9" fill-opacity="0.3"/>
<circle cx="118.1" cy="478.6" r="0.9" fill-opacity="0.3"/>
<circle cx="119.9" cy="477.7" r="0.9" fill-opacity="0.3"/>
<circle cx="120.3" cy="479.4" r="0.9" fill-opacity="0.3"/>
<circle cx="119.5" cy="478.5" r="0.9" fill-opacity="0.3"/>
<circle cx="121.3" cy="479.9" r="0.9" fill-opacity="0.3"/>
<circle cx="121.5" cy="481.8" r="0.9" fill-opacity="0.3"/>
<circle cx="122.2" cy="475.2" r="0.9" fill-opacity="0.3"/>
<circle cx="119.6" cy="479.0" r="0.9" fill-opacity="0.3"/>
<circle cx="123.5" cy="476.8" r="0.9" fill-opacity="0.3"/>
<circle cx="119.1" cy="480.3" r="0.9" fill-opacity="0.3"/>
<circle cx="120.2" cy="483.8" r="0.9" fill-opacity="0.3"/>
<circle cx="119.9" cy="483.7" r="0.9" fill-opacity="0.3"/>
<circle cx="116.8" cy="476.2" r="0.9" fill-opacity="0.3"/>
<circle cx="124.9" cy="482.3" r="0.9" fill-opacity="0.3"/>
<circle cx="122.7" cy="481.4" r="0.9" fill-opacity="0.3"/>
<circle cx="122.7" cy="477.8" r="0.9" fill-opacity="0.3"/>
<circle cx="124.0" cy="479.7" r="0.9" fill-opacity="0.3"/>
<circle cx="124.2" cy="481.3" r="0.9" fill-opacity="0.3"/>
<circle cx="115.3" cy="477.6" r="0.9" fill-opacity="0.3"/>
<circle cx="124.6" cy="480.7" r="0.9" fill-opacity="0.3"/>
<circle cx="120.0" cy="481.8" r="0.9" fill-opacity="0.3"/>
<circle cx="119.9" cy="479.6" r="0.9" fill-opacity="0.3"/>
<circle cx="121.5" cy="481.5" r="0.9" fill-opacity="0.3"/>
<circle cx="125.8" cy="481.2" r="0.9" fill-opacity="0.3"/>
<circle cx="126.8" cy="486.0" r="0.9" fill-opacity="0.3"/>
<circle cx="126.3" cy="484.0" r="0.9" fill-opacity="0.3"/>
<circle cx="121.6" cy="481.5" r="0.9" fill-opacity="0.3"/>
<circle cx="120.8" cy="479.1" r="0.9" fill-opacity="0.3"/>
<circle cx="121.0" cy="479.4" r="0.9" fill-opacity="0.3"/>
<circle cx="126.1" cy="482.5" r="0.9" fill-opacity="0.3"/>
<circle cx="119.9" cy="475.9" r="0.9" fill-opacity="0.3"/>
<circle cx="121.0" cy="480.0" r="0.9" fill-opacity="0.3"/>
<circle cx="117.9" cy="478.0" r="0.9" fill-opacity="0.3"/>
<circle cx="114.4" cy="482.6" r="0.9" fill-opacity="0.3"/>
<circle cx="121.0" cy="488.1" r="0.9" fill-opacity="0.3"/>
<circle cx="121.1" cy="480.7" r="0.9" fill-opacity="0.3"/>
<circle cx="125.5" cy="481.5" r="0.9" fill-opacity="0.3"/>
<circle cx="121.7" cy="480.1" r="0.9" fill-opacity="0.3"/>
<circle cx="119.4" cy="485.1" r="0.9" fill-opacity="0.3"/>
<circle cx="124.2" cy="485.7" r="0.9" fill-opacity="0.3"/>
<circle cx="120.2" cy="481.2" r="0.9" fill-opacity="0.3"/>
<circle cx="118.6" cy="483.7" r="0.9" fill-opacity="0.3"/>
<circle cx="117.0" cy="482.6" r="0.9" fill-opacity="0.3"/>
<circle cx="124.5" cy="484.9" r="0.9" fill-opacity="0.3"/>
<circle cx="118.4" cy="484.0" r="0.9" fill-opacity="0.3"/>
<circle cx="119.1" cy="479.1" r="0.9" fill-opacity="0.3"/>
<circle cx="117.2" cy="484.2" r="0.9" fill-opacity="0.3"/>
<circle cx="126.1" cy="479.5" r="0.9" fill-opacity="0.3"/>
<circle cx="118.9" cy="480.2" r="0.9" fill-opacity="0.3"/>
<circle cx="128.7" cy="483.8" r="0.9" fill-opacity="0.3"/>
</g>
<ellipse cx="174.50" cy="479.80" rx="3.90" ry="6.30" fill="#000" fill-opacity="0.1666" filter="url(#b2)" transform="rotate(0 174.50 479.80)"/>
<ellipse cx="182.00" cy="479.30" rx="7.50" ry="6.60" fill="#000" fill-opacity="0.14279999999999998" filter="url(#b2)" transform="rotate(0 182.00 479.30)"/>
<ellipse cx="174.00" cy="481.70" rx="3.30" ry="4.80" fill="#000" fill-opacity="0.92" filter="url(#b1)" transform="rotate(0 174.00 481.70)"/>
<g filter="url(#b07)">
<circle cx="173.1" cy="472.3" r="1.6" fill-opacity="0.049"/>
<circle cx="172.8" cy="484.8" r="1.6" fill-opacity="0.049"/>
<circle cx="179.4" cy="478.7" r="1.6" fill-opacity="0.049"/>
<circle cx="172.7" cy="477.7" r="1.6" fill-opacity="0.049"/>
<circle cx="169.6" cy="483.6" r="1.6" fill-opacity="0.049"/>
<circle cx="171.7" cy="484.3" r="1.6" fill-opacity="0.049"/>
<circle cx="170.1" cy="474.5" r="1.6" fill-opacity="0.049"/>
<circle cx="175.2" cy="476.6" r="1.6" fill-opacity="0.049"/>
<circle cx="176.5" cy="479.8" r="1.6" fill-opacity="0.049"/>
<circle cx="171.4" cy="482.4" r="1.6" fill-opacity="0.049"/>
<circle cx="176.7" cy="471.8" r="1.6" fill-opacity="0.049"/>
<circle cx="179.2" cy="481.9" r="1.6" fill-opacity="0.049"/>
<circle cx="176.5" cy="472.0" r="1.6" fill-opacity="0.049"/>
<circle cx="172.6" cy="478.3" r="1.6" fill-opacity="0.049"/>
<circle cx="177.3" cy="473.7" r="1.6" fill-opacity="0.049"/>
<circle cx="172.2" cy="471.3" r="1.6" fill-opacity="0.049"/>
<circle cx="173.9" cy="481.3" r="1.6" fill-opacity="0.049"/>
<circle cx="170.1" cy="477.3" r="1.6" fill-opacity="0.049"/>
<circle cx="175.8" cy="486.5" r="1.6" fill-opacity="0.049"/>
<circle cx="176.2" cy="478.5" r="1.6" fill-opacity="0.049"/>
<circle cx="171.4" cy="475.9" r="1.6" fill-opacity="0.049"/>
<circle cx="172.8" cy="480.4" r="1.6" fill-opacity="0.049"/>
<circle cx="174.4" cy="486.8" r="1.6" fill-opacity="0.049"/>
<circle cx="175.2" cy="475.3" r="1.6" fill-opacity="0.049"/>
<circle cx="178.5" cy="483.8" r="1.6" fill-opacity="0.049"/>
<circle cx="174.8" cy="476.8" r="1.6" fill-opacity="0.049"/>
<circle cx="169.6" cy="475.5" r="1.6" fill-opacity="0.049"/>
<circle cx="176.9" cy="476.4" r="1.6" fill-opacity="0.049"/>
<circle cx="171.1" cy="480.6" r="1.6" fill-opacity="0.049"/>
<circle cx="175.1" cy="482.3" r="1.6" fill-opacity="0.049"/>
<circle cx="176.2" cy="485.7" r="1.6" fill-opacity="0.049"/>
<circle cx="172.3" cy="483.9" r="1.6" fill-opacity="0.049"/>
<circle cx="177.1" cy="482.4" r="1.6" fill-opacity="0.041999999999999996"/>
<circle cx="182.9" cy="480.4" r="1.6" fill-opacity="0.041999999999999996"/>
<circle cx="186.8" cy="479.2" r="1.6" fill-opacity="0.041999999999999996"/>
<circle cx="187.6" cy="483.2" r="1.6" fill-opacity="0.041999999999999996"/>
<circle cx="182.7" cy="476.8" r="1.6" fill-opacity="0.041999999999999996"/>
<circle cx="178.2" cy="477.0" r="1.6" fill-opacity="0.041999999999999996"/>
<circle cx="181.0" cy="479.2" r="1.6" fill-opacity="0.041999999999999996"/>
<circle cx="196.9" cy="482.1" r="1.6" fill-opacity="0.041999999999999996"/>
<circle cx="185.8" cy="475.5" r="1.6" fill-opacity="0.041999999999999996"/>
<circle cx="178.4" cy="477.9" r="1.6" fill-opacity="0.041999999999999996"/>
<circle cx="183.0" cy="474.7" r="1.6" fill-opacity="0.041999999999999996"/>
<circle cx="190.1" cy="476.8" r="1.6" fill-opacity="0.041999999999999996"/>
<circle cx="187.4" cy="469.0" r="1.6" fill-opacity="0.041999999999999996"/>
<circle cx="182.0" cy="480.5" r="1.6" fill-opacity="0.041999999999999996"/>
<circle cx="183.0" cy="481.9" r="1.6" fill-opacity="0.041999999999999996"/>
<circle cx="183.4" cy="480.0" r="1.6" fill-opacity="0.041999999999999996"/>
<circle cx="172.5" cy="476.2" r="1.6" fill-opacity="0.041999999999999996"/>
<circle cx="170.3" cy="482.1" r="1.6" fill-opacity="0.041999999999999996"/>
<circle cx="183.5" cy="478.4" r="1.6" fill-opacity="0.041999999999999996"/>
<circle cx="177.9" cy="476.7" r="1.6" fill-opacity="0.041999999999999996"/>
<circle cx="191.2" cy="486.9" r="1.6" fill-opacity="0.041999999999999996"/>
<circle cx="181.7" cy="485.0" r="1.6" fill-opacity="0.041999999999999996"/>
<circle cx="174.1" cy="470.8" r="1.6" fill-opacity="0.041999999999999996"/>
<circle cx="179.6" cy="475.5" r="1.6" fill-opacity="0.041999999999999996"/>
<circle cx="179.2" cy="480.1" r="1.6" fill-opacity="0.041999999999999996"/>
<circle cx="197.1" cy="476.4" r="1.6" fill-opacity="0.041999999999999996"/>
<circle cx="182.2" cy="480.5" r="1.6" fill-opacity="0.041999999999999996"/>
<circle cx="181.8" cy="483.4" r="1.6" fill-opacity="0.041999999999999996"/>
<circle cx="190.9" cy="473.8" r="1.6" fill-opacity="0.041999999999999996"/>
<circle cx="182.8" cy="478.1" r="1.6" fill-opacity="0.041999999999999996"/>
<circle cx="183.8" cy="472.6" r="1.6" fill-opacity="0.041999999999999996"/>
<circle cx="173.2" cy="469.1" r="1.6" fill-opacity="0.041999999999999996"/>
<circle cx="184.6" cy="480.1" r="1.6" fill-opacity="0.041999999999999996"/>
<circle cx="182.4" cy="468.9" r="1.6" fill-opacity="0.041999999999999996"/>
<circle cx="180.1" cy="476.0" r="1.6" fill-opacity="0.041999999999999996"/>
<circle cx="174.9" cy="475.3" r="1.6" fill-opacity="0.041999999999999996"/>
<circle cx="185.5" cy="481.7" r="1.6" fill-opacity="0.041999999999999996"/>
<circle cx="181.9" cy="481.6" r="1.6" fill-opacity="0.041999999999999996"/>
<circle cx="179.0" cy="479.6" r="1.6" fill-opacity="0.041999999999999996"/>
<circle cx="182.2" cy="481.7" r="1.6" fill-opacity="0.041999999999999996"/>
<circle cx="181.7" cy="478.7" r="1.6" fill-opacity="0.041999999999999996"/>
<circle cx="181.3" cy="476.5" r="1.6" fill-opacity="0.041999999999999996"/>
<circle cx="193.2" cy="481.6" r="1.6" fill-opacity="0.041999999999999996"/>
<circle cx="184.1" cy="489.4" r="1.6" fill-opacity="0.041999999999999996"/>
<circle cx="189.0" cy="472.5" r="1.6" fill-opacity="0.041999999999999996"/>
<circle cx="185.5" cy="483.0" r="1.6" fill-opacity="0.041999999999999996"/>
<circle cx="191.4" cy="485.1" r="1.6" fill-opacity="0.041999999999999996"/>
<circle cx="185.9" cy="474.1" r="1.6" fill-opacity="0.041999999999999996"/>
<circle cx="172.1" cy="482.6" r="0.9" fill-opacity="0.3"/>
<circle cx="175.1" cy="478.4" r="0.9" fill-opacity="0.3"/>
<circle cx="173.2" cy="480.4" r="0.9" fill-opacity="0.3"/>
<circle cx="174.1" cy="482.8" r="0.9" fill-opacity="0.3"/>
<circle cx="173.4" cy="477.7" r="0.9" fill-opacity="0.3"/>
<circle cx="176.7" cy="486.8" r="0.9" fill-opacity="0.3"/>
<circle cx="173.8" cy="485.0" r="0.9" fill-opacity="0.3"/>
<circle cx="175.0" cy="483.8" r="0.9" fill-opacity="0.3"/>
<circle cx="175.1" cy="479.3" r="0.9" fill-opacity="0.3"/>
<circle cx="175.3" cy="484.9" r="0.9" fill-opacity="0.3"/>
<circle cx="172.0" cy="488.0" r="0.9" fill-opacity="0.3"/>
<circle cx="178.6" cy="487.5" r="0.9" fill-opacity="0.3"/>
<circle cx="178.4" cy="484.1" r="0.9" fill-opacity="0.3"/>
<circle cx="173.3" cy="479.8" r="0.9" fill-opacity="0.3"/>
<circle cx="172.2" cy="482.1" r="0.9" fill-opacity="0.3"/>
<circle cx="173.9" cy="483.8" r="0.9" fill-opacity="0.3"/>
<circle cx="169.6" cy="489.1" r="0.9" fill-opacity="0.3"/>
<circle cx="179.0" cy="481.6" r="0.9" fill-opacity="0.3"/>
<circle cx="175.5" cy="483.2" r="0.9" fill-opacity="0.3"/>
<circle cx="174.6" cy="481.0" r="0.9" fill-opacity="0.3"/>
<circle cx="173.7" cy="479.1" r="0.9" fill-opacity="0.3"/>
<circle cx="174.4" cy="481.6" r="0.9" fill-opacity="0.3"/>
<circle cx="174.7" cy="479.0" r="0.9" fill-opacity="0.3"/>
<circle cx="174.1" cy="481.9" r="0.9" fill-opacity="0.3"/>
<circle cx="175.3" cy="478.3" r="0.9" fill-opacity="0.3"/>
<circle cx="174.9" cy="484.8" r="0.9" fill-opacity="0.3"/>
<circle cx="175.3" cy="480.5" r="0.9" fill-opacity="0.3"/>
<circle cx="172.9" cy="480.9" r="0.9" fill-opacity="0.3"/>
<circle cx="175.6" cy="486.7" r="0.9" fill-opacity="0.3"/>
<circle cx="173.7" cy="479.6" r="0.9" fill-opacity="0.3"/>
<circle cx="174.8" cy="482.4" r="0.9" fill-opacity="0.3"/>
<circle cx="172.0" cy="479.3" r="0.9" fill-opacity="0.3"/>
<circle cx="173.8" cy="483.8" r="0.9" fill-opacity="0.3"/>
<circle cx="171.4" cy="478.4" r="0.9" fill-opacity="0.3"/>
<circle cx="175.1" cy="477.8" r="0.9" fill-opacity="0.3"/>
<circle cx="174.2" cy="482.8" r="0.9" fill-opacity="0.3"/>
<circle cx="173.8" cy="478.4" r="0.9" fill-opacity="0.3"/>
<circle cx="173.9" cy="480.6" r="0.9" fill-opacity="0.3"/>
<circle cx="174.7" cy="479.0" r="0.9" fill-opacity="0.3"/>
<circle cx="176.4" cy="476.3" r="0.9" fill-opacity="0.3"/>
<circle cx="173.6" cy="481.7" r="0.9" fill-opacity="0.3"/>
<circle cx="176.1" cy="479.8" r="0.9" fill-opacity="0.3"/>
<circle cx="175.2" cy="479.9" r="0.9" fill-opacity="0.3"/>
<circle cx="175.6" cy="487.3" r="0.9" fill-opacity="0.3"/>
<circle cx="173.1" cy="483.1" r="0.9" fill-opacity="0.3"/>
<circle cx="172.0" cy="484.8" r="0.9" fill-opacity="0.3"/>
<circle cx="176.7" cy="481.8" r="0.9" fill-opacity="0.3"/>
<circle cx="171.5" cy="483.0" r="0.9" fill-opacity="0.3"/>
<circle cx="176.5" cy="485.2" r="0.9" fill-opacity="0.3"/>
<circle cx="175.8" cy="475.8" r="0.9" fill-opacity="0.3"/>
<circle cx="172.5" cy="486.3" r="0.9" fill-opacity="0.3"/>
<circle cx="171.3" cy="485.3" r="0.9" fill-opacity="0.3"/>
<circle cx="178.1" cy="484.1" r="0.9" fill-opacity="0.3"/>
<circle cx="176.5" cy="480.6" r="0.9" fill-opacity="0.3"/>
<circle cx="171.3" cy="481.4" r="0.9" fill-opacity="0.3"/>
<circle cx="173.6" cy="481.5" r="0.9" fill-opacity="0.3"/>
<circle cx="175.5" cy="481.2" r="0.9" fill-opacity="0.3"/>
<circle cx="174.4" cy="483.1" r="0.9" fill-opacity="0.3"/>
<circle cx="174.0" cy="487.6" r="0.9" fill-opacity="0.3"/>
<circle cx="175.0" cy="482.0" r="0.9" fill-opacity="0.3"/>
</g>
<ellipse cx="233.50" cy="479.30" rx="4.50" ry="6.90" fill="#000" fill-opacity="0.1666" filter="url(#b2)" transform="rotate(0 233.50 479.30)"/>
<ellipse cx="241.50" cy="479.30" rx="7.50" ry="6.90" fill="#000" fill-opacity="0.14279999999999998" filter="url(#b2)" transform="rotate(0 241.50 479.30)"/>
<ellipse cx="232.70" cy="480.60" rx="3.30" ry="5.40" fill="#000" fill-opacity="0.92" filter="url(#b1)" transform="rotate(0 232.70 480.60)"/>
<ellipse cx="237.50" cy="480.30" rx="2.70" ry="3.00" fill="#000" fill-opacity="0.92" filter="url(#b1)" transform="rotate(0 237.50 480.30)"/>
<g filter="url(#b07)">
<circle cx="232.9" cy="476.4" r="1.6" fill-opacity="0.049"/>
<circle cx="237.5" cy="480.0" r="1.6" fill-opacity="0.049"/>
<circle cx="230.3" cy="476.7" r="1.6" fill-opacity="0.049"/>
<circle cx="233.1" cy="477.3" r="1.6" fill-opacity="0.049"/>
<circle cx="236.8" cy="474.0" r="1.6" fill-opacity="0.049"/>
<circle cx="235.0" cy="480.0" r="1.6" fill-opacity="0.049"/>
<circle cx="230.0" cy="479.5" r="1.6" fill-opacity="0.049"/>
<circle cx="233.2" cy="481.6" r="1.6" fill-opacity="0.049"/>
<circle cx="232.1" cy="480.7" r="1.6" fill-opacity="0.049"/>
<circle cx="228.5" cy="474.3" r="1.6" fill-opacity="0.049"/>
<circle cx="235.9" cy="484.1" r="1.6" fill-opacity="0.049"/>
<circle cx="233.5" cy="476.5" r="1.6" fill-opacity="0.049"/>
<circle cx="236.7" cy="469.7" r="1.6" fill-opacity="0.049"/>
<circle cx="231.1" cy="482.4" r="1.6" fill-opacity="0.049"/>
<circle cx="235.5" cy="474.6" r="1.6" fill-opacity="0.049"/>
<circle cx="227.8" cy="486.0" r="1.6" fill-opacity="0.049"/>
<circle cx="234.0" cy="475.2" r="1.6" fill-opacity="0.049"/>
<circle cx="233.7" cy="483.4" r="1.6" fill-opacity="0.049"/>
<circle cx="225.7" cy="484.4" r="1.6" fill-opacity="0.049"/>
<circle cx="235.7" cy="469.7" r="1.6" fill-opacity="0.049"/>
<circle cx="235.8" cy="471.1" r="1.6" fill-opacity="0.049"/>
<circle cx="236.9" cy="481.1" r="1.6" fill-opacity="0.049"/>
<circle cx="240.3" cy="476.5" r="1.6" fill-opacity="0.049"/>
<circle cx="233.5" cy="484.1" r="1.6" fill-opacity="0.049"/>
<circle cx="231.6" cy="476.1" r="1.6" fill-opacity="0.049"/>
<circle cx="232.4" cy="479.0" r="1.6" fill-opacity="0.049"/>
<circle cx="230.3" cy="481.5" r="1.6" fill-opacity="0.049"/>
<circle cx="235.1" cy="479.6" r="1.6" fill-opacity="0.049"/>
<circle cx="238.6" cy="477.8" r="1.6" fill-opacity="0.049"/>
<circle cx="237.4" cy="476.8" r="1.6" fill-opacity="0.049"/>
<circle cx="235.8" cy="470.4" r="1.6" fill-opacity="0.049"/>
<circle cx="234.1" cy="478.5" r="1.6" fill-opacity="0.049"/>
<circle cx="239.0" cy="476.5" r="1.6" fill-opacity="0.041999999999999996"/>
<circle cx="239.8" cy="476.0" r="1.6" fill-opacity="0.041999999999999996"/>
<circle cx="230.5" cy="476.6" r="1.6" fill-opacity="0.041999999999999996"/>
<circle cx="238.8" cy="476.9" r="1.6" fill-opacity="0.041999999999999996"/>
<circle cx="236.2" cy="478.7" r="1.6" fill-opacity="0.041999999999999996"/>
<circle cx="245.4" cy="478.1" r="1.6" fill-opacity="0.041999999999999996"/>
<circle cx="239.0" cy="485.5" r="1.6" fill-opacity="0.041999999999999996"/>
<circle cx="246.4" cy="483.5" r="1.6" fill-opacity="0.041999999999999996"/>
<circle cx="247.3" cy="477.8" r="1.6" fill-opacity="0.041999999999999996"/>
<circle cx="240.9" cy="484.4" r="1.6" fill-opacity="0.041999999999999996"/>
<circle cx="238.7" cy="478.7" r="1.6" fill-opacity="0.041999999999999996"/>
<circle cx="243.4" cy="481.0" r="1.6" fill-opacity="0.041999999999999996"/>
<circle cx="240.1" cy="483.8" r="1.6" fill-opacity="0.041999999999999996"/>
<circle cx="240.6" cy="482.6" r="1.6" fill-opacity="0.041999999999999996"/>
<circle cx="246.9" cy="482.3" r="1.6" fill-opacity="0.041999999999999996"/>
<circle cx="245.2" cy="474.0" r="1.6" fill-opacity="0.041999999999999996"/>
<circle cx="234.9" cy="476.5" r="1.6" fill-opacity="0.041999999999999996"/>
<circle cx="243.9" cy="486.2" r="1.6" fill-opacity="0.041999999999999996"/>
<circle cx="235.4" cy="480.7" r="1.6" fill-opacity="0.041999999999999996"/>
<circle cx="237.2" cy="475.9" r="1.6" fill-opacity="0.041999999999999996"/>
<circle cx="240.1" cy="482.5" r="1.6" fill-opacity="0.041999999999999996"/>
<circle cx="242.6" cy="484.7" r="1.6" fill-opacity="0.041999999999999996"/>
<circle cx="236.6" cy="483.4" r="1.6" fill-opacity="0.041999999999999996"/>
<circle cx="246.2" cy="479.6" r="1.6" fill-opacity="0.041999999999999996"/>
<circle cx="243.9" cy="476.7" r="1.6" fill-opacity="0.041999999999999996"/>
<circle cx="236.1" cy="477.4" r="1.6" fill-opacity="0.041999999999999996"/>
<circle cx="238.3" cy="489.5" r="1.6" fill-opacity="0.041999999999999996"/>
<circle cx="239.1" cy="486.9" r="1.6" fill-opacity="0.041999999999999996"/>
<circle cx="242.5" cy="480.7" r="1.6" fill-opacity="0.041999999999999996"/>
<circle cx="245.2" cy="475.7" r="1.6" fill-opacity="0.041999999999999996"/>
<circle cx="246.1" cy="481.0" r="1.6" fill-opacity="0.041999999999999996"/>
<circle cx="233.9" cy="482.1" r="1.6" fill-opacity="0.041999999999999996"/>
<circle cx="244.3" cy="481.4" r="1.6" fill-opacity="0.041999999999999996"/>
<circle cx="249.4" cy="477.4" r="1.6" fill-opacity="0.041999999999999996"/>
<circle cx="244.1" cy="482.7" r="1.6" fill-opacity="0.041999999999999996"/>
<circle cx="237.0" cy="484.8" r="1.6" fill-opacity="0.041999999999999996"/>
<circle cx="234.2" cy="473.3" r="1.6" fill-opacity="0.041999999999999996"/>
<circle cx="244.1" cy="474.3" r="1.6" fill-opacity="0.041999999999999996"/>
<circle cx="240.9" cy="471.7" r="1.6" fill-opacity="0.041999999999999996"/>
<circle cx="241.8" cy="474.1" r="1.6" fill-opacity="0.041999999999999996"/>
<circle cx="243.2" cy="472.3" r="1.6" fill-opacity="0.041999999999999996"/>
<circle cx="243.7" cy="478.1" r="1.6" fill-opacity="0.041999999999999996"/>
<circle cx="241.8" cy="479.0" r="1.6" fill-opacity="0.041999999999999996"/>
<circle cx="242.2" cy="473.2" r="1.6" fill-opacity="0.041999999999999996"/>
<circle cx="228.7" cy="479.5" r="1.6" fill-opacity="0.041999999999999996"/>
<circle cx="236.8" cy="477.2" r="1.6" fill-opacity="0.041999999999999996"/>
<circle cx="243.6" cy="470.2" r="1.6" fill-opacity="0.041999999999999996"/>
<circle cx="237.7" cy="476.5" r="1.6" fill-opacity="0.041999999999999996"/>
<circle cx="230.4" cy="481.8" r="0.9" fill-opacity="0.3"/>
<circle cx="232.4" cy="477.6" r="0.9" fill-opacity="0.3"/>
<circle cx="230.5" cy="483.5" r="0.9" fill-opacity="0.3"/>
<circle cx="231.2" cy="482.7" r="0.9" fill-opacity="0.3"/>
<circle cx="233.7" cy="473.8" r="0.9" fill-opacity="0.3"/>
<circle cx="230.3" cy="480.6" r="0.9" fill-opacity="0.3"/>
<circle cx="233.5" cy="483.4" r="0.9" fill-opacity="0.3"/>
<circle cx="234.5" cy="484.3" r="0.9" fill-opacity="0.3"/>
<circle cx="231.9" cy="479.8" r="0.9" fill-opacity="0.3"/>
<circle cx="234.4" cy="479.1" r="0.9" fill-opacity="0.3"/>
<circle cx="235.0" cy="474.9" r="0.9" fill-opacity="0.3"/>
<circle cx="234.1" cy="480.0" r="0.9" fill-opacity="0.3"/>
<circle cx="228.4" cy="484.1" r="0.9" fill-opacity="0.3"/>
<circle cx="233.4" cy="480.7" r="0.9" fill-opacity="0.3"/>
<circle cx="230.3" cy="478.9" r="0.9" fill-opacity="0.3"/>
<circle cx="236.0" cy="477.6" r="0.9" fill-opacity="0.3"/>
<circle cx="225.1" cy="477.5" r="0.9" fill-opacity="0.3"/>
<circle cx="230.1" cy="480.1" r="0.9" fill-opacity="0.3"/>
<circle cx="231.8" cy="477.3" r="0.9" fill-opacity="0.3"/>
<circle cx="230.8" cy="484.4" r="0.9" fill-opacity="0.3"/>
<circle cx="229.5" cy="487.6" r="0.9" fill-opacity="0.3"/>
<circle cx="231.5" cy="476.7" r="0.9" fill-opacity="0.3"/>
<circle cx="234.4" cy="482.6" r="0.9" fill-opacity="0.3"/>
<circle cx="230.4" cy="483.3" r="0.9" fill-opacity="0.3"/>
<circle cx="228.7" cy="477.3" r="0.9" fill-opacity="0.3"/>
<circle cx="235.2" cy="479.7" r="0.9" fill-opacity="0.3"/>
<circle cx="229.8" cy="482.5" r="0.9" fill-opacity="0.3"/>
<circle cx="234.7" cy="480.5" r="0.9" fill-opacity="0.3"/>
<circle cx="228.7" cy="479.4" r="0.9" fill-opacity="0.3"/>
<circle cx="233.6" cy="483.4" r="0.9" fill-opacity="0.3"/>
<circle cx="236.8" cy="479.7" r="0.9" fill-opacity="0.3"/>
<circle cx="231.6" cy="480.5" r="0.9" fill-opacity="0.3"/>
<circle cx="235.4" cy="477.2" r="0.9" fill-opacity="0.3"/>
<circle cx="235.6" cy="470.7" r="0.9" fill-opacity="0.3"/>
<circle cx="234.5" cy="478.2" r="0.9" fill-opacity="0.3"/>
<circle cx="233.7" cy="483.1" r="0.9" fill-opacity="0.3"/>
<circle cx="230.1" cy="480.3" r="0.9" fill-opacity="0.3"/>
<circle cx="233.2" cy="482.7" r="0.9" fill-opacity="0.3"/>
<circle cx="230.7" cy="477.0" r="0.9" fill-opacity="0.3"/>
<circle cx="228.5" cy="489.5" r="0.9" fill-opacity="0.3"/>
<circle cx="232.3" cy="479.8" r="0.9" fill-opacity="0.3"/>
<circle cx="229.4" cy="483.9" r="0.9" fill-opacity="0.3"/>
<circle cx="231.5" cy="485.8" r="0.9" fill-opacity="0.3"/>
<circle cx="234.6" cy="480.7" r="0.9" fill-opacity="0.3"/>
<circle cx="234.3" cy="476.6" r="0.9" fill-opacity="0.3"/>
<circle cx="232.0" cy="478.5" r="0.9" fill-opacity="0.3"/>
<circle cx="229.9" cy="480.7" r="0.9" fill-opacity="0.3"/>
<circle cx="232.4" cy="485.8" r="0.9" fill-opacity="0.3"/>
<circle cx="225.3" cy="478.2" r="0.9" fill-opacity="0.3"/>
<circle cx="230.7" cy="478.9" r="0.9" fill-opacity="0.3"/>
<circle cx="233.6" cy="482.1" r="0.9" fill-opacity="0.3"/>
<circle cx="232.8" cy="478.9" r="0.9" fill-opacity="0.3"/>
<circle cx="233.8" cy="481.9" r="0.9" fill-opacity="0.3"/>
<circle cx="228.6" cy="479.7" r="0.9" fill-opacity="0.3"/>
<circle cx="229.7" cy="476.3" r="0.9" fill-opacity="0.3"/>
<circle cx="233.0" cy="480.8" r="0.9" fill-opacity="0.3"/>
<circle cx="233.0" cy="477.4" r="0.9" fill-opacity="0.3"/>
<circle cx="232.3" cy="477.3" r="0.9" fill-opacity="0.3"/>
<circle cx="233.5" cy="483.1" r="0.9" fill-opacity="0.3"/>
<circle cx="236.6" cy="485.2" r="0.9" fill-opacity="0.3"/>
<circle cx="236.1" cy="479.4" r="0.9" fill-opacity="0.3"/>
<circle cx="235.8" cy="480.9" r="0.9" fill-opacity="0.3"/>
<circle cx="241.1" cy="481.7" r="0.9" fill-opacity="0.3"/>
<circle cx="233.5" cy="477.8" r="0.9" fill-opacity="0.3"/>
<circle cx="235.2" cy="481.3" r="0.9" fill-opacity="0.3"/>
<circle cx="237.5" cy="480.9" r="0.9" fill-opacity="0.3"/>
<circle cx="240.7" cy="478.6" r="0.9" fill-opacity="0.3"/>
<circle cx="236.0" cy="484.2" r="0.9" fill-opacity="0.3"/>
<circle cx="238.1" cy="478.7" r="0.9" fill-opacity="0.3"/>
<circle cx="233.8" cy="477.3" r="0.9" fill-opacity="0.3"/>
<circle cx="233.1" cy="480.4" r="0.9" fill-opacity="0.3"/>
<circle cx="237.6" cy="482.3" r="0.9" fill-opacity="0.3"/>
<circle cx="237.2" cy="478.9" r="0.9" fill-opacity="0.3"/>
<circle cx="236.2" cy="484.1" r="0.9" fill-opacity="0.3"/>
<circle cx="234.3" cy="480.6" r="0.9" fill-opacity="0.3"/>
<circle cx="237.5" cy="481.5" r="0.9" fill-opacity="0.3"/>
<circle cx="236.8" cy="481.3" r="0.9" fill-opacity="0.3"/>
<circle cx="239.0" cy="480.0" r="0.9" fill-opacity="0.3"/>
<circle cx="236.7" cy="479.9" r="0.9" fill-opacity="0.3"/>
<circle cx="235.8" cy="479.9" r="0.9" fill-opacity="0.3"/>
<circle cx="237.0" cy="480.7" r="0.9" fill-opacity="0.3"/>
<circle cx="239.9" cy="482.9" r="0.9" fill-opacity="0.3"/>
<circle cx="236.7" cy="481.5" r="0.9" fill-opacity="0.3"/>
<circle cx="238.0" cy="481.8" r="0.9" fill-opacity="0.3"/>
<circle cx="237.5" cy="480.8" r="0.9" fill-opacity="0.3"/>
<circle cx="236.7" cy="478.7" r="0.9" fill-opacity="0.3"/>
<circle cx="239.1" cy="482.9" r="0.9" fill-opacity="0.3"/>
<circle cx="238.7" cy="481.2" r="0.9" fill-opacity="0.3"/>
<circle cx="238.0" cy="479.4" r="0.9" fill-opacity="0.3"/>
<circle cx="234.3" cy="481.6" r="0.9" fill-opacity="0.3"/>
<circle cx="237.9" cy="479.2" r="0.9" fill-opacity="0.3"/>
<circle cx="235.8" cy="482.9" r="0.9" fill-opacity="0.3"/>
<circle cx="234.3" cy="483.8" r="0.9" fill-opacity="0.3"/>
<circle cx="238.7" cy="485.0" r="0.9" fill-opacity="0.3"/>
<circle cx="236.2" cy="480.3" r="0.9" fill-opacity="0.3"/>
<circle cx="236.6" cy="480.6" r="0.9" fill-opacity="0.3"/>
<circle cx="237.1" cy="478.8" r="0.9" fill-opacity="0.3"/>
<circle cx="239.4" cy="478.7" r="0.9" fill-opacity="0.3"/>
<circle cx="236.6" cy="481.4" r="0.9" fill-opacity="0.3"/>
<circle cx="236.5" cy="479.4" r="0.9" fill-opacity="0.3"/>
<circle cx="238.1" cy="479.6" r="0.9" fill-opacity="0.3"/>
<circle cx="235.3" cy="480.1" r="0.9" fill-opacity="0.3"/>
<circle cx="237.1" cy="483.7" r="0.9" fill-opacity="0.3"/>
<circle cx="235.5" cy="482.2" r="0.9" fill-opacity="0.3"/>
<circle cx="236.1" cy="479.6" r="0.9" fill-opacity="0.3"/>
<circle cx="236.9" cy="480.8" r="0.9" fill-opacity="0.3"/>
<circle cx="239.1" cy="483.8" r="0.9" fill-opacity="0.3"/>
<circle cx="236.4" cy="483.0" r="0.9" fill-opacity="0.3"/>
<circle cx="239.3" cy="481.9" r="0.9" fill-opacity="0.3"/>
<circle cx="236.1" cy="482.1" r="0.9" fill-opacity="0.3"/>
<circle cx="237.3" cy="481.0" r="0.9" fill-opacity="0.3"/>
<circle cx="237.0" cy="481.6" r="0.9" fill-opacity="0.3"/>
<circle cx="239.5" cy="482.6" r="0.9" fill-opacity="0.3"/>
<circle cx="237.1" cy="482.3" r="0.9" fill-opacity="0.3"/>
<circle cx="240.1" cy="478.4" r="0.9" fill-opacity="0.3"/>
<circle cx="240.2" cy="477.6" r="0.9" fill-opacity="0.3"/>
<circle cx="238.5" cy="481.5" r="0.9" fill-opacity="0.3"/>
<circle cx="240.2" cy="480.9" r="0.9" fill-opacity="0.3"/>
<circle cx="236.6" cy="478.7" r="0.9" fill-opacity="0.3"/>
<circle cx="235.2" cy="481.8" r="0.9" fill-opacity="0.3"/>
</g>
<ellipse cx="295.80" cy="478.80" rx="8.40" ry="7.20" fill="#000" fill-opacity="0.1785" filter="url(#b2)" transform="rotate(0 295.80 478.80)"/>
<ellipse cx="295.80" cy="480.80" rx="4.95" ry="4.05" fill="#000" fill-opacity="0.92" filter="url(#b1)" transform="rotate(15 295.80 480.80)"/>
<g filter="url(#b07)">
<circle cx="294.5" cy="475.4" r="1.6" fill-opacity="0.0525"/>
<circle cx="298.8" cy="475.1" r="1.6" fill-opacity="0.0525"/>
<circle cx="293.4" cy="476.6" r="1.6" fill-opacity="0.0525"/>
<circle cx="305.1" cy="485.8" r="1.6" fill-opacity="0.0525"/>
<circle cx="294.9" cy="471.3" r="1.6" fill-opacity="0.0525"/>
<circle cx="297.3" cy="479.1" r="1.6" fill-opacity="0.0525"/>
<circle cx="297.8" cy="481.5" r="1.6" fill-opacity="0.0525"/>
<circle cx="294.0" cy="483.2" r="1.6" fill-opacity="0.0525"/>
<circle cx="300.5" cy="479.8" r="1.6" fill-opacity="0.0525"/>
<circle cx="293.5" cy="476.5" r="1.6" fill-opacity="0.0525"/>
<circle cx="299.7" cy="473.5" r="1.6" fill-opacity="0.0525"/>
<circle cx="294.9" cy="475.2" r="1.6" fill-opacity="0.0525"/>
<circle cx="288.0" cy="481.7" r="1.6" fill-opacity="0.0525"/>
<circle cx="295.7" cy="479.0" r="1.6" fill-opacity="0.0525"/>
<circle cx="300.7" cy="471.6" r="1.6" fill-opacity="0.0525"/>
<circle cx="295.4" cy="480.2" r="1.6" fill-opacity="0.0525"/>
<circle cx="300.5" cy="473.6" r="1.6" fill-opacity="0.0525"/>
<circle cx="299.8" cy="479.9" r="1.6" fill-opacity="0.0525"/>
<circle cx="303.4" cy="484.3" r="1.6" fill-opacity="0.0525"/>
<circle cx="298.9" cy="489.1" r="1.6" fill-opacity="0.0525"/>
<circle cx="295.8" cy="476.8" r="1.6" fill-opacity="0.0525"/>
<circle cx="293.9" cy="474.3" r="1.6" fill-opacity="0.0525"/>
<circle cx="295.6" cy="469.8" r="1.6" fill-opacity="0.0525"/>
<circle cx="295.3" cy="480.8" r="1.6" fill-opacity="0.0525"/>
<circle cx="301.4" cy="477.1" r="1.6" fill-opacity="0.0525"/>
<circle cx="303.6" cy="475.7" r="1.6" fill-opacity="0.0525"/>
<circle cx="295.0" cy="469.8" r="1.6" fill-opacity="0.0525"/>
<circle cx="291.5" cy="475.0" r="1.6" fill-opacity="0.0525"/>
<circle cx="304.0" cy="481.3" r="1.6" fill-opacity="0.0525"/>
<circle cx="289.8" cy="481.3" r="1.6" fill-opacity="0.0525"/>
<circle cx="298.4" cy="477.7" r="1.6" fill-opacity="0.0525"/>
<circle cx="295.9" cy="477.4" r="1.6" fill-opacity="0.0525"/>
<circle cx="292.8" cy="470.5" r="1.6" fill-opacity="0.0525"/>
<circle cx="295.3" cy="484.8" r="1.6" fill-opacity="0.0525"/>
<circle cx="303.6" cy="477.5" r="1.6" fill-opacity="0.0525"/>
<circle cx="291.7" cy="477.8" r="1.6" fill-opacity="0.0525"/>
<circle cx="300.7" cy="480.4" r="1.6" fill-opacity="0.0525"/>
<circle cx="292.6" cy="480.5" r="1.6" fill-opacity="0.0525"/>
<circle cx="294.7" cy="481.2" r="1.6" fill-opacity="0.0525"/>
<circle cx="293.6" cy="471.9" r="1.6" fill-opacity="0.0525"/>
<circle cx="296.1" cy="482.4" r="1.6" fill-opacity="0.0525"/>
<circle cx="289.8" cy="478.3" r="1.6" fill-opacity="0.0525"/>
<circle cx="300.6" cy="477.0" r="1.6" fill-opacity="0.0525"/>
<circle cx="292.2" cy="488.3" r="1.6" fill-opacity="0.0525"/>
<circle cx="300.3" cy="483.6" r="1.6" fill-opacity="0.0525"/>
<circle cx="290.6" cy="486.4" r="1.6" fill-opacity="0.0525"/>
<circle cx="286.8" cy="476.4" r="1.6" fill-opacity="0.0525"/>
<circle cx="299.8" cy="485.0" r="1.6" fill-opacity="0.0525"/>
<circle cx="290.7" cy="475.7" r="1.6" fill-opacity="0.0525"/>
<circle cx="296.9" cy="469.8" r="1.6" fill-opacity="0.0525"/>
<circle cx="299.3" cy="481.4" r="1.6" fill-opacity="0.0525"/>
<circle cx="293.4" cy="481.3" r="1.6" fill-opacity="0.0525"/>
<circle cx="300.0" cy="480.2" r="1.6" fill-opacity="0.0525"/>
<circle cx="298.6" cy="485.9" r="1.6" fill-opacity="0.0525"/>
<circle cx="293.2" cy="479.6" r="1.6" fill-opacity="0.0525"/>
<circle cx="293.0" cy="483.6" r="1.6" fill-opacity="0.0525"/>
<circle cx="293.6" cy="481.0" r="1.6" fill-opacity="0.0525"/>
<circle cx="296.5" cy="479.1" r="1.6" fill-opacity="0.0525"/>
<circle cx="305.1" cy="478.4" r="1.6" fill-opacity="0.0525"/>
<circle cx="303.5" cy="482.6" r="1.6" fill-opacity="0.0525"/>
<circle cx="303.0" cy="478.0" r="1.6" fill-opacity="0.0525"/>
<circle cx="300.8" cy="482.3" r="1.6" fill-opacity="0.0525"/>
<circle cx="292.5" cy="480.1" r="1.6" fill-opacity="0.0525"/>
<circle cx="295.1" cy="478.6" r="1.6" fill-opacity="0.0525"/>
<circle cx="302.8" cy="475.5" r="1.6" fill-opacity="0.0525"/>
<circle cx="286.7" cy="470.7" r="1.6" fill-opacity="0.0525"/>
<circle cx="293.4" cy="475.8" r="1.6" fill-opacity="0.0525"/>
<circle cx="295.9" cy="481.4" r="1.6" fill-opacity="0.0525"/>
<circle cx="305.3" cy="480.2" r="1.6" fill-opacity="0.0525"/>
<circle cx="298.3" cy="475.4" r="1.6" fill-opacity="0.0525"/>
<circle cx="298.9" cy="485.1" r="1.6" fill-opacity="0.0525"/>
<circle cx="303.0" cy="469.8" r="1.6" fill-opacity="0.0525"/>
<circle cx="297.5" cy="485.5" r="0.9" fill-opacity="0.3"/>
<circle cx="299.3" cy="477.7" r="0.9" fill-opacity="0.3"/>
<circle cx="294.5" cy="482.0" r="0.9" fill-opacity="0.3"/>
<circle cx="297.6" cy="479.1" r="0.9" fill-opacity="0.3"/>
<circle cx="292.4" cy="482.5" r="0.9" fill-opacity="0.3"/>
<circle cx="290.7" cy="483.3" r="0.9" fill-opacity="0.3"/>
<circle cx="295.7" cy="481.6" r="0.9" fill-opacity="0.3"/>
<circle cx="292.1" cy="478.2" r="0.9" fill-opacity="0.3"/>
<circle cx="298.9" cy="477.7" r="0.9" fill-opacity="0.3"/>
<circle cx="303.1" cy="479.0" r="0.9" fill-opacity="0.3"/>
<circle cx="292.0" cy="479.9" r="0.9" fill-opacity="0.3"/>
<circle cx="296.8" cy="483.0" r="0.9" fill-opacity="0.3"/>
<circle cx="294.8" cy="480.0" r="0.9" fill-opacity="0.3"/>
<circle cx="295.5" cy="479.2" r="0.9" fill-opacity="0.3"/>
<circle cx="287.3" cy="481.1" r="0.9" fill-opacity="0.3"/>
<circle cx="296.5" cy="481.4" r="0.9" fill-opacity="0.3"/>
<circle cx="293.7" cy="480.9" r="0.9" fill-opacity="0.3"/>
<circle cx="295.8" cy="480.6" r="0.9" fill-opacity="0.3"/>
<circle cx="300.3" cy="477.4" r="0.9" fill-opacity="0.3"/>
<circle cx="297.3" cy="478.3" r="0.9" fill-opacity="0.3"/>
<circle cx="293.8" cy="484.3" r="0.9" fill-opacity="0.3"/>
<circle cx="292.5" cy="479.7" r="0.9" fill-opacity="0.3"/>
<circle cx="293.4" cy="482.7" r="0.9" fill-opacity="0.3"/>
<circle cx="293.9" cy="475.8" r="0.9" fill-opacity="0.3"/>
<circle cx="297.6" cy="480.3" r="0.9" fill-opacity="0.3"/>
<circle cx="294.1" cy="483.2" r="0.9" fill-opacity="0.3"/>
<circle cx="293.3" cy="479.1" r="0.9" fill-opacity="0.3"/>
<circle cx="296.0" cy="482.0" r="0.9" fill-opacity="0.3"/>
<circle cx="293.5" cy="483.0" r="0.9" fill-opacity="0.3"/>
<circle cx="302.9" cy="481.6" r="0.9" fill-opacity="0.3"/>
<circle cx="302.9" cy="477.1" r="0.9" fill-opacity="0.3"/>
<circle cx="300.3" cy="481.1" r="0.9" fill-opacity="0.3"/>
<circle cx="296.4" cy="480.1" r="0.9" fill-opacity="0.3"/>
<circle cx="294.7" cy="477.1" r="0.9" fill-opacity="0.3"/>
<circle cx="293.7" cy="483.7" r="0.9" fill-opacity="0.3"/>
<circle cx="299.5" cy="480.9" r="0.9" fill-opacity="0.3"/>
<circle cx="294.7" cy="478.6" r="0.9" fill-opacity="0.3"/>
<circle cx="290.9" cy="484.3" r="0.9" fill-opacity="0.3"/>
<circle cx="297.8" cy="481.6" r="0.9" fill-opacity="0.3"/>
<circle cx="295.0" cy="477.8" r="0.9" fill-opacity="0.3"/>
<circle cx="299.3" cy="483.8" r="0.9" fill-opacity="0.3"/>
<circle cx="292.2" cy="482.5" r="0.9" fill-opacity="0.3"/>
<circle cx="292.0" cy="481.5" r="0.9" fill-opacity="0.3"/>
<circle cx="293.1" cy="479.0" r="0.9" fill-opacity="0.3"/>
<circle cx="297.0" cy="482.3" r="0.9" fill-opacity="0.3"/>
<circle cx="299.5" cy="479.5" r="0.9" fill-opacity="0.3"/>
<circle cx="299.7" cy="485.5" r="0.9" fill-opacity="0.3"/>
<circle cx="295.5" cy="482.0" r="0.9" fill-opacity="0.3"/>
<circle cx="293.5" cy="479.8" r="0.9" fill-opacity="0.3"/>
<circle cx="291.7" cy="479.9" r="0.9" fill-opacity="0.3"/>
<circle cx="295.5" cy="484.3" r="0.9" fill-opacity="0.3"/>
<circle cx="298.2" cy="483.6" r="0.9" fill-opacity="0.3"/>
<circle cx="294.8" cy="479.9" r="0.9" fill-opacity="0.3"/>
<circle cx="294.6" cy="481.1" r="0.9" fill-opacity="0.3"/>
<circle cx="289.4" cy="481.1" r="0.9" fill-opacity="0.3"/>
<circle cx="291.4" cy="478.2" r="0.9" fill-opacity="0.3"/>
<circle cx="296.2" cy="479.5" r="0.9" fill-opacity="0.3"/>
<circle cx="301.0" cy="481.9" r="0.9" fill-opacity="0.3"/>
<circle cx="299.8" cy="485.0" r="0.9" fill-opacity="0.3"/>
<circle cx="294.0" cy="481.4" r="0.9" fill-opacity="0.3"/>
</g>
<g stroke="#444" stroke-width="0.7" fill="none">
<line x1="60.50" y1="381.30" x2="60.50" y2="432.90"/>
<line x1="41.20" y1="415.10" x2="93.00" y2="415.10"/>
<line x1="118.90" y1="381.30" x2="118.90" y2="432.90"/>
<line x1="99.60" y1="415.10" x2="151.40" y2="415.10"/>
<line x1="177.30" y1="381.30" x2="177.30" y2="432.90"/>
<line x1="158.00" y1="415.10" x2="209.80" y2="415.10"/>
<line x1="235.80" y1="381.30" x2="235.80" y2="432.90"/>
<line x1="216.50" y1="415.10" x2="268.30" y2="415.10"/>
<line x1="294.10" y1="381.30" x2="294.10" y2="432.90"/>
<line x1="274.80" y1="415.10" x2="326.60" y2="415.10"/>
<line x1="60.50" y1="456.30" x2="60.50" y2="507.90"/>
<line x1="41.20" y1="490.10" x2="93.00" y2="490.10"/>
<line x1="118.90" y1="456.30" x2="118.90" y2="507.90"/>
<line x1="99.60" y1="490.10" x2="151.40" y2="490.10"/>
<line x1="177.30" y1="456.30" x2="177.30" y2="507.90"/>
<line x1="158.00" y1="490.10" x2="209.80" y2="490.10"/>
<line x1="235.80" y1="456.30" x2="235.80" y2="507.90"/>
<line x1="216.50" y1="490.10" x2="268.30" y2="490.10"/>
<line x1="294.10" y1="456.30" x2="294.10" y2="507.90"/>
<line x1="274.80" y1="490.10" x2="326.60" y2="490.10"/>
</g>
<g fill="#222">
<text x="66.30" y="376.10" font-size="8.2" text-anchor="middle" textLength="41.00" lengthAdjust="spacingAndGlyphs" class="L" >No targets</text>
<text x="43.40" y="389.60" font-size="5.8" textLength="6.20" lengthAdjust="spacingAndGlyphs" >99</text>
<text x="90.80" y="389.60" font-size="5.8" text-anchor="end" textLength="3.10" lengthAdjust="spacingAndGlyphs" >1</text>
<text x="43.40" y="429.50" font-size="5.8" textLength="3.10" lengthAdjust="spacingAndGlyphs" >0</text>
<text x="90.80" y="429.50" font-size="5.8" text-anchor="end" textLength="3.10" lengthAdjust="spacingAndGlyphs" >0</text>
<rect x="39.80" y="387.40" width="1.4" height="0.8"/>
<rect x="39.80" y="405.90" width="1.4" height="0.8"/>
<rect x="39.80" y="417.40" width="1.4" height="0.8"/>
<rect x="39.80" y="428.20" width="1.4" height="0.8"/>
<rect x="43.80" y="432.90" width="0.8" height="1.3"/>
<rect x="51.90" y="432.90" width="0.8" height="1.3"/>
<rect x="60.80" y="432.90" width="0.8" height="1.3"/>
<rect x="74.80" y="432.90" width="0.8" height="1.3"/>
<rect x="86.80" y="432.90" width="0.8" height="1.3"/>
<ellipse cx="40.60" cy="417.90" rx="0.7" ry="1.1"/>
<ellipse cx="53.00" cy="433.50" rx="1.1" ry="0.7"/>
<text x="125.50" y="376.10" font-size="8.2" text-anchor="middle" textLength="30.00" lengthAdjust="spacingAndGlyphs" class="L" ><tspan font-style="italic">Prf1</tspan> KO</text>
<text x="101.80" y="389.60" font-size="5.8" textLength="6.20" lengthAdjust="spacingAndGlyphs" >31</text>
<text x="149.20" y="389.60" font-size="5.8" text-anchor="end" textLength="6.20" lengthAdjust="spacingAndGlyphs" >69</text>
<text x="101.80" y="429.50" font-size="5.8" textLength="3.10" lengthAdjust="spacingAndGlyphs" >0</text>
<text x="149.20" y="429.50" font-size="5.8" text-anchor="end" textLength="3.10" lengthAdjust="spacingAndGlyphs" >0</text>
<rect x="98.20" y="387.40" width="1.4" height="0.8"/>
<rect x="98.20" y="405.90" width="1.4" height="0.8"/>
<rect x="98.20" y="417.40" width="1.4" height="0.8"/>
<rect x="98.20" y="428.20" width="1.4" height="0.8"/>
<rect x="102.20" y="432.90" width="0.8" height="1.3"/>
<rect x="110.30" y="432.90" width="0.8" height="1.3"/>
<rect x="119.20" y="432.90" width="0.8" height="1.3"/>
<rect x="133.20" y="432.90" width="0.8" height="1.3"/>
<rect x="145.20" y="432.90" width="0.8" height="1.3"/>
<ellipse cx="99.00" cy="417.90" rx="0.7" ry="1.1"/>
<ellipse cx="111.40" cy="433.50" rx="1.1" ry="0.7"/>
<text x="183.90" y="376.10" font-size="8.2" text-anchor="middle" textLength="43.80" lengthAdjust="spacingAndGlyphs" class="L" ><tspan font-style="italic">Unc13d</tspan> KO</text>
<text x="160.20" y="389.60" font-size="5.8" textLength="6.20" lengthAdjust="spacingAndGlyphs" >84</text>
<text x="207.60" y="389.60" font-size="5.8" text-anchor="end" textLength="6.20" lengthAdjust="spacingAndGlyphs" >16</text>
<text x="160.20" y="429.50" font-size="5.8" textLength="3.10" lengthAdjust="spacingAndGlyphs" >0</text>
<text x="207.60" y="429.50" font-size="5.8" text-anchor="end" textLength="3.10" lengthAdjust="spacingAndGlyphs" >0</text>
<rect x="156.60" y="387.40" width="1.4" height="0.8"/>
<rect x="156.60" y="405.90" width="1.4" height="0.8"/>
<rect x="156.60" y="417.40" width="1.4" height="0.8"/>
<rect x="156.60" y="428.20" width="1.4" height="0.8"/>
<rect x="160.60" y="432.90" width="0.8" height="1.3"/>
<rect x="168.70" y="432.90" width="0.8" height="1.3"/>
<rect x="177.60" y="432.90" width="0.8" height="1.3"/>
<rect x="191.60" y="432.90" width="0.8" height="1.3"/>
<rect x="203.60" y="432.90" width="0.8" height="1.3"/>
<ellipse cx="157.40" cy="417.90" rx="0.7" ry="1.1"/>
<ellipse cx="169.80" cy="433.50" rx="1.1" ry="0.7"/>
<text x="241.90" y="376.10" font-size="8.2" text-anchor="middle" textLength="36.00" lengthAdjust="spacingAndGlyphs" class="L" ><tspan font-style="italic">Stx11</tspan> KO</text>
<text x="218.70" y="389.60" font-size="5.8" textLength="6.20" lengthAdjust="spacingAndGlyphs" >76</text>
<text x="266.10" y="389.60" font-size="5.8" text-anchor="end" textLength="6.20" lengthAdjust="spacingAndGlyphs" >24</text>
<text x="218.70" y="429.50" font-size="5.8" textLength="3.10" lengthAdjust="spacingAndGlyphs" >0</text>
<text x="266.10" y="429.50" font-size="5.8" text-anchor="end" textLength="3.10" lengthAdjust="spacingAndGlyphs" >0</text>
<rect x="215.10" y="387.40" width="1.4" height="0.8"/>
<rect x="215.10" y="405.90" width="1.4" height="0.8"/>
<rect x="215.10" y="417.40" width="1.4" height="0.8"/>
<rect x="215.10" y="428.20" width="1.4" height="0.8"/>
<rect x="219.10" y="432.90" width="0.8" height="1.3"/>
<rect x="227.20" y="432.90" width="0.8" height="1.3"/>
<rect x="236.10" y="432.90" width="0.8" height="1.3"/>
<rect x="250.10" y="432.90" width="0.8" height="1.3"/>
<rect x="262.10" y="432.90" width="0.8" height="1.3"/>
<ellipse cx="215.90" cy="417.90" rx="0.7" ry="1.1"/>
<ellipse cx="228.30" cy="433.50" rx="1.1" ry="0.7"/>
<text x="300.30" y="376.10" font-size="8.2" text-anchor="middle" textLength="41.80" lengthAdjust="spacingAndGlyphs" class="L" ><tspan font-style="italic">Stxbp2</tspan> KO</text>
<text x="277.00" y="389.60" font-size="5.8" textLength="6.20" lengthAdjust="spacingAndGlyphs" >82</text>
<text x="324.40" y="389.60" font-size="5.8" text-anchor="end" textLength="6.20" lengthAdjust="spacingAndGlyphs" >18</text>
<text x="277.00" y="429.50" font-size="5.8" textLength="3.10" lengthAdjust="spacingAndGlyphs" >0</text>
<text x="324.40" y="429.50" font-size="5.8" text-anchor="end" textLength="3.10" lengthAdjust="spacingAndGlyphs" >0</text>
<rect x="273.40" y="387.40" width="1.4" height="0.8"/>
<rect x="273.40" y="405.90" width="1.4" height="0.8"/>
<rect x="273.40" y="417.40" width="1.4" height="0.8"/>
<rect x="273.40" y="428.20" width="1.4" height="0.8"/>
<rect x="277.40" y="432.90" width="0.8" height="1.3"/>
<rect x="285.50" y="432.90" width="0.8" height="1.3"/>
<rect x="294.40" y="432.90" width="0.8" height="1.3"/>
<rect x="308.40" y="432.90" width="0.8" height="1.3"/>
<rect x="320.40" y="432.90" width="0.8" height="1.3"/>
<ellipse cx="274.20" cy="417.90" rx="0.7" ry="1.1"/>
<ellipse cx="286.60" cy="433.50" rx="1.1" ry="0.7"/>
<text x="66.70" y="451.10" font-size="8.2" text-anchor="middle" textLength="10.70" lengthAdjust="spacingAndGlyphs" class="L" >NT</text>
<text x="43.40" y="464.60" font-size="5.8" textLength="6.20" lengthAdjust="spacingAndGlyphs" >36</text>
<text x="90.80" y="464.60" font-size="5.8" text-anchor="end" textLength="6.20" lengthAdjust="spacingAndGlyphs" >64</text>
<text x="43.40" y="504.50" font-size="5.8" textLength="3.10" lengthAdjust="spacingAndGlyphs" >0</text>
<text x="90.80" y="504.50" font-size="5.8" text-anchor="end" textLength="3.10" lengthAdjust="spacingAndGlyphs" >0</text>
<rect x="39.80" y="462.40" width="1.4" height="0.8"/>
<rect x="39.80" y="480.90" width="1.4" height="0.8"/>
<rect x="39.80" y="492.40" width="1.4" height="0.8"/>
<rect x="39.80" y="503.20" width="1.4" height="0.8"/>
<rect x="43.80" y="507.90" width="0.8" height="1.3"/>
<rect x="51.90" y="507.90" width="0.8" height="1.3"/>
<rect x="60.80" y="507.90" width="0.8" height="1.3"/>
<rect x="74.80" y="507.90" width="0.8" height="1.3"/>
<rect x="86.80" y="507.90" width="0.8" height="1.3"/>
<ellipse cx="40.60" cy="492.90" rx="0.7" ry="1.1"/>
<ellipse cx="53.00" cy="508.50" rx="1.1" ry="0.7"/>
<text x="125.50" y="451.10" font-size="8.2" text-anchor="middle" textLength="35.00" lengthAdjust="spacingAndGlyphs" class="L" >PRF1 WT</text>
<text x="101.80" y="464.60" font-size="5.8" textLength="6.20" lengthAdjust="spacingAndGlyphs" >30</text>
<text x="149.20" y="464.60" font-size="5.8" text-anchor="end" textLength="6.20" lengthAdjust="spacingAndGlyphs" >70</text>
<text x="101.80" y="504.50" font-size="5.8" textLength="3.10" lengthAdjust="spacingAndGlyphs" >0</text>
<text x="149.20" y="504.50" font-size="5.8" text-anchor="end" textLength="3.10" lengthAdjust="spacingAndGlyphs" >0</text>
<rect x="98.20" y="462.40" width="1.4" height="0.8"/>
<rect x="98.20" y="480.90" width="1.4" height="0.8"/>
<rect x="98.20" y="492.40" width="1.4" height="0.8"/>
<rect x="98.20" y="503.20" width="1.4" height="0.8"/>
<rect x="102.20" y="507.90" width="0.8" height="1.3"/>
<rect x="110.30" y="507.90" width="0.8" height="1.3"/>
<rect x="119.20" y="507.90" width="0.8" height="1.3"/>
<rect x="133.20" y="507.90" width="0.8" height="1.3"/>
<rect x="145.20" y="507.90" width="0.8" height="1.3"/>
<ellipse cx="99.00" cy="492.90" rx="0.7" ry="1.1"/>
<ellipse cx="111.40" cy="508.50" rx="1.1" ry="0.7"/>
<text x="180.60" y="451.10" font-size="8.2" text-anchor="middle" textLength="53.00" lengthAdjust="spacingAndGlyphs" class="L" >MUNC13-4 WT</text>
<text x="160.20" y="464.60" font-size="5.8" textLength="6.20" lengthAdjust="spacingAndGlyphs" >55</text>
<text x="207.60" y="464.60" font-size="5.8" text-anchor="end" textLength="6.20" lengthAdjust="spacingAndGlyphs" >45</text>
<text x="160.20" y="504.50" font-size="5.8" textLength="3.10" lengthAdjust="spacingAndGlyphs" >0</text>
<text x="207.60" y="504.50" font-size="5.8" text-anchor="end" textLength="3.10" lengthAdjust="spacingAndGlyphs" >0</text>
<rect x="156.60" y="462.40" width="1.4" height="0.8"/>
<rect x="156.60" y="480.90" width="1.4" height="0.8"/>
<rect x="156.60" y="492.40" width="1.4" height="0.8"/>
<rect x="156.60" y="503.20" width="1.4" height="0.8"/>
<rect x="160.60" y="507.90" width="0.8" height="1.3"/>
<rect x="168.70" y="507.90" width="0.8" height="1.3"/>
<rect x="177.60" y="507.90" width="0.8" height="1.3"/>
<rect x="191.60" y="507.90" width="0.8" height="1.3"/>
<rect x="203.60" y="507.90" width="0.8" height="1.3"/>
<ellipse cx="157.40" cy="492.90" rx="0.7" ry="1.1"/>
<ellipse cx="169.80" cy="508.50" rx="1.1" ry="0.7"/>
<text x="242.00" y="451.10" font-size="8.2" text-anchor="middle" textLength="39.80" lengthAdjust="spacingAndGlyphs" class="L" >STX11 WT</text>
<text x="218.70" y="464.60" font-size="5.8" textLength="6.20" lengthAdjust="spacingAndGlyphs" >46</text>
<text x="266.10" y="464.60" font-size="5.8" text-anchor="end" textLength="6.20" lengthAdjust="spacingAndGlyphs" >54</text>
<text x="218.70" y="504.50" font-size="5.8" textLength="3.10" lengthAdjust="spacingAndGlyphs" >0</text>
<text x="266.10" y="504.50" font-size="5.8" text-anchor="end" textLength="3.10" lengthAdjust="spacingAndGlyphs" >0</text>
<rect x="215.10" y="462.40" width="1.4" height="0.8"/>
<rect x="215.10" y="480.90" width="1.4" height="0.8"/>
<rect x="215.10" y="492.40" width="1.4" height="0.8"/>
<rect x="215.10" y="503.20" width="1.4" height="0.8"/>
<rect x="219.10" y="507.90" width="0.8" height="1.3"/>
<rect x="227.20" y="507.90" width="0.8" height="1.3"/>
<rect x="236.10" y="507.90" width="0.8" height="1.3"/>
<rect x="250.10" y="507.90" width="0.8" height="1.3"/>
<rect x="262.10" y="507.90" width="0.8" height="1.3"/>
<ellipse cx="215.90" cy="492.90" rx="0.7" ry="1.1"/>
<ellipse cx="228.30" cy="508.50" rx="1.1" ry="0.7"/>
<text x="300.30" y="451.10" font-size="8.2" text-anchor="middle" textLength="45.70" lengthAdjust="spacingAndGlyphs" class="L" >STXBP2 WT</text>
<text x="277.00" y="464.60" font-size="5.8" textLength="6.20" lengthAdjust="spacingAndGlyphs" >32</text>
<text x="324.40" y="464.60" font-size="5.8" text-anchor="end" textLength="6.20" lengthAdjust="spacingAndGlyphs" >68</text>
<text x="277.00" y="504.50" font-size="5.8" textLength="3.10" lengthAdjust="spacingAndGlyphs" >0</text>
<text x="324.40" y="504.50" font-size="5.8" text-anchor="end" textLength="3.10" lengthAdjust="spacingAndGlyphs" >0</text>
<rect x="273.40" y="462.40" width="1.4" height="0.8"/>
<rect x="273.40" y="480.90" width="1.4" height="0.8"/>
<rect x="273.40" y="492.40" width="1.4" height="0.8"/>
<rect x="273.40" y="503.20" width="1.4" height="0.8"/>
<rect x="277.40" y="507.90" width="0.8" height="1.3"/>
<rect x="285.50" y="507.90" width="0.8" height="1.3"/>
<rect x="294.40" y="507.90" width="0.8" height="1.3"/>
<rect x="308.40" y="507.90" width="0.8" height="1.3"/>
<rect x="320.40" y="507.90" width="0.8" height="1.3"/>
<ellipse cx="274.20" cy="492.90" rx="0.7" ry="1.1"/>
<ellipse cx="286.60" cy="508.50" rx="1.1" ry="0.7"/>
<text x="37.00" y="389.90" font-size="6.0" text-anchor="end" >10<tspan font-size="3.72" dy="-2.2">4</tspan></text>
<text x="37.00" y="408.40" font-size="6.0" text-anchor="end" >10<tspan font-size="3.72" dy="-2.2">3</tspan></text>
<text x="36.80" y="419.90" font-size="6.0" text-anchor="end" >0</text>
<text x="37.00" y="430.80" font-size="6.0" text-anchor="end" >−10<tspan font-size="3.72" dy="-2.2">3</tspan></text>
<text x="37.00" y="464.90" font-size="6.0" text-anchor="end" >10<tspan font-size="3.72" dy="-2.2">4</tspan></text>
<text x="37.00" y="483.40" font-size="6.0" text-anchor="end" >10<tspan font-size="3.72" dy="-2.2">3</tspan></text>
<text x="36.80" y="494.90" font-size="6.0" text-anchor="end" >0</text>
<text x="37.00" y="505.80" font-size="6.0" text-anchor="end" >−10<tspan font-size="3.72" dy="-2.2">3</tspan></text>
<text x="49.80" y="517.50" font-size="6.0" text-anchor="end" >−10<tspan font-size="3.72" dy="-2.2">3</tspan></text>
<text x="52.40" y="517.50" font-size="6.0" text-anchor="middle" >0</text>
<text x="66.40" y="517.50" font-size="6.0" text-anchor="end" >10<tspan font-size="3.72" dy="-2.2">3</tspan></text>
<text x="81.20" y="517.50" font-size="6.0" text-anchor="end" >10<tspan font-size="3.72" dy="-2.2">4</tspan></text>
<text x="91.60" y="517.50" font-size="6.0" text-anchor="end" >10<tspan font-size="3.72" dy="-2.2">5</tspan></text>
<text x="108.20" y="517.50" font-size="6.0" text-anchor="end" >−10<tspan font-size="3.72" dy="-2.2">3</tspan></text>
<text x="110.80" y="517.50" font-size="6.0" text-anchor="middle" >0</text>
<text x="124.80" y="517.50" font-size="6.0" text-anchor="end" >10<tspan font-size="3.72" dy="-2.2">3</tspan></text>
<text x="139.60" y="517.50" font-size="6.0" text-anchor="end" >10<tspan font-size="3.72" dy="-2.2">4</tspan></text>
<text x="150.00" y="517.50" font-size="6.0" text-anchor="end" >10<tspan font-size="3.72" dy="-2.2">5</tspan></text>
<text x="166.60" y="517.50" font-size="6.0" text-anchor="end" >−10<tspan font-size="3.72" dy="-2.2">3</tspan></text>
<text x="169.20" y="517.50" font-size="6.0" text-anchor="middle" >0</text>
<text x="183.20" y="517.50" font-size="6.0" text-anchor="end" >10<tspan font-size="3.72" dy="-2.2">3</tspan></text>
<text x="198.00" y="517.50" font-size="6.0" text-anchor="end" >10<tspan font-size="3.72" dy="-2.2">4</tspan></text>
<text x="208.40" y="517.50" font-size="6.0" text-anchor="end" >10<tspan font-size="3.72" dy="-2.2">5</tspan></text>
<text x="225.10" y="517.50" font-size="6.0" text-anchor="end" >−10<tspan font-size="3.72" dy="-2.2">3</tspan></text>
<text x="227.70" y="517.50" font-size="6.0" text-anchor="middle" >0</text>
<text x="241.70" y="517.50" font-size="6.0" text-anchor="end" >10<tspan font-size="3.72" dy="-2.2">3</tspan></text>
<text x="256.50" y="517.50" font-size="6.0" text-anchor="end" >10<tspan font-size="3.72" dy="-2.2">4</tspan></text>
<text x="266.90" y="517.50" font-size="6.0" text-anchor="end" >10<tspan font-size="3.72" dy="-2.2">5</tspan></text>
<text x="283.40" y="517.50" font-size="6.0" text-anchor="end" >−10<tspan font-size="3.72" dy="-2.2">3</tspan></text>
<text x="286.00" y="517.50" font-size="6.0" text-anchor="middle" >0</text>
<text x="300.00" y="517.50" font-size="6.0" text-anchor="end" >10<tspan font-size="3.72" dy="-2.2">3</tspan></text>
<text x="314.80" y="517.50" font-size="6.0" text-anchor="end" >10<tspan font-size="3.72" dy="-2.2">4</tspan></text>
<text x="325.20" y="517.50" font-size="6.0" text-anchor="end" >10<tspan font-size="3.72" dy="-2.2">5</tspan></text>
</g>
<g stroke="#111" stroke-width="1.1" fill="none"><path d="M20.2 494 V522.7 H52.5"/></g>
<path d="M20.2 489.8 L18.0 495.4 L22.4 495.4Z M57.0 522.7 L51.4 520.5 L51.4 524.9Z" fill="#111"/>
<text x="15.30" y="505.40" font-size="8.6" text-anchor="middle" textLength="18.20" lengthAdjust="spacingAndGlyphs" transform="rotate(-90 15.30 505.40)" class="L" >CD8a</text>
<text x="38.20" y="534.60" font-size="8.6" text-anchor="middle" textLength="24.20" lengthAdjust="spacingAndGlyphs" class="L" >LAMP-1</text>
<line x1="414.6" y1="383" x2="414.6" y2="473.5" stroke="#c9c9d2" stroke-width="0.8"/>
<line x1="447.4" y1="383" x2="447.4" y2="473.5" stroke="#c9c9d2" stroke-width="0.8"/>
<line x1="480.4" y1="383" x2="480.4" y2="473.5" stroke="#c9c9d2" stroke-width="0.8"/>
<rect x="388.02" y="394.05" width="2.7" height="2.7" fill="#a8a8a8" transform="rotate(45 389.37 395.40)"/>
<rect x="388.42" y="398.05" width="2.7" height="2.7" fill="#a8a8a8" transform="rotate(45 389.77 399.40)"/>
<rect x="387.73" y="405.05" width="2.7" height="2.7" fill="#a8a8a8" transform="rotate(45 389.08 406.40)"/>
<rect x="388.35" y="407.95" width="2.7" height="2.7" fill="#a8a8a8" transform="rotate(45 389.70 409.30)"/>
<rect x="387.80" y="408.85" width="2.7" height="2.7" fill="#a8a8a8" transform="rotate(45 389.15 410.20)"/>
<rect x="388.28" y="415.65" width="2.7" height="2.7" fill="#a8a8a8" transform="rotate(45 389.63 417.00)"/>
<rect x="387.88" y="420.85" width="2.7" height="2.7" fill="#a8a8a8" transform="rotate(45 389.23 422.20)"/>
<rect x="388.57" y="424.85" width="2.7" height="2.7" fill="#a8a8a8" transform="rotate(45 389.92 426.20)"/>
<circle cx="396.60" cy="395.00" r="1.6" fill="none" stroke="#b8103a" stroke-width="0.7"/>
<circle cx="399.80" cy="397.60" r="1.6" fill="none" stroke="#b8103a" stroke-width="0.7"/>
<circle cx="398.00" cy="404.80" r="1.6" fill="none" stroke="#b8103a" stroke-width="0.7"/>
<circle cx="396.20" cy="410.00" r="1.6" fill="none" stroke="#b8103a" stroke-width="0.7"/>
<circle cx="399.80" cy="413.00" r="1.6" fill="none" stroke="#b8103a" stroke-width="0.7"/>
<circle cx="396.60" cy="414.10" r="1.6" fill="none" stroke="#b8103a" stroke-width="0.7"/>
<circle cx="399.80" cy="419.25" r="1.6" fill="none" stroke="#b8103a" stroke-width="0.7"/>
<circle cx="396.60" cy="421.00" r="1.6" fill="none" stroke="#b8103a" stroke-width="0.7"/>
<circle cx="406.50" cy="393.10" r="1.5" fill="#9ad99a" stroke="#2f9a2f" stroke-width="0.5"/>
<path d="M405.00 393.10 A1.5 1.5 0 0 1 408.00 393.10Z" fill="#1f7a1f"/>
<circle cx="405.00" cy="402.30" r="1.5" fill="#9ad99a" stroke="#2f9a2f" stroke-width="0.5"/>
<path d="M403.50 402.30 A1.5 1.5 0 0 1 406.50 402.30Z" fill="#1f7a1f"/>
<circle cx="408.40" cy="402.70" r="1.5" fill="#9ad99a" stroke="#2f9a2f" stroke-width="0.5"/>
<path d="M406.90 402.70 A1.5 1.5 0 0 1 409.90 402.70Z" fill="#1f7a1f"/>
<circle cx="406.50" cy="405.60" r="1.5" fill="#9ad99a" stroke="#2f9a2f" stroke-width="0.5"/>
<path d="M405.00 405.60 A1.5 1.5 0 0 1 408.00 405.60Z" fill="#1f7a1f"/>
<circle cx="405.80" cy="409.30" r="1.5" fill="#9ad99a" stroke="#2f9a2f" stroke-width="0.5"/>
<path d="M404.30 409.30 A1.5 1.5 0 0 1 407.30 409.30Z" fill="#1f7a1f"/>
<circle cx="408.40" cy="410.00" r="1.5" fill="#9ad99a" stroke="#2f9a2f" stroke-width="0.5"/>
<path d="M406.90 410.00 A1.5 1.5 0 0 1 409.90 410.00Z" fill="#1f7a1f"/>
<circle cx="406.50" cy="417.40" r="1.5" fill="#9ad99a" stroke="#2f9a2f" stroke-width="0.5"/>
<path d="M405.00 417.40 A1.5 1.5 0 0 1 408.00 417.40Z" fill="#1f7a1f"/>
<circle cx="406.50" cy="421.50" r="1.5" fill="#9ad99a" stroke="#2f9a2f" stroke-width="0.5"/>
<path d="M405.00 421.50 A1.5 1.5 0 0 1 408.00 421.50Z" fill="#1f7a1f"/>
<path d="M421.59 396.95L423.34 393.89L419.84 393.89Z" fill="#a8a8a8"/>
<path d="M422.25 400.75L424.00 397.69L420.50 397.69Z" fill="#a8a8a8"/>
<path d="M421.10 407.45L422.85 404.39L419.35 404.39Z" fill="#a8a8a8"/>
<path d="M422.13 410.35L423.88 407.29L420.38 407.29Z" fill="#a8a8a8"/>
<path d="M421.22 411.75L422.97 408.69L419.47 408.69Z" fill="#a8a8a8"/>
<path d="M422.01 415.05L423.76 411.99L420.26 411.99Z" fill="#a8a8a8"/>
<path d="M421.35 418.45L423.10 415.39L419.60 415.39Z" fill="#a8a8a8"/>
<path d="M422.50 422.75L424.25 419.69L420.75 419.69Z" fill="#a8a8a8"/>
<path d="M421.47 424.15L423.22 421.09L419.72 421.09Z" fill="#a8a8a8"/>
<path d="M422.38 425.65L424.13 422.59L420.63 422.59Z" fill="#a8a8a8"/>
<path d="M421.59 427.95L423.34 424.89L419.84 424.89Z" fill="#a8a8a8"/>
<path d="M430.69 445.70L432.38 442.73L428.99 442.73Z" fill="#fff" stroke="#b8103a" stroke-width="0.75"/>
<path d="M431.68 447.70L433.38 444.73L429.98 444.73Z" fill="#fff" stroke="#b8103a" stroke-width="0.75"/>
<path d="M429.95 449.70L431.65 446.73L428.25 446.73Z" fill="#fff" stroke="#b8103a" stroke-width="0.75"/>
<path d="M431.50 452.50L433.20 449.53L429.80 449.53Z" fill="#fff" stroke="#b8103a" stroke-width="0.75"/>
<path d="M430.13 453.70L431.83 450.73L428.43 450.73Z" fill="#fff" stroke="#b8103a" stroke-width="0.75"/>
<path d="M431.31 455.70L433.01 452.73L429.62 452.73Z" fill="#fff" stroke="#b8103a" stroke-width="0.75"/>
<path d="M430.32 458.40L432.02 455.43L428.62 455.43Z" fill="#fff" stroke="#b8103a" stroke-width="0.75"/>
<path d="M432.05 459.70L433.75 456.73L430.35 456.73Z" fill="#fff" stroke="#b8103a" stroke-width="0.75"/>
<path d="M430.50 460.40L432.20 457.43L428.80 457.43Z" fill="#fff" stroke="#b8103a" stroke-width="0.75"/>
<path d="M431.87 463.20L433.57 460.23L430.17 460.23Z" fill="#fff" stroke="#b8103a" stroke-width="0.75"/>
<path d="M430.69 464.30L432.38 461.33L428.99 461.33Z" fill="#fff" stroke="#b8103a" stroke-width="0.75"/>
<path d="M431.68 466.70L433.38 463.73L429.98 463.73Z" fill="#fff" stroke="#b8103a" stroke-width="0.75"/>
<path d="M429.95 469.10L431.65 466.12L428.25 466.12Z" fill="#fff" stroke="#b8103a" stroke-width="0.75"/>
<path d="M439.78 401.50L441.28 398.88L438.28 398.88Z" fill="#3a9a3a" stroke="#2a7a2a" stroke-width="0.4"/>
<path d="M441.11 402.40L442.61 399.77L439.61 399.77Z" fill="#3a9a3a" stroke="#2a7a2a" stroke-width="0.4"/>
<path d="M438.80 404.30L440.30 401.68L437.30 401.68Z" fill="#3a9a3a" stroke="#2a7a2a" stroke-width="0.4"/>
<path d="M440.87 412.00L442.37 409.38L439.37 409.38Z" fill="#3a9a3a" stroke="#2a7a2a" stroke-width="0.4"/>
<path d="M439.05 417.20L440.55 414.57L437.55 414.57Z" fill="#3a9a3a" stroke="#2a7a2a" stroke-width="0.4"/>
<path d="M440.62 421.00L442.12 418.38L439.12 418.38Z" fill="#3a9a3a" stroke="#2a7a2a" stroke-width="0.4"/>
<path d="M439.29 425.80L440.79 423.18L437.79 423.18Z" fill="#3a9a3a" stroke="#2a7a2a" stroke-width="0.4"/>
<path d="M441.60 428.70L443.10 426.07L440.10 426.07Z" fill="#3a9a3a" stroke="#2a7a2a" stroke-width="0.4"/>
<path d="M439.53 431.10L441.03 428.48L438.03 428.48Z" fill="#3a9a3a" stroke="#2a7a2a" stroke-width="0.4"/>
<path d="M441.35 434.50L442.85 431.88L439.85 431.88Z" fill="#3a9a3a" stroke="#2a7a2a" stroke-width="0.4"/>
<path d="M439.78 436.80L441.28 434.18L438.28 434.18Z" fill="#3a9a3a" stroke="#2a7a2a" stroke-width="0.4"/>
<path d="M441.11 438.30L442.61 435.68L439.61 435.68Z" fill="#3a9a3a" stroke="#2a7a2a" stroke-width="0.4"/>
<rect x="453.45" y="393.50" width="3.0" height="3.0" fill="#a8a8a8"/>
<rect x="454.25" y="396.10" width="3.0" height="3.0" fill="#a8a8a8"/>
<rect x="452.86" y="398.70" width="3.0" height="3.0" fill="#a8a8a8"/>
<rect x="454.10" y="407.70" width="3.0" height="3.0" fill="#a8a8a8"/>
<rect x="453.01" y="413.80" width="3.0" height="3.0" fill="#a8a8a8"/>
<rect x="453.95" y="415.80" width="3.0" height="3.0" fill="#a8a8a8"/>
<rect x="453.15" y="418.90" width="3.0" height="3.0" fill="#a8a8a8"/>
<rect x="454.54" y="421.40" width="3.0" height="3.0" fill="#a8a8a8"/>
<rect x="453.30" y="423.90" width="3.0" height="3.0" fill="#a8a8a8"/>
<rect x="454.39" y="426.50" width="3.0" height="3.0" fill="#a8a8a8"/>
<rect x="471.15" y="392.60" width="2.8" height="2.8" fill="#a8e0a8" stroke="#2a8a2a" stroke-width="0.5"/>
<rect x="471.15" y="392.60" width="2.8" height="1.4" fill="#1f7a1f"/>
<rect x="471.95" y="398.80" width="2.8" height="2.8" fill="#a8e0a8" stroke="#2a8a2a" stroke-width="0.5"/>
<rect x="471.95" y="398.80" width="2.8" height="1.4" fill="#1f7a1f"/>
<rect x="470.56" y="404.00" width="2.8" height="2.8" fill="#a8e0a8" stroke="#2a8a2a" stroke-width="0.5"/>
<rect x="470.56" y="404.00" width="2.8" height="1.4" fill="#1f7a1f"/>
<rect x="471.80" y="405.40" width="2.8" height="2.8" fill="#a8e0a8" stroke="#2a8a2a" stroke-width="0.5"/>
<rect x="471.80" y="405.40" width="2.8" height="1.4" fill="#1f7a1f"/>
<rect x="470.71" y="406.80" width="2.8" height="2.8" fill="#a8e0a8" stroke="#2a8a2a" stroke-width="0.5"/>
<rect x="470.71" y="406.80" width="2.8" height="1.4" fill="#1f7a1f"/>
<rect x="471.65" y="412.90" width="2.8" height="2.8" fill="#a8e0a8" stroke="#2a8a2a" stroke-width="0.5"/>
<rect x="471.65" y="412.90" width="2.8" height="1.4" fill="#1f7a1f"/>
<rect x="470.85" y="414.90" width="2.8" height="2.8" fill="#a8e0a8" stroke="#2a8a2a" stroke-width="0.5"/>
<rect x="470.85" y="414.90" width="2.8" height="1.4" fill="#1f7a1f"/>
<rect x="472.24" y="426.00" width="2.8" height="2.8" fill="#a8e0a8" stroke="#2a8a2a" stroke-width="0.5"/>
<rect x="472.24" y="426.00" width="2.8" height="1.4" fill="#1f7a1f"/>
<rect x="471.00" y="429.90" width="2.8" height="2.8" fill="#a8e0a8" stroke="#2a8a2a" stroke-width="0.5"/>
<rect x="471.00" y="429.90" width="2.8" height="1.4" fill="#1f7a1f"/>
<rect x="472.09" y="439.20" width="2.8" height="2.8" fill="#a8e0a8" stroke="#2a8a2a" stroke-width="0.5"/>
<rect x="472.09" y="439.20" width="2.8" height="1.4" fill="#1f7a1f"/>
<rect x="471.15" y="442.10" width="2.8" height="2.8" fill="#a8e0a8" stroke="#2a8a2a" stroke-width="0.5"/>
<rect x="471.15" y="442.10" width="2.8" height="1.4" fill="#1f7a1f"/>
<rect x="462.01" y="446.90" width="3.0" height="3.0" fill="none" stroke="#b8103a" stroke-width="0.7"/>
<rect x="462.94" y="451.80" width="3.0" height="3.0" fill="none" stroke="#b8103a" stroke-width="0.7"/>
<rect x="461.32" y="455.70" width="3.0" height="3.0" fill="none" stroke="#b8103a" stroke-width="0.7"/>
<rect x="462.77" y="457.60" width="3.0" height="3.0" fill="none" stroke="#b8103a" stroke-width="0.7"/>
<rect x="461.49" y="460.10" width="3.0" height="3.0" fill="none" stroke="#b8103a" stroke-width="0.7"/>
<rect x="462.59" y="462.50" width="3.0" height="3.0" fill="none" stroke="#b8103a" stroke-width="0.7"/>
<rect x="461.66" y="464.50" width="3.0" height="3.0" fill="none" stroke="#b8103a" stroke-width="0.7"/>
<rect x="463.28" y="466.50" width="3.0" height="3.0" fill="none" stroke="#b8103a" stroke-width="0.7"/>
<rect x="461.83" y="468.50" width="3.0" height="3.0" fill="none" stroke="#b8103a" stroke-width="0.7"/>
<rect x="463.11" y="469.80" width="3.0" height="3.0" fill="none" stroke="#b8103a" stroke-width="0.7"/>
<path d="M487.38 390.90L489.08 393.88L485.68 393.88Z" fill="#fff" stroke="#a8a8a8" stroke-width="0.7"/>
<path d="M488.71 393.40L490.41 396.38L487.01 396.38Z" fill="#fff" stroke="#a8a8a8" stroke-width="0.7"/>
<path d="M486.40 398.50L488.10 401.47L484.70 401.47Z" fill="#fff" stroke="#a8a8a8" stroke-width="0.7"/>
<path d="M488.47 402.00L490.17 404.97L486.77 404.97Z" fill="#fff" stroke="#a8a8a8" stroke-width="0.7"/>
<path d="M486.65 404.00L488.35 406.97L484.95 406.97Z" fill="#fff" stroke="#a8a8a8" stroke-width="0.7"/>
<path d="M488.22 407.60L489.92 410.57L486.52 410.57Z" fill="#fff" stroke="#a8a8a8" stroke-width="0.7"/>
<path d="M486.89 410.60L488.59 413.57L485.19 413.57Z" fill="#fff" stroke="#a8a8a8" stroke-width="0.7"/>
<path d="M489.20 416.20L490.90 419.17L487.50 419.17Z" fill="#fff" stroke="#a8a8a8" stroke-width="0.7"/>
<path d="M487.13 421.20L488.83 424.17L485.44 424.17Z" fill="#fff" stroke="#a8a8a8" stroke-width="0.7"/>
<path d="M505.02 409.30L506.52 411.93L503.52 411.93Z" fill="#3a9a3a" stroke="#2a7a2a" stroke-width="0.4"/>
<path d="M506.22 411.80L507.72 414.43L504.72 414.43Z" fill="#3a9a3a" stroke="#2a7a2a" stroke-width="0.4"/>
<path d="M504.14 414.80L505.64 417.43L502.64 417.43Z" fill="#3a9a3a" stroke="#2a7a2a" stroke-width="0.4"/>
<path d="M506.00 418.40L507.50 421.02L504.50 421.02Z" fill="#3a9a3a" stroke="#2a7a2a" stroke-width="0.4"/>
<path d="M504.36 423.90L505.86 426.52L502.86 426.52Z" fill="#3a9a3a" stroke="#2a7a2a" stroke-width="0.4"/>
<path d="M505.78 425.50L507.28 428.12L504.28 428.12Z" fill="#3a9a3a" stroke="#2a7a2a" stroke-width="0.4"/>
<path d="M504.58 427.00L506.08 429.62L503.08 429.62Z" fill="#3a9a3a" stroke="#2a7a2a" stroke-width="0.4"/>
<path d="M506.66 427.90L508.16 430.52L505.16 430.52Z" fill="#3a9a3a" stroke="#2a7a2a" stroke-width="0.4"/>
<path d="M504.80 430.00L506.30 432.62L503.30 432.62Z" fill="#3a9a3a" stroke="#2a7a2a" stroke-width="0.4"/>
<path d="M506.44 432.30L507.94 434.93L504.94 434.93Z" fill="#3a9a3a" stroke="#2a7a2a" stroke-width="0.4"/>
<path d="M505.02 433.00L506.52 435.62L503.52 435.62Z" fill="#3a9a3a" stroke="#2a7a2a" stroke-width="0.4"/>
<path d="M506.22 434.20L507.72 436.82L504.72 436.82Z" fill="#3a9a3a" stroke="#2a7a2a" stroke-width="0.4"/>
<path d="M504.14 444.00L505.64 446.62L502.64 446.62Z" fill="#3a9a3a" stroke="#2a7a2a" stroke-width="0.4"/>
<path d="M496.75 449.60L498.45 452.57L495.05 452.57Z" fill="#c8143c" stroke="#c8143c" stroke-width="0.6"/>
<path d="M497.55 457.90L499.25 460.88L495.85 460.88Z" fill="#fff" stroke="#c8143c" stroke-width="0.6"/>
<path d="M496.16 459.80L497.86 462.77L494.46 462.77Z" fill="#c8143c" stroke="#c8143c" stroke-width="0.6"/>
<path d="M497.40 461.30L499.10 464.27L495.70 464.27Z" fill="#fff" stroke="#c8143c" stroke-width="0.6"/>
<path d="M496.31 463.70L498.01 466.67L494.61 466.67Z" fill="#c8143c" stroke="#c8143c" stroke-width="0.6"/>
<path d="M497.25 466.20L498.95 469.17L495.55 469.17Z" fill="#fff" stroke="#c8143c" stroke-width="0.6"/>
<path d="M496.45 468.10L498.15 471.07L494.75 471.07Z" fill="#c8143c" stroke="#c8143c" stroke-width="0.6"/>
<path d="M497.84 470.10L499.54 473.07L496.14 473.07Z" fill="#fff" stroke="#c8143c" stroke-width="0.6"/>
<g stroke="#222" fill="none">
<line x1="383.0" y1="383.30" x2="383.0" y2="474.10" stroke-width="1.1"/>
<line x1="382.5" y1="473.60" x2="513.5" y2="473.60" stroke-width="1.2"/>
<line x1="379.4" y1="473.60" x2="383.0" y2="473.60" stroke-width="0.8"/>
<line x1="379.4" y1="451.28" x2="383.0" y2="451.28" stroke-width="0.8"/>
<line x1="379.4" y1="428.95" x2="383.0" y2="428.95" stroke-width="0.8"/>
<line x1="379.4" y1="406.62" x2="383.0" y2="406.62" stroke-width="0.8"/>
<line x1="379.4" y1="384.30" x2="383.0" y2="384.30" stroke-width="0.8"/>
<line x1="389.60" y1="473.60" x2="389.60" y2="476.20" stroke-width="0.8"/>
<line x1="398.40" y1="473.60" x2="398.40" y2="476.20" stroke-width="0.8"/>
<line x1="407.10" y1="473.60" x2="407.10" y2="476.20" stroke-width="0.8"/>
<line x1="422.10" y1="473.60" x2="422.10" y2="476.20" stroke-width="0.8"/>
<line x1="430.90" y1="473.60" x2="430.90" y2="476.20" stroke-width="0.8"/>
<line x1="439.60" y1="473.60" x2="439.60" y2="476.20" stroke-width="0.8"/>
<line x1="454.60" y1="473.60" x2="454.60" y2="476.20" stroke-width="0.8"/>
<line x1="463.40" y1="473.60" x2="463.40" y2="476.20" stroke-width="0.8"/>
<line x1="472.10" y1="473.60" x2="472.10" y2="476.20" stroke-width="0.8"/>
<line x1="487.10" y1="473.60" x2="487.10" y2="476.20" stroke-width="0.8"/>
<line x1="495.90" y1="473.60" x2="495.90" y2="476.20" stroke-width="0.8"/>
<line x1="504.60" y1="473.60" x2="504.60" y2="476.20" stroke-width="0.8"/>
</g>
<g fill="#333">
<text x="377.60" y="475.70" font-size="6" text-anchor="end" textLength="2.80" lengthAdjust="spacingAndGlyphs" >0</text>
<text x="377.60" y="453.38" font-size="6" text-anchor="end" textLength="5.60" lengthAdjust="spacingAndGlyphs" >25</text>
<text x="377.60" y="431.05" font-size="6" text-anchor="end" textLength="5.60" lengthAdjust="spacingAndGlyphs" >50</text>
<text x="377.60" y="408.73" font-size="6" text-anchor="end" textLength="5.60" lengthAdjust="spacingAndGlyphs" >75</text>
<text x="377.60" y="386.40" font-size="6" text-anchor="end" textLength="8.40" lengthAdjust="spacingAndGlyphs" >100</text>
<text x="360.60" y="428.80" font-size="6.8" text-anchor="middle" textLength="64.50" lengthAdjust="spacingAndGlyphs" transform="rotate(-90 360.60 428.80)" >% extracellular LAMP-1</text>
<text x="390.80" y="479.80" font-size="6.2" text-anchor="end" textLength="11.00" lengthAdjust="spacingAndGlyphs" transform="rotate(-90 390.80 479.80)" >NT</text>
<text x="399.60" y="479.80" font-size="6.2" text-anchor="end" textLength="23.50" lengthAdjust="spacingAndGlyphs" transform="rotate(-90 399.60 479.80)" ><tspan font-style="italic">Prf1</tspan> KO</text>
<text x="408.30" y="479.80" font-size="6.2" text-anchor="end" textLength="27.80" lengthAdjust="spacingAndGlyphs" transform="rotate(-90 408.30 479.80)" >PRF1 WT</text>
<text x="423.30" y="479.80" font-size="6.2" text-anchor="end" textLength="11.00" lengthAdjust="spacingAndGlyphs" transform="rotate(-90 423.30 479.80)" >NT</text>
<text x="432.10" y="479.80" font-size="6.2" text-anchor="end" textLength="27.00" lengthAdjust="spacingAndGlyphs" transform="rotate(-90 432.10 479.80)" ><tspan font-style="italic">Stx11</tspan> KO</text>
<text x="440.80" y="479.80" font-size="6.2" text-anchor="end" textLength="31.50" lengthAdjust="spacingAndGlyphs" transform="rotate(-90 440.80 479.80)" >STX11 WT</text>
<text x="455.80" y="479.80" font-size="6.2" text-anchor="end" textLength="11.00" lengthAdjust="spacingAndGlyphs" transform="rotate(-90 455.80 479.80)" >NT</text>
<text x="464.60" y="479.80" font-size="6.2" text-anchor="end" textLength="29.20" lengthAdjust="spacingAndGlyphs" transform="rotate(-90 464.60 479.80)" ><tspan font-style="italic">Stxbp2</tspan> KO</text>
<text x="473.30" y="479.80" font-size="6.2" text-anchor="end" textLength="34.80" lengthAdjust="spacingAndGlyphs" transform="rotate(-90 473.30 479.80)" >STXBP2 WT</text>
<text x="488.30" y="479.80" font-size="6.2" text-anchor="end" textLength="11.00" lengthAdjust="spacingAndGlyphs" transform="rotate(-90 488.30 479.80)" >NT</text>
<text x="497.10" y="479.80" font-size="6.2" text-anchor="end" textLength="30.50" lengthAdjust="spacingAndGlyphs" transform="rotate(-90 497.10 479.80)" ><tspan font-style="italic">Unc13d</tspan> KO</text>
<text x="505.80" y="479.80" font-size="6.2" text-anchor="end" textLength="46.00" lengthAdjust="spacingAndGlyphs" transform="rotate(-90 505.80 479.80)" >MUNC13-4 WT</text>
<line x1="388.30" y1="372.40" x2="406.50" y2="372.40" stroke="#2a2a2a" stroke-width="0.85"/>
<text x="397.40" y="368.70" font-size="5.2" text-anchor="middle" textLength="5.60" lengthAdjust="spacingAndGlyphs" >ns</text>
<line x1="388.60" y1="380.60" x2="396.80" y2="380.60" stroke="#2a2a2a" stroke-width="0.85"/>
<text x="392.70" y="378.60" font-size="5.2" text-anchor="middle" textLength="5.60" lengthAdjust="spacingAndGlyphs" >ns</text>
<line x1="398.60" y1="387.50" x2="406.80" y2="387.50" stroke="#2a2a2a" stroke-width="0.85"/>
<text x="402.70" y="386.00" font-size="5.2" text-anchor="middle" textLength="5.60" lengthAdjust="spacingAndGlyphs" >ns</text>
<line x1="420.80" y1="372.40" x2="439.00" y2="372.40" stroke="#2a2a2a" stroke-width="0.85"/>
<text x="429.90" y="368.70" font-size="5.2" text-anchor="middle" textLength="5.60" lengthAdjust="spacingAndGlyphs" >ns</text>
<line x1="421.10" y1="380.60" x2="429.30" y2="380.60" stroke="#2a2a2a" stroke-width="0.85"/>
<text x="425.20" y="379.50" font-size="5.0" text-anchor="middle" textLength="9.60" lengthAdjust="spacingAndGlyphs" >****</text>
<line x1="431.10" y1="387.50" x2="439.30" y2="387.50" stroke="#2a2a2a" stroke-width="0.85"/>
<text x="435.20" y="386.40" font-size="5.0" text-anchor="middle" textLength="4.80" lengthAdjust="spacingAndGlyphs" >**</text>
<line x1="453.30" y1="372.40" x2="471.50" y2="372.40" stroke="#2a2a2a" stroke-width="0.85"/>
<text x="462.40" y="368.70" font-size="5.2" text-anchor="middle" textLength="5.60" lengthAdjust="spacingAndGlyphs" >ns</text>
<line x1="453.60" y1="380.60" x2="461.80" y2="380.60" stroke="#2a2a2a" stroke-width="0.85"/>
<text x="457.70" y="379.50" font-size="5.0" text-anchor="middle" textLength="7.20" lengthAdjust="spacingAndGlyphs" >***</text>
<line x1="463.60" y1="387.50" x2="471.80" y2="387.50" stroke="#2a2a2a" stroke-width="0.85"/>
<text x="467.70" y="386.40" font-size="5.0" text-anchor="middle" textLength="9.60" lengthAdjust="spacingAndGlyphs" >****</text>
<line x1="485.80" y1="372.40" x2="504.00" y2="372.40" stroke="#2a2a2a" stroke-width="0.85"/>
<text x="494.90" y="368.70" font-size="5.2" text-anchor="middle" textLength="5.60" lengthAdjust="spacingAndGlyphs" >ns</text>
<line x1="486.10" y1="380.60" x2="494.30" y2="380.60" stroke="#2a2a2a" stroke-width="0.85"/>
<text x="490.20" y="379.50" font-size="5.0" text-anchor="middle" textLength="9.60" lengthAdjust="spacingAndGlyphs" >****</text>
<line x1="496.10" y1="387.50" x2="504.30" y2="387.50" stroke="#2a2a2a" stroke-width="0.85"/>
<text x="500.20" y="386.40" font-size="5.0" text-anchor="middle" textLength="4.80" lengthAdjust="spacingAndGlyphs" >**</text>
</g>
</g>
<rect x="0.5" y="0.5" width="519" height="543" fill="none" stroke="#5a5a5a" stroke-width="1"/>
</svg>
</body></html>
